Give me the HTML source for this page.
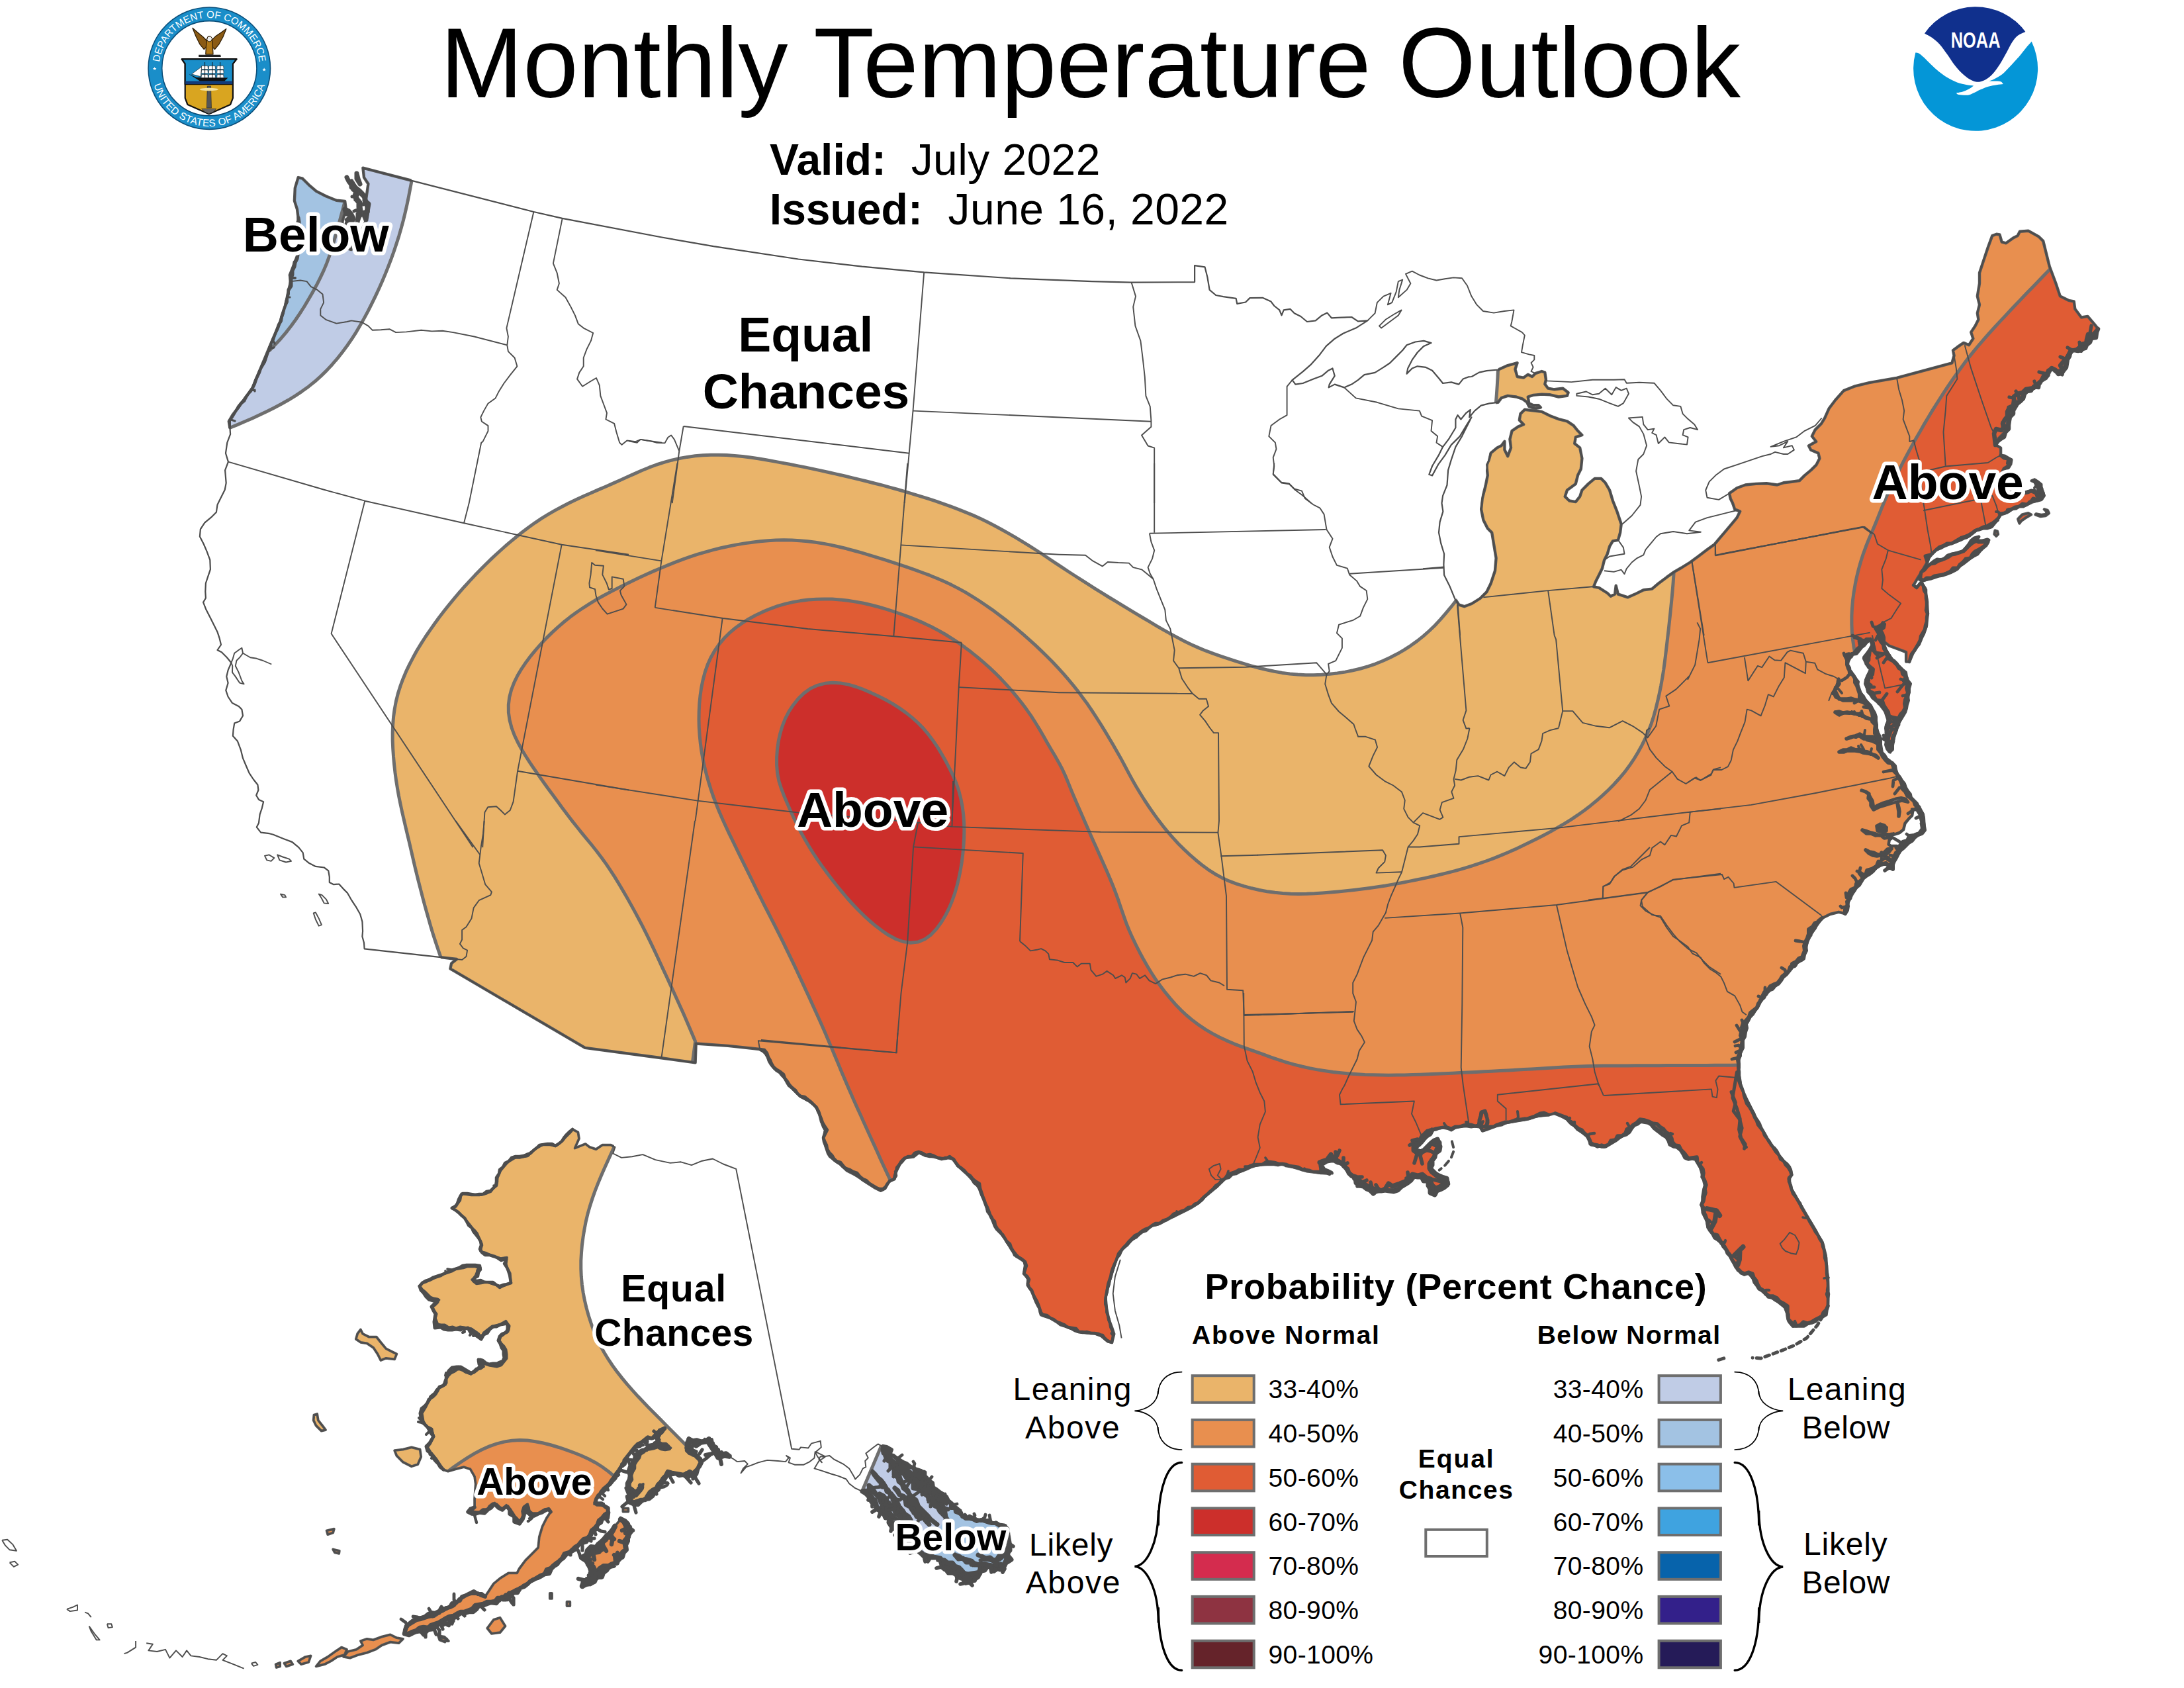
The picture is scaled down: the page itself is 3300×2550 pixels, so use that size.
<!DOCTYPE html><html><head><meta charset="utf-8"><title>Monthly Temperature Outlook</title>
<style>html,body{margin:0;padding:0;background:#fff}svg{display:block}text{font-family:"Liberation Sans",Arial,Helvetica,sans-serif}.b{font-weight:bold}.h{paint-order:stroke;stroke:#fff;stroke-width:11px;stroke-linejoin:round}</style></head><body>
<svg width="3300" height="2550" viewBox="0 0 3300 2550">
<rect width="3300" height="2550" fill="#fff"/>
<defs>
<clipPath id="us"><path d="M548.4 253.7 L622.1 272.9 L806.4 320.0 L849.7 329.9 L1000.0 358.5 L1078.2 372.2 L1206.4 391.5 L1302.6 402.7 L1396.2 411.3 L1526.9 420.3 L1650.0 425.1 L1709.6 426.7 L1805.1 426.1 L1805.1 401.1 L1820.5 403.3 L1824.4 418.7 L1827.6 437.9 L1837.2 446.0 L1848.4 448.2 L1867.6 450.8 L1869.2 458.8 L1882.1 456.5 L1888.5 450.1 L1907.7 449.8 L1920.5 455.6 L1925.3 462.0 L1933.3 468.4 L1936.5 476.4 L1939.7 468.4 L1949.4 466.8 L1955.8 473.2 L1965.4 478.0 L1975.0 486.0 L1987.8 484.4 L1997.4 476.4 L2005.4 472.6 L2011.9 480.3 L2026.3 479.6 L2042.3 479.0 L2051.9 485.4 L2066.3 484.4 L2048.7 495.6 L2029.5 503.7 L2016.7 511.7 L2003.8 522.9 L1994.2 535.7 L1981.4 550.1 L1968.6 561.3 L1952.6 574.2 L1957.4 580.6 L1968.6 579.0 L1984.6 572.6 L1997.4 567.8 L2007.1 559.7 L2013.5 556.5 L2016.7 567.8 L2008.7 580.6 L2007.7 585.4 L2016.7 580.6 L2031.1 585.4 L2042.3 580.6 L2051.9 574.2 L2061.5 566.2 L2077.6 562.9 L2090.4 554.9 L2100.0 548.5 L2109.6 538.9 L2119.2 529.3 L2125.6 521.3 L2138.5 516.5 L2151.3 514.9 L2162.5 518.1 L2151.3 522.9 L2141.7 532.5 L2133.7 543.7 L2127.2 556.5 L2125.6 564.6 L2133.7 556.5 L2141.7 553.3 L2154.5 554.9 L2164.1 559.7 L2173.7 571.0 L2180.1 579.0 L2192.9 577.4 L2204.2 580.6 L2210.6 572.6 L2218.6 569.4 L2223.7 569.0 L2234.9 562.6 L2246.2 560.1 L2263.8 558.5 L2278.2 552.1 L2292.6 548.2 L2289.4 557.8 L2292.6 569.0 L2302.2 570.6 L2308.7 565.8 L2315.1 569.0 L2319.9 564.2 L2329.5 561.0 L2334.3 562.6 L2335.9 573.8 L2334.3 580.3 L2339.1 586.7 L2348.7 588.3 L2361.5 586.7 L2369.6 593.1 L2367.9 597.9 L2355.1 599.5 L2342.3 596.3 L2329.5 595.6 L2316.7 596.9 L2308.7 599.5 L2310.3 609.1 L2316.7 612.3 L2324.7 612.3 L2327.9 615.5 L2319.9 617.1 L2310.3 613.9 L2307.1 607.5 L2300.6 602.7 L2291.0 599.5 L2278.2 597.9 L2268.6 601.1 L2263.5 607.8 L2250.6 609.4 L2237.8 612.6 L2228.2 620.6 L2220.2 630.3 L2221.8 619.0 L2215.4 623.8 L2207.4 633.5 L2202.6 627.1 L2199.4 633.5 L2199.4 646.3 L2189.7 662.3 L2180.1 675.1 L2173.7 687.9 L2164.1 704.0 L2159.3 716.8 L2164.1 718.4 L2173.7 700.8 L2183.3 687.9 L2192.9 671.9 L2205.8 659.1 L2215.4 643.1 L2223.4 630.3 L2220.2 636.7 L2209.0 659.1 L2199.4 675.1 L2192.9 694.4 L2188.1 710.4 L2186.5 732.8 L2180.1 748.8 L2178.5 760.1 L2180.4 772.6 L2175.6 788.6 L2174.0 804.6 L2177.2 820.6 L2182.1 836.7 L2181.4 852.7 L2182.1 868.7 L2190.1 884.7 L2198.1 904.0 L2204.5 913.6 L2212.5 916.2 L2223.7 912.0 L2236.5 904.0 L2246.2 894.4 L2252.6 881.5 L2259.0 862.3 L2260.6 843.1 L2257.4 823.8 L2254.2 804.6 L2247.8 798.2 L2241.3 785.4 L2238.1 769.4 L2239.7 753.3 L2244.6 734.1 L2247.8 718.1 L2246.2 702.1 L2249.4 695.6 L2252.6 684.4 L2262.2 676.4 L2268.6 673.2 L2273.4 666.8 L2273.4 679.6 L2278.2 689.2 L2283.0 676.4 L2281.4 663.6 L2284.6 650.8 L2294.2 644.4 L2302.2 641.2 L2295.8 634.7 L2297.4 625.1 L2303.8 618.7 L2316.7 620.3 L2329.5 621.9 L2342.3 628.3 L2355.1 633.1 L2367.9 636.3 L2377.6 642.8 L2384.0 650.8 L2390.4 657.2 L2380.8 660.4 L2379.2 670.0 L2387.2 676.4 L2390.4 692.4 L2388.8 708.5 L2384.0 718.1 L2380.8 730.9 L2374.4 735.7 L2367.9 740.5 L2364.7 750.1 L2371.2 756.5 L2380.8 758.1 L2387.2 750.1 L2390.4 740.5 L2400.0 730.9 L2409.6 722.9 L2419.2 722.9 L2425.6 729.3 L2432.1 740.5 L2436.9 756.5 L2443.3 772.6 L2449.7 791.8 L2448.1 804.6 L2444.9 815.8 L2436.9 817.4 L2432.1 825.4 L2428.8 836.7 L2424.0 846.3 L2420.8 859.1 L2416.0 868.7 L2411.2 878.3 L2408.0 886.3 L2416.0 887.9 L2428.8 896.0 L2433.7 900.8 L2440.1 897.6 L2441.7 884.7 L2444.9 897.6 L2449.7 899.2 L2459.3 902.4 L2470.5 897.6 L2483.3 891.2 L2496.2 889.6 L2505.8 881.5 L2518.6 871.9 L2529.8 863.9 L2541.0 857.5 L2553.8 849.5 L2566.7 839.9 L2579.5 830.3 L2590.7 822.2 L2598.7 812.6 L2608.3 801.4 L2616.3 791.8 L2624.4 782.2 L2629.2 772.6 L2621.2 769.4 L2617.9 759.7 L2614.7 753.3 L2613.1 745.3 L2624.4 737.3 L2637.2 732.5 L2653.2 730.9 L2669.2 730.3 L2685.3 732.5 L2694.9 729.3 L2707.7 727.7 L2718.9 726.1 L2726.9 718.1 L2736.5 710.1 L2744.6 702.1 L2749.4 692.4 L2747.4 684.6 L2736.2 679.8 L2733.0 673.4 L2744.2 667.0 L2737.8 659.0 L2742.6 649.4 L2752.2 639.7 L2757.1 631.7 L2763.5 617.3 L2773.1 604.5 L2785.9 590.1 L2801.9 583.7 L2824.4 578.2 L2866.0 570.8 L2907.7 559.6 L2949.4 548.4 L2952.6 537.2 L2951.0 529.2 L2957.4 524.4 L2967.0 517.9 L2975.0 521.2 L2981.4 511.5 L2978.2 501.9 L2984.6 492.3 L2989.4 482.7 L2987.8 473.1 L2991.0 460.3 L2987.8 447.4 L2991.0 428.2 L2991.0 412.2 L2997.4 392.9 L3003.8 373.7 L3010.3 356.1 L3016.7 353.8 L3021.5 354.5 L3024.7 365.7 L3031.1 367.3 L3042.3 359.3 L3048.7 356.1 L3051.9 349.7 L3064.7 348.7 L3080.8 357.7 L3087.2 364.1 L3096.8 402.6 L3106.4 428.2 L3112.8 447.4 L3125.6 453.8 L3133.7 455.4 L3135.3 466.7 L3144.9 479.5 L3154.5 477.9 L3164.1 489.1 L3170.5 497.1 L3167.3 505.1 L3157.7 511.5 L3151.3 521.2 L3144.9 530.8 L3132.1 529.2 L3125.6 540.4 L3119.2 553.2 L3116.0 566.0 L3100.0 556.4 L3093.6 569.2 L3084.0 575.6 L3077.6 585.3 L3064.7 588.5 L3055.1 598.1 L3048.7 607.7 L3039.1 617.3 L3034.3 630.1 L3032.7 639.7 L3029.5 652.6 L3019.9 662.2 L3015.1 671.8 L3023.1 676.6 L3023.1 687.8 L3031.1 691.0 L3039.1 694.2 L3035.9 703.8 L3029.5 710.3 L3023.1 719.9 L3026.3 732.7 L3042.3 743.9 L3055.1 745.5 L3064.7 742.3 L3074.4 740.7 L3080.8 748.7 L3077.6 729.5 L3069.6 726.3 L3074.4 724.7 L3082.4 731.1 L3088.8 748.7 L3084.0 755.1 L3071.2 758.3 L3061.5 763.1 L3051.9 764.7 L3042.3 767.9 L3032.7 774.4 L3023.1 777.6 L3016.7 787.2 L3010.3 795.2 L3000.6 796.8 L2987.8 800.0 L2975.0 809.6 L2962.2 816.0 L2949.4 820.8 L2936.5 825.6 L2923.7 832.1 L2915.7 840.1 L2912.2 848.9 L2905.8 860.1 L2897.8 872.9 L2891.3 884.2 L2896.2 887.4 L2902.6 879.4 L2909.0 889.0 L2911.5 908.2 L2912.8 927.4 L2910.6 946.7 L2905.8 959.5 L2899.4 972.3 L2891.3 985.1 L2884.9 999.6 L2880.1 999.6 L2880.1 985.1 L2867.3 980.3 L2854.5 975.5 L2846.5 969.1 L2841.7 959.5 L2840.1 949.9 L2844.9 940.3 L2840.1 953.1 L2843.3 969.1 L2849.7 981.9 L2857.7 994.7 L2867.3 1004.4 L2876.9 1014.0 L2881.7 1025.2 L2884.0 1039.6 L2883.3 1052.4 L2880.1 1068.5 L2873.7 1081.3 L2867.3 1095.7 L2862.5 1110.1 L2859.3 1126.2 L2856.1 1136.4 L2852.9 1132.6 L2850.6 1116.5 L2849.7 1100.5 L2852.9 1087.7 L2849.7 1076.5 L2840.1 1063.7 L2830.4 1054.0 L2822.4 1042.8 L2819.2 1030.0 L2822.4 1020.4 L2828.8 1010.8 L2820.8 1004.4 L2816.0 994.7 L2822.4 985.1 L2828.8 975.5 L2826.3 965.9 L2817.6 972.3 L2806.4 981.9 L2796.8 991.5 L2790.4 999.6 L2793.6 1010.8 L2803.2 1023.6 L2808.0 1036.4 L2811.2 1046.0 L2817.6 1055.6 L2825.6 1065.3 L2830.4 1076.5 L2833.7 1087.7 L2835.9 1100.5 L2837.5 1113.3 L2840.1 1126.2 L2843.3 1137.4 L2848.1 1145.4 L2854.5 1148.6 L2859.3 1153.4 L2858.3 1153.7 L2864.3 1164.4 L2870.2 1175.0 L2876.1 1185.7 L2880.9 1195.2 L2885.6 1202.3 L2890.3 1208.2 L2896.3 1215.3 L2901.0 1221.2 L2904.5 1228.3 L2906.9 1236.6 L2907.5 1246.1 L2906.9 1255.6 L2902.2 1260.3 L2896.3 1262.7 L2890.3 1266.3 L2884.4 1271.0 L2878.5 1275.7 L2873.7 1281.7 L2869.0 1288.8 L2864.3 1295.9 L2860.7 1303.0 L2859.5 1312.5 L2848.7 1304.0 L2839.1 1308.8 L2826.3 1316.9 L2816.7 1324.9 L2807.1 1337.7 L2799.0 1350.5 L2792.6 1363.3 L2790.4 1376.2 L2787.8 1380.0 L2778.2 1377.8 L2765.4 1381.0 L2752.6 1387.4 L2744.6 1398.6 L2736.5 1411.4 L2730.1 1424.2 L2728.5 1437.1 L2723.7 1449.9 L2712.5 1454.7 L2704.5 1465.9 L2694.9 1475.5 L2688.5 1485.1 L2678.8 1491.5 L2669.2 1501.2 L2659.6 1514.0 L2651.6 1526.8 L2643.6 1536.4 L2637.2 1549.2 L2635.6 1562.1 L2632.4 1574.9 L2630.8 1587.7 L2627.6 1600.5 L2626.9 1613.3 L2628.2 1629.4 L2630.8 1642.2 L2638.5 1659.2 L2648.1 1678.5 L2657.7 1697.7 L2670.5 1720.1 L2683.3 1739.4 L2696.2 1755.4 L2705.8 1766.6 L2707.4 1774.6 L2702.6 1781.0 L2707.4 1797.1 L2718.6 1816.3 L2731.4 1838.7 L2744.2 1861.2 L2753.8 1877.2 L2758.7 1896.4 L2760.3 1915.6 L2761.9 1934.9 L2762.5 1954.1 L2761.9 1973.3 L2757.1 1986.2 L2747.4 1992.6 L2734.6 1999.0 L2721.8 2002.2 L2709.0 2003.8 L2702.6 1995.8 L2701.0 1986.2 L2696.2 1973.3 L2683.3 1963.7 L2670.5 1957.3 L2659.3 1947.7 L2651.3 1934.9 L2643.3 1922.1 L2635.3 1925.3 L2625.6 1918.8 L2619.2 1906.0 L2611.2 1893.2 L2600.0 1877.2 L2588.8 1864.4 L2580.8 1854.7 L2579.2 1845.1 L2572.8 1832.3 L2571.2 1819.5 L2574.4 1806.7 L2576.0 1790.6 L2572.8 1777.8 L2569.6 1765.0 L2561.5 1749.0 L2548.7 1750.6 L2539.1 1737.8 L2524.7 1726.5 L2519.9 1716.9 L2507.1 1707.3 L2494.2 1697.7 L2481.4 1692.9 L2468.6 1699.3 L2462.2 1707.3 L2452.6 1715.3 L2439.7 1723.3 L2423.7 1732.9 L2404.5 1729.7 L2398.1 1716.9 L2382.1 1704.1 L2369.2 1691.3 L2350.0 1681.7 L2339.7 1684.3 L2323.7 1685.9 L2307.7 1690.7 L2294.9 1692.3 L2278.8 1695.5 L2262.8 1700.3 L2250.0 1705.1 L2240.4 1708.3 L2234.0 1698.7 L2238.8 1679.5 L2243.6 1677.9 L2248.4 1692.3 L2246.8 1701.9 L2230.8 1701.9 L2217.9 1700.3 L2205.1 1701.9 L2192.3 1705.1 L2179.5 1703.5 L2163.5 1706.7 L2153.8 1714.7 L2147.4 1724.4 L2139.4 1730.8 L2136.2 1737.2 L2147.4 1738.8 L2157.1 1734.0 L2163.5 1724.4 L2173.1 1721.2 L2176.3 1730.8 L2169.9 1743.6 L2163.5 1756.4 L2160.3 1766.0 L2166.7 1772.4 L2176.3 1775.6 L2185.9 1782.1 L2189.1 1788.5 L2179.5 1794.9 L2169.9 1798.1 L2165.1 1804.5 L2163.5 1794.9 L2157.1 1782.1 L2147.4 1777.2 L2137.8 1778.8 L2128.2 1785.3 L2118.6 1791.7 L2105.8 1796.5 L2089.7 1798.1 L2073.7 1801.3 L2064.1 1793.3 L2051.3 1786.9 L2044.9 1778.8 L2035.3 1769.2 L2028.8 1759.6 L2022.4 1756.4 L2012.8 1750.0 L2003.2 1753.2 L1993.6 1756.4 L2000.0 1766.0 L2012.8 1772.4 L2003.2 1772.4 L1987.2 1770.8 L1974.4 1769.2 L1958.3 1764.4 L1942.3 1759.6 L1926.3 1758.0 L1910.3 1759.0 L1892.6 1761.2 L1878.2 1767.6 L1862.2 1774.0 L1849.4 1782.1 L1839.7 1791.7 L1830.1 1799.7 L1820.5 1807.7 L1810.9 1817.3 L1798.1 1825.3 L1782.1 1833.3 L1766.0 1841.3 L1750.0 1849.4 L1741.0 1851.7 L1725.0 1861.3 L1709.0 1874.1 L1696.2 1886.9 L1688.1 1899.7 L1683.3 1912.6 L1678.5 1928.6 L1673.7 1944.6 L1670.5 1960.6 L1672.1 1976.7 L1675.3 1992.7 L1680.1 2005.5 L1683.3 2015.1 L1680.1 2027.9 L1673.7 2026.3 L1664.1 2018.3 L1654.5 2014.5 L1641.7 2013.5 L1628.8 2011.9 L1616.0 2005.5 L1603.2 2000.7 L1590.4 1992.7 L1580.8 1987.9 L1572.8 1986.3 L1569.6 1973.5 L1563.1 1960.6 L1558.3 1949.4 L1552.6 1941.4 L1553.5 1931.8 L1547.1 1923.8 L1550.3 1912.6 L1547.1 1904.6 L1535.9 1898.1 L1527.9 1886.9 L1521.5 1875.7 L1513.5 1864.5 L1503.8 1853.3 L1499.0 1842.1 L1492.6 1829.2 L1487.8 1816.4 L1483.0 1803.6 L1479.8 1794.0 L1468.6 1781.2 L1457.4 1769.9 L1447.8 1761.9 L1439.7 1750.7 L1433.3 1749.1 L1423.7 1750.7 L1410.9 1747.5 L1398.1 1745.9 L1388.5 1741.1 L1380.4 1747.5 L1367.6 1749.1 L1359.6 1758.7 L1353.2 1771.5 L1351.6 1781.2 L1343.6 1784.4 L1337.2 1795.6 L1330.8 1798.8 L1321.2 1794.0 L1311.5 1787.6 L1301.9 1781.2 L1292.3 1774.7 L1279.5 1768.3 L1269.9 1758.7 L1260.3 1752.3 L1252.2 1742.7 L1247.4 1729.9 L1244.2 1718.7 L1247.4 1707.4 L1241.0 1694.6 L1237.8 1681.8 L1233.0 1672.2 L1221.8 1662.6 L1209.0 1656.2 L1199.4 1646.5 L1189.7 1635.3 L1180.1 1620.9 L1170.5 1614.5 L1162.5 1603.3 L1157.7 1590.4 L1148.1 1585.0 L1100.0 1579.9 L1051.6 1576.5 L1050.6 1605.4 L999.4 1598.3 L884.0 1582.9 L680.4 1463.4 L682.1 1455.4 L690.1 1449.0 L666.0 1446.1 L550.6 1433.3 L550.0 1424.3 L547.4 1414.7 L548.1 1406.7 L547.4 1392.2 L544.2 1381.0 L537.8 1369.8 L531.4 1360.2 L525.0 1349.0 L518.6 1342.6 L512.2 1335.5 L504.2 1336.2 L497.8 1332.9 L497.8 1324.9 L496.2 1315.3 L489.7 1310.5 L476.9 1308.9 L467.3 1304.1 L459.3 1297.7 L457.7 1288.1 L451.3 1280.1 L441.7 1272.1 L428.8 1267.2 L412.8 1260.8 L407.1 1259.2 L394.2 1257.6 L387.8 1249.6 L391.0 1243.2 L392.6 1230.4 L395.8 1220.8 L398.1 1211.2 L391.0 1207.9 L387.2 1201.5 L390.4 1193.5 L389.4 1185.5 L383.0 1177.5 L376.6 1167.9 L371.8 1156.7 L367.0 1145.4 L363.8 1132.6 L359.0 1119.8 L351.9 1111.8 L352.6 1102.2 L354.2 1092.6 L362.2 1089.4 L367.0 1081.3 L365.4 1071.7 L360.6 1066.9 L351.0 1062.1 L344.6 1052.5 L341.3 1042.9 L344.6 1031.7 L342.3 1022.1 L344.6 1012.4 L349.4 1001.2 L342.9 993.2 L334.9 985.2 L328.5 982.0 L334.0 974.0 L331.7 964.4 L328.5 954.7 L323.7 945.1 L317.3 932.3 L311.5 921.1 L307.1 909.9 L310.9 903.5 L310.3 893.8 L310.9 881.0 L314.1 871.4 L317.9 860.2 L317.3 845.8 L312.5 832.9 L307.7 821.7 L301.9 810.5 L302.9 799.3 L309.3 789.7 L318.9 781.7 L326.9 773.7 L328.5 762.4 L333.3 752.8 L339.7 740.0 L341.7 729.6 L340.1 710.4 L344.9 697.6 L341.0 684.7 L343.3 668.7 L348.1 655.9 L347.4 646.3 L345.8 636.7 L351.3 627.1 L360.9 614.2 L370.5 601.4 L381.7 585.4 L389.7 566.2 L397.8 546.9 L405.8 527.7 L413.8 508.5 L423.4 486.0 L431.4 460.4 L436.2 437.9 L439.4 425.1 L437.8 415.5 L444.2 399.5 L449.0 386.7 L451.3 354.6 L450.6 329.0 L449.0 316.2 L444.9 303.3 L445.8 284.1 L450.6 268.1 L457.1 269.7 L466.7 279.3 L477.9 288.9 L492.3 296.3 L508.3 302.7 L521.2 304.0 L522.8 316.2 L517.9 332.2 L514.7 354.6 L521.2 373.8 L530.8 377.1 L537.2 361.0 L546.8 348.2 L553.2 332.2 L556.4 319.4 L553.2 300.1 L556.4 277.7 L550.0 268.1 L548.4 253.7 Z M2903.1 864.2 L2913.0 854.3 L2921.8 848.8 L2929.5 845.5 L2938.2 844.4 L2943.7 838.9 L2954.7 835.6 L2965.7 832.3 L2973.4 824.6 L2978.9 816.9 L2985.5 812.5 L2988.8 811.4 L2985.5 816.9 L2988.8 819.1 L2995.4 816.9 L3005.3 815.8 L3000.9 823.5 L2992.1 831.2 L2983.3 838.9 L2974.5 845.5 L2965.7 852.1 L2956.9 858.7 L2948.1 863.1 L2939.3 866.4 L2930.5 869.7 L2921.8 871.9 L2913.0 875.2 L2905.3 877.4 L2899.8 875.2 L2902.0 868.6 Z M3049.2 784.0 L3055.8 777.4 L3064.6 775.2 L3069.0 777.4 L3061.3 781.8 L3053.6 787.3 L3051.4 790.5 Z M3075.6 777.4 L3083.3 780.1 L3091.0 779.0 L3095.9 775.2 L3093.7 770.8 L3088.8 769.5 L3092.6 773.0 L3091.5 776.8 L3084.4 777.9 L3076.7 776.3 Z M3014.6 801.5 L3017.9 802.6 L3019.0 807.0 L3016.3 809.8 L3013.5 807.0 Z"/></clipPath>
<clipPath id="ak"><path d="M865.4 1706.3 L855.8 1715.3 L847.8 1724.9 L839.7 1731.3 L826.9 1728.1 L817.3 1729.7 L807.7 1736.1 L798.1 1745.7 L785.3 1748.9 L775.6 1748.9 L766.0 1756.9 L756.4 1768.1 L751.6 1779.4 L750.0 1790.6 L740.4 1800.2 L727.6 1805.0 L711.5 1804.4 L697.1 1803.4 L693.9 1814.6 L689.1 1822.6 L682.7 1824.9 L692.3 1830.6 L701.9 1840.3 L711.5 1853.1 L721.2 1865.9 L727.6 1878.7 L726.0 1889.9 L737.2 1894.7 L748.4 1897.9 L756.4 1901.2 L766.0 1899.6 L764.4 1910.8 L770.8 1923.6 L771.8 1938.0 L756.4 1944.4 L743.6 1938.0 L730.8 1936.4 L721.2 1938.0 L713.1 1933.2 L721.2 1926.8 L721.2 1918.8 L726.0 1915.6 L721.2 1912.4 L705.1 1912.4 L689.1 1917.2 L673.1 1923.6 L657.1 1930.0 L641.0 1936.4 L634.0 1942.8 L641.0 1952.4 L650.6 1962.1 L663.5 1963.7 L657.1 1970.1 L652.2 1973.3 L657.1 1981.3 L658.7 1987.7 L657.1 1995.7 L660.3 2002.1 L673.1 2003.7 L685.9 2008.5 L698.7 2005.3 L711.5 2006.9 L721.2 2013.3 L727.6 2019.7 L730.8 2013.3 L743.6 2003.7 L756.4 2000.5 L764.4 1995.7 L768.6 2003.7 L767.6 2011.7 L756.4 2016.5 L753.2 2026.2 L758.0 2032.6 L762.8 2039.0 L764.4 2051.8 L756.4 2061.4 L743.6 2063.0 L734.0 2059.8 L726.0 2053.4 L722.8 2056.6 L730.8 2064.6 L721.2 2069.4 L711.5 2075.8 L701.9 2071.0 L692.3 2064.6 L682.7 2071.0 L674.7 2080.6 L673.1 2091.9 L663.5 2096.7 L657.1 2106.3 L649.0 2114.3 L642.6 2123.9 L636.2 2135.1 L639.4 2147.9 L644.2 2154.4 L652.2 2159.2 L655.4 2170.4 L650.6 2180.0 L645.8 2186.4 L652.2 2196.0 L660.3 2205.6 L666.7 2215.3 L669.9 2220.1 L677.0 2222.6 L688.2 2219.4 L701.0 2216.2 L710.6 2219.4 L717.1 2230.6 L718.7 2241.8 L717.1 2264.2 L717.1 2277.1 L707.4 2283.5 L717.1 2286.7 L729.9 2283.5 L739.5 2277.1 L747.5 2270.6 L752.3 2277.1 L758.7 2280.3 L765.1 2273.8 L771.5 2280.3 L777.9 2293.1 L784.4 2299.5 L790.8 2289.9 L790.8 2278.7 L797.2 2272.2 L798.8 2280.3 L803.6 2289.9 L816.4 2285.1 L829.2 2278.7 L832.4 2283.5 L826.0 2293.1 L819.6 2305.9 L814.8 2321.9 L813.2 2337.9 L803.6 2347.6 L794.0 2357.2 L784.4 2370.0 L781.2 2376.4 L768.3 2376.4 L755.5 2384.4 L745.9 2392.4 L739.5 2402.1 L733.1 2411.7 L726.7 2408.5 L717.1 2406.9 L704.2 2410.1 L694.6 2416.5 L685.0 2424.5 L675.4 2430.9 L665.8 2435.7 L656.2 2442.1 L643.3 2443.7 L630.5 2446.9 L620.9 2451.7 L612.9 2459.7 L611.3 2467.8 L620.9 2466.2 L633.7 2461.3 L646.5 2459.7 L656.2 2456.5 L665.8 2450.1 L675.4 2445.3 L685.0 2440.5 L694.6 2437.3 L704.2 2432.5 L717.1 2427.7 L729.9 2422.9 L742.7 2419.7 L752.3 2414.9 L761.9 2410.1 L771.5 2405.3 L781.2 2400.4 L790.8 2395.6 L800.4 2389.2 L810.0 2384.4 L819.6 2378.0 L829.2 2371.6 L838.8 2362.0 L848.5 2354.0 L858.1 2346.0 L867.7 2337.9 L877.3 2331.5 L886.9 2323.5 L893.3 2315.5 L899.7 2305.9 L906.2 2297.9 L912.6 2291.5 L919.0 2285.1 L917.4 2277.1 L907.8 2273.8 L898.1 2272.2 L901.3 2262.6 L907.8 2254.6 L915.8 2246.6 L922.2 2240.2 L928.6 2230.6 L933.4 2222.6 L939.8 2212.9 L946.2 2203.3 L952.6 2193.7 L960.6 2185.7 L970.3 2177.7 L978.3 2171.3 L986.3 2172.9 L992.7 2164.9 L1003.9 2158.5 L995.9 2168.1 L992.7 2177.7 L1002.3 2182.5 L1013.5 2187.3 L1005.5 2188.9 L992.7 2184.1 L979.9 2188.9 L967.1 2195.3 L959.0 2206.5 L955.8 2219.4 L952.6 2232.2 L951.0 2245.0 L957.4 2254.6 L965.4 2248.2 L971.9 2241.8 L968.7 2251.4 L957.4 2261.0 L949.4 2264.2 L957.4 2270.6 L970.3 2265.8 L979.9 2259.4 L989.5 2251.4 L995.9 2241.8 L1005.5 2232.2 L1011.9 2222.6 L1021.5 2225.8 L1029.6 2229.0 L1040.8 2222.6 L1047.2 2229.0 L1055.2 2216.2 L1060.0 2206.5 L1050.4 2200.1 L1040.8 2195.3 L1036.0 2187.3 L1040.8 2174.5 L1053.6 2179.3 L1063.2 2176.1 L1072.8 2171.3 L1079.2 2184.1 L1088.8 2193.7 L1101.7 2200.1 L1109.2 2204.7 L1113.7 2208.1 L1125.2 2207.0 L1129.8 2211.6 L1122.9 2218.4 L1119.5 2225.3 L1127.5 2216.2 L1134.3 2213.9 L1145.8 2209.3 L1159.5 2205.9 L1175.5 2207.0 L1187.0 2208.1 L1191.6 2202.4 L1188.1 2199.0 L1193.9 2202.4 L1191.6 2209.3 L1200.7 2212.7 L1214.5 2212.7 L1223.6 2208.1 L1230.5 2202.4 L1231.6 2193.3 L1235.1 2200.1 L1241.9 2209.3 L1237.4 2204.7 L1239.7 2200.1 L1246.5 2201.3 L1237.4 2207.0 L1230.5 2218.4 L1241.9 2221.9 L1255.7 2226.5 L1267.1 2229.9 L1278.6 2234.5 L1283.2 2241.3 L1292.3 2248.2 L1302.6 2252.8 L1315.2 2257.4 L1322.1 2266.5 L1324.4 2275.7 L1333.5 2284.8 L1345.0 2291.7 L1349.5 2300.9 L1363.3 2314.6 L1379.3 2332.9 L1395.3 2348.9 L1420.5 2353.5 L1425.1 2367.3 L1438.8 2374.1 L1452.6 2383.3 L1464.0 2389.0 L1477.7 2381.0 L1480.0 2371.8 L1493.8 2365.0 L1512.1 2368.4 L1519.0 2355.8 L1519.0 2310.0 L1509.8 2305.4 L1505.2 2300.9 L1498.4 2302.0 L1489.2 2297.4 L1477.7 2296.3 L1466.3 2292.8 L1457.1 2294.0 L1452.6 2289.4 L1445.7 2284.8 L1443.4 2278.0 L1437.7 2278.0 L1436.5 2271.1 L1425.1 2259.7 L1413.6 2250.5 L1404.5 2241.3 L1397.6 2232.2 L1390.8 2226.5 L1381.6 2218.4 L1370.1 2213.9 L1361.0 2209.3 L1351.8 2201.3 L1342.7 2197.8 L1340.4 2188.7 L1333.5 2185.2 L1326.6 2181.4 L1319.8 2186.4 L1308.3 2195.5 L1311.8 2202.4 L1307.2 2207.0 L1308.3 2216.2 L1303.8 2218.4 L1299.2 2227.6 L1292.3 2234.5 L1290.0 2229.9 L1283.2 2218.4 L1274.0 2211.6 L1260.3 2204.7 L1253.4 2199.0 L1246.5 2200.1 L1232.8 2193.3 L1240.8 2186.4 L1239.7 2176.8 L1225.9 2180.7 L1221.3 2187.5 L1209.9 2186.4 L1207.6 2189.8 L1196.2 2188.7 L1112.2 1765.9 L1092.9 1758.5 L1076.9 1750.5 L1060.9 1753.7 L1044.9 1760.1 L1028.8 1755.3 L1012.8 1756.9 L990.4 1752.1 L971.2 1744.1 L955.1 1747.3 L939.1 1748.9 L926.3 1742.5 L929.5 1732.9 L923.1 1729.7 L910.3 1729.7 L900.6 1736.1 L891.0 1732.9 L884.6 1728.1 L868.6 1734.5 L875.0 1720.1 L873.4 1710.4 L865.4 1706.3 Z M544.9 2008.5 L548.1 2014.9 L557.7 2019.7 L568.9 2019.7 L575.3 2027.8 L583.3 2037.4 L592.9 2042.2 L599.4 2045.4 L596.2 2053.4 L583.3 2051.8 L575.3 2055.0 L570.5 2045.4 L564.1 2035.8 L554.5 2029.4 L544.9 2027.8 L537.8 2022.9 L540.1 2014.9 Z M596.2 2191.2 L609.0 2189.6 L621.8 2186.4 L634.6 2189.6 L636.2 2200.8 L631.4 2212.1 L621.8 2215.3 L609.0 2208.8 L599.4 2199.2 Z M938.2 2294.7 L949.4 2302.7 L955.8 2312.3 L947.8 2325.1 L946.2 2341.2 L938.2 2354.0 L928.6 2363.6 L915.8 2373.2 L906.2 2382.8 L893.3 2390.8 L880.5 2395.6 L886.9 2386.0 L893.3 2373.2 L886.9 2363.6 L882.1 2354.0 L890.1 2344.4 L901.3 2337.9 L909.4 2328.3 L919.0 2318.7 L928.6 2305.9 Z M736.3 2459.7 L745.9 2446.9 L755.5 2443.7 L763.5 2456.5 L755.5 2466.2 L742.7 2467.8 Z M544.9 2479.0 L554.5 2475.8 L564.1 2477.4 L576.9 2472.6 L589.7 2469.4 L599.4 2474.2 L609.0 2475.8 L602.6 2482.2 L589.7 2480.6 L576.9 2485.4 L567.3 2491.8 L554.5 2496.6 L541.7 2499.8 L528.8 2504.6 L519.2 2503.0 L525.6 2495.0 L538.5 2491.8 L548.1 2485.4 Z M506.4 2495.0 L516.0 2488.6 L524.0 2491.8 L520.8 2499.8 L509.6 2503.0 L500.0 2509.4 L490.4 2514.2 L477.6 2517.4 L484.0 2509.4 L495.2 2503.0 Z M450.3 2509.4 L461.5 2503.0 L469.6 2501.4 L466.3 2511.0 L455.1 2514.2 Z M429.5 2512.6 L439.1 2509.4 L442.3 2514.2 L432.7 2517.4 Z M416.7 2514.2 L423.1 2511.7 L423.1 2517.4 L417.6 2519.0 Z M662.6 2472.6 L675.4 2475.8 L672.2 2480.6 L664.2 2477.4 Z M856.5 2419.7 L861.3 2419.7 L861.3 2426.1 L856.5 2426.1 Z M830.8 2406.9 L834.0 2406.9 L834.0 2414.9 L830.8 2414.9 Z M941.4 2278.7 L949.4 2278.7 L949.4 2283.5 L941.4 2283.5 Z M474.4 2137.6 L479.2 2136.0 L480.8 2145.6 L487.2 2153.7 L492.0 2160.1 L485.6 2161.7 L477.6 2153.7 L473.7 2145.6 Z M493.6 2312.3 L504.8 2309.7 L503.2 2315.5 L495.2 2318.1 Z M503.2 2340.5 L512.8 2342.8 L512.2 2346.9 L505.8 2345.3 Z M661.9 2471.0 L671.5 2472.6 L677.9 2479.0 L668.3 2479.0 Z"/></clipPath>
<clipPath id="col"><path d="M666.0 1446.1 L662.1 1434.7 L658.3 1423.4 L654.6 1411.9 L651.1 1400.4 L647.8 1388.9 L644.5 1377.3 L641.3 1365.8 L638.2 1354.2 L635.2 1342.5 L632.2 1330.9 L629.3 1319.2 L626.5 1307.6 L623.8 1295.9 L621.1 1284.2 L618.4 1272.5 L615.6 1260.8 L612.8 1249.1 L610.1 1237.4 L607.4 1225.7 L604.9 1213.9 L602.5 1202.2 L600.4 1190.4 L598.5 1178.5 L596.9 1166.6 L595.6 1154.7 L594.5 1142.7 L593.7 1130.8 L593.2 1118.8 L593.2 1106.8 L593.6 1094.9 L594.6 1082.9 L596.2 1071.1 L598.4 1059.4 L601.3 1047.8 L604.9 1036.4 L609.1 1025.2 L613.7 1014.2 L618.9 1003.4 L624.4 992.8 L630.2 982.3 L636.4 972.1 L642.9 962.0 L649.7 952.1 L656.6 942.3 L663.7 932.6 L671.0 923.1 L678.5 913.6 L686.1 904.4 L693.9 895.2 L701.8 886.2 L709.9 877.4 L718.1 868.6 L726.5 860.0 L735.0 851.5 L743.6 843.1 L752.4 835.0 L761.3 827.0 L770.4 819.1 L779.7 811.5 L789.0 804.0 L798.6 796.7 L808.3 789.8 L818.3 783.2 L828.5 776.9 L838.9 770.9 L849.5 765.2 L860.1 759.7 L871.0 754.5 L881.9 749.5 L892.9 744.7 L903.9 739.9 L914.9 735.2 L925.9 730.4 L936.9 725.5 L947.8 720.5 L958.8 715.6 L969.7 710.7 L980.8 706.2 L992.0 702.0 L1003.4 698.4 L1014.9 695.2 L1026.6 692.5 L1038.4 690.4 L1050.2 688.8 L1062.1 687.7 L1074.1 687.2 L1086.0 687.2 L1098.0 687.6 L1110.0 688.4 L1121.9 689.5 L1133.8 691.0 L1145.7 692.8 L1157.5 694.7 L1169.3 696.9 L1181.2 699.1 L1192.9 701.3 L1204.7 703.6 L1216.5 705.9 L1228.3 708.4 L1240.0 710.9 L1251.8 713.5 L1263.5 716.1 L1275.2 718.8 L1286.9 721.6 L1298.5 724.4 L1310.2 727.3 L1321.9 730.2 L1333.5 733.2 L1345.1 736.3 L1356.7 739.5 L1368.2 742.8 L1379.7 746.3 L1391.2 749.8 L1402.7 753.4 L1414.1 757.1 L1425.4 761.1 L1436.7 765.2 L1447.9 769.4 L1459.1 773.8 L1470.2 778.4 L1481.1 783.3 L1491.9 788.5 L1502.5 794.0 L1513.1 799.7 L1523.6 805.6 L1534.0 811.6 L1544.3 817.8 L1554.5 824.1 L1564.6 830.5 L1574.7 837.0 L1584.6 843.7 L1594.5 850.3 L1604.4 856.9 L1614.4 863.5 L1624.5 870.0 L1634.5 876.4 L1644.7 882.9 L1654.8 889.3 L1665.0 895.7 L1675.2 902.0 L1685.5 908.2 L1695.7 914.4 L1706.0 920.6 L1716.3 926.8 L1726.6 933.0 L1737.0 939.2 L1747.3 945.3 L1757.7 951.3 L1768.1 957.2 L1778.7 962.9 L1789.3 968.5 L1800.1 973.7 L1811.1 978.6 L1822.1 983.2 L1833.4 987.4 L1844.7 991.3 L1856.1 995.1 L1867.5 998.8 L1878.9 1002.4 L1890.4 1005.8 L1902.0 1009.0 L1913.7 1011.8 L1925.4 1014.3 L1937.2 1016.4 L1949.0 1018.0 L1960.9 1019.1 L1972.9 1019.7 L1984.9 1019.7 L1996.8 1019.3 L2008.8 1018.3 L2020.7 1016.9 L2032.5 1015.1 L2044.2 1012.8 L2055.9 1010.0 L2067.4 1006.7 L2078.6 1002.8 L2089.7 998.3 L2100.6 993.3 L2111.2 987.8 L2121.5 981.8 L2131.6 975.3 L2141.3 968.4 L2150.7 960.9 L2159.6 953.0 L2168.2 944.7 L2176.4 935.9 L2184.2 926.9 L2191.9 917.7 L2199.4 908.3 L2202.7 897.7 L2206.2 887.0 L2209.8 876.0 L2213.6 864.8 L2217.3 853.5 L2220.8 842.0 L2223.9 830.5 L2226.7 818.8 L2229.2 807.1 L2231.4 795.3 L2233.5 783.5 L2235.4 771.7 L2237.1 759.8 L2238.7 747.9 L2240.5 736.1 L2242.4 724.2 L2244.5 712.5 L2246.9 700.7 L2249.3 689.0 L2251.5 677.2 L2253.5 665.4 L2255.3 653.5 L2256.8 641.6 L2258.2 629.7 L2259.5 617.8 L2260.6 605.8 L2261.5 593.9 L2262.3 581.9 L2263.0 569.9 L2263.5 557.9 L2264.0 546.0 L2264.4 534.0 L2264.8 522.0 L2265.1 510.0 L2265.3 498.0 L2265.5 486.0 L2265.7 474.0 L2265.9 462.0 L2266.1 450.0 L2266.2 438.0 L2266.4 426.0 L2266.5 414.0 L2266.7 402.0 L2266.8 390.0 L2267.0 378.0 L2267.2 366.0 L2267.3 354.0 L2267.5 342.0 L2267.6 330.0 L2267.8 318.0 L2268.0 306.0 L2268.1 294.0 L2268.3 282.0 L2268.4 270.0 L2268.6 258.0 L2268.7 246.0 L2268.9 234.0 L2269.1 222.0 L2269.2 210.0 L2269.4 198.0 L2269.5 186.0 L2269.7 174.0 L2269.8 162.0 L2270.0 150.0 L3400.0 150.0 L3400.0 2700.0 L500.0 2700.0 Z M622.1 272.9 L619.8 284.9 L617.5 297.0 L615.0 309.0 L612.3 320.9 L609.4 332.8 L606.2 344.6 L602.8 356.4 L599.1 368.1 L595.2 379.7 L591.1 391.2 L586.7 402.7 L582.1 414.1 L577.4 425.3 L572.4 436.5 L567.2 447.6 L561.8 458.6 L556.3 469.6 L550.5 480.4 L544.5 491.1 L538.3 501.6 L531.7 511.9 L524.7 522.0 L517.5 531.8 L509.9 541.4 L501.9 550.7 L493.6 559.6 L484.9 568.1 L475.8 576.3 L466.3 583.9 L456.4 591.1 L446.3 597.9 L435.8 604.3 L425.2 610.3 L414.4 616.0 L403.4 621.5 L392.3 626.8 L381.2 631.9 L370.0 636.8 L358.7 641.6 L347.4 646.3 L100.0 700.0 L100.0 100.0 L600.0 100.0 Z"/></clipPath>
<clipPath id="colak"><path d="M927.9 1732.9 L922.9 1743.8 L917.9 1754.8 L912.9 1765.8 L908.1 1776.8 L903.5 1787.9 L899.1 1799.1 L895.1 1810.4 L891.4 1821.9 L888.1 1833.4 L885.3 1845.1 L883.0 1856.9 L881.1 1868.7 L879.5 1880.6 L878.5 1892.6 L877.8 1904.6 L877.8 1916.6 L878.3 1928.6 L879.4 1940.5 L881.1 1952.4 L883.3 1964.1 L886.1 1975.8 L889.3 1987.4 L893.0 1998.8 L897.1 2010.1 L901.7 2021.1 L906.8 2032.0 L912.5 2042.5 L918.7 2052.7 L925.4 2062.7 L932.5 2072.4 L939.9 2081.9 L947.6 2091.1 L955.5 2100.2 L963.6 2109.1 L971.9 2117.8 L980.2 2126.5 L988.7 2135.1 L997.2 2143.6 L1005.7 2152.2 L1014.2 2160.7 L1022.7 2169.2 L1031.2 2177.7 L1150.0 2300.0 L1150.0 2600.0 L-100.0 2600.0 L-100.0 1600.0 L928.0 1600.0 Z M1331.2 2185.2 L1302.6 2252.8 L1315.2 2257.4 L1322.1 2266.5 L1324.4 2275.7 L1333.5 2284.8 L1345.0 2291.7 L1349.5 2300.9 L1363.3 2314.6 L1379.3 2332.9 L1395.3 2348.9 L1420.5 2353.5 L1425.1 2367.3 L1438.8 2374.1 L1452.6 2383.3 L1464.0 2389.0 L1477.7 2381.0 L1480.0 2371.8 L1493.8 2365.0 L1512.1 2368.4 L1519.0 2355.8 L1519.0 2310.0 L1509.8 2305.4 L1505.2 2300.9 L1498.4 2302.0 L1489.2 2297.4 L1477.7 2296.3 L1466.3 2292.8 L1457.1 2294.0 L1452.6 2289.4 L1445.7 2284.8 L1443.4 2278.0 L1437.7 2278.0 L1436.5 2271.1 L1425.1 2259.7 L1413.6 2250.5 L1404.5 2241.3 L1397.6 2232.2 L1390.8 2226.5 L1381.6 2218.4 L1370.1 2213.9 L1361.0 2209.3 L1351.8 2201.3 L1342.7 2197.8 L1340.4 2188.7 L1333.5 2185.2 Z"/></clipPath>
</defs>
<g clip-path="url(#us)">
<path d="M666.0 1446.1 L662.1 1434.7 L658.3 1423.4 L654.6 1411.9 L651.1 1400.4 L647.8 1388.9 L644.5 1377.3 L641.3 1365.8 L638.2 1354.2 L635.2 1342.5 L632.2 1330.9 L629.3 1319.2 L626.5 1307.6 L623.8 1295.9 L621.1 1284.2 L618.4 1272.5 L615.6 1260.8 L612.8 1249.1 L610.1 1237.4 L607.4 1225.7 L604.9 1213.9 L602.5 1202.2 L600.4 1190.4 L598.5 1178.5 L596.9 1166.6 L595.6 1154.7 L594.5 1142.7 L593.7 1130.8 L593.2 1118.8 L593.2 1106.8 L593.6 1094.9 L594.6 1082.9 L596.2 1071.1 L598.4 1059.4 L601.3 1047.8 L604.9 1036.4 L609.1 1025.2 L613.7 1014.2 L618.9 1003.4 L624.4 992.8 L630.2 982.3 L636.4 972.1 L642.9 962.0 L649.7 952.1 L656.6 942.3 L663.7 932.6 L671.0 923.1 L678.5 913.6 L686.1 904.4 L693.9 895.2 L701.8 886.2 L709.9 877.4 L718.1 868.6 L726.5 860.0 L735.0 851.5 L743.6 843.1 L752.4 835.0 L761.3 827.0 L770.4 819.1 L779.7 811.5 L789.0 804.0 L798.6 796.7 L808.3 789.8 L818.3 783.2 L828.5 776.9 L838.9 770.9 L849.5 765.2 L860.1 759.7 L871.0 754.5 L881.9 749.5 L892.9 744.7 L903.9 739.9 L914.9 735.2 L925.9 730.4 L936.9 725.5 L947.8 720.5 L958.8 715.6 L969.7 710.7 L980.8 706.2 L992.0 702.0 L1003.4 698.4 L1014.9 695.2 L1026.6 692.5 L1038.4 690.4 L1050.2 688.8 L1062.1 687.7 L1074.1 687.2 L1086.0 687.2 L1098.0 687.6 L1110.0 688.4 L1121.9 689.5 L1133.8 691.0 L1145.7 692.8 L1157.5 694.7 L1169.3 696.9 L1181.2 699.1 L1192.9 701.3 L1204.7 703.6 L1216.5 705.9 L1228.3 708.4 L1240.0 710.9 L1251.8 713.5 L1263.5 716.1 L1275.2 718.8 L1286.9 721.6 L1298.5 724.4 L1310.2 727.3 L1321.9 730.2 L1333.5 733.2 L1345.1 736.3 L1356.7 739.5 L1368.2 742.8 L1379.7 746.3 L1391.2 749.8 L1402.7 753.4 L1414.1 757.1 L1425.4 761.1 L1436.7 765.2 L1447.9 769.4 L1459.1 773.8 L1470.2 778.4 L1481.1 783.3 L1491.9 788.5 L1502.5 794.0 L1513.1 799.7 L1523.6 805.6 L1534.0 811.6 L1544.3 817.8 L1554.5 824.1 L1564.6 830.5 L1574.7 837.0 L1584.6 843.7 L1594.5 850.3 L1604.4 856.9 L1614.4 863.5 L1624.5 870.0 L1634.5 876.4 L1644.7 882.9 L1654.8 889.3 L1665.0 895.7 L1675.2 902.0 L1685.5 908.2 L1695.7 914.4 L1706.0 920.6 L1716.3 926.8 L1726.6 933.0 L1737.0 939.2 L1747.3 945.3 L1757.7 951.3 L1768.1 957.2 L1778.7 962.9 L1789.3 968.5 L1800.1 973.7 L1811.1 978.6 L1822.1 983.2 L1833.4 987.4 L1844.7 991.3 L1856.1 995.1 L1867.5 998.8 L1878.9 1002.4 L1890.4 1005.8 L1902.0 1009.0 L1913.7 1011.8 L1925.4 1014.3 L1937.2 1016.4 L1949.0 1018.0 L1960.9 1019.1 L1972.9 1019.7 L1984.9 1019.7 L1996.8 1019.3 L2008.8 1018.3 L2020.7 1016.9 L2032.5 1015.1 L2044.2 1012.8 L2055.9 1010.0 L2067.4 1006.7 L2078.6 1002.8 L2089.7 998.3 L2100.6 993.3 L2111.2 987.8 L2121.5 981.8 L2131.6 975.3 L2141.3 968.4 L2150.7 960.9 L2159.6 953.0 L2168.2 944.7 L2176.4 935.9 L2184.2 926.9 L2191.9 917.7 L2199.4 908.3 L2202.7 897.7 L2206.2 887.0 L2209.8 876.0 L2213.6 864.8 L2217.3 853.5 L2220.8 842.0 L2223.9 830.5 L2226.7 818.8 L2229.2 807.1 L2231.4 795.3 L2233.5 783.5 L2235.4 771.7 L2237.1 759.8 L2238.7 747.9 L2240.5 736.1 L2242.4 724.2 L2244.5 712.5 L2246.9 700.7 L2249.3 689.0 L2251.5 677.2 L2253.5 665.4 L2255.3 653.5 L2256.8 641.6 L2258.2 629.7 L2259.5 617.8 L2260.6 605.8 L2261.5 593.9 L2262.3 581.9 L2263.0 569.9 L2263.5 557.9 L2264.0 546.0 L2264.4 534.0 L2264.8 522.0 L2265.1 510.0 L2265.3 498.0 L2265.5 486.0 L2265.7 474.0 L2265.9 462.0 L2266.1 450.0 L2266.2 438.0 L2266.4 426.0 L2266.5 414.0 L2266.7 402.0 L2266.8 390.0 L2267.0 378.0 L2267.2 366.0 L2267.3 354.0 L2267.5 342.0 L2267.6 330.0 L2267.8 318.0 L2268.0 306.0 L2268.1 294.0 L2268.3 282.0 L2268.4 270.0 L2268.6 258.0 L2268.7 246.0 L2268.9 234.0 L2269.1 222.0 L2269.2 210.0 L2269.4 198.0 L2269.5 186.0 L2269.7 174.0 L2269.8 162.0 L2270.0 150.0 L3400.0 150.0 L3400.0 2700.0 L500.0 2700.0 Z" fill="#EAB46A" stroke="#6e6e6e" stroke-width="5" stroke-linejoin="round"/>
<path d="M1050.6 1573.3 L1046.0 1562.2 L1041.3 1551.2 L1036.5 1540.1 L1031.7 1529.1 L1026.8 1518.2 L1021.8 1507.2 L1016.8 1496.3 L1011.8 1485.4 L1006.8 1474.5 L1001.7 1463.6 L996.7 1452.7 L991.6 1441.8 L986.5 1430.9 L981.3 1420.1 L976.0 1409.3 L970.6 1398.6 L965.0 1388.0 L959.3 1377.4 L953.5 1366.9 L947.6 1356.4 L941.6 1346.0 L935.5 1335.7 L929.2 1325.4 L922.7 1315.3 L916.0 1305.4 L909.0 1295.7 L901.8 1286.2 L894.3 1276.8 L886.7 1267.6 L879.1 1258.3 L871.6 1249.0 L864.1 1239.6 L856.8 1230.1 L849.6 1220.5 L842.5 1210.8 L835.4 1201.1 L828.3 1191.4 L821.3 1181.7 L814.3 1171.9 L807.4 1162.0 L800.7 1152.1 L794.2 1142.0 L788.0 1131.8 L782.3 1121.3 L777.2 1110.5 L773.1 1099.5 L770.1 1088.1 L768.4 1076.5 L768.3 1064.9 L769.7 1053.4 L772.6 1042.1 L776.8 1031.1 L782.0 1020.5 L788.1 1010.3 L794.8 1000.4 L802.0 990.8 L809.6 981.6 L817.5 972.6 L825.7 963.9 L834.3 955.4 L843.1 947.3 L852.2 939.5 L861.5 932.1 L871.2 925.0 L881.1 918.3 L891.2 911.8 L901.4 905.6 L911.9 899.7 L922.5 894.1 L933.2 888.6 L943.9 883.3 L954.7 878.0 L965.6 872.8 L976.5 867.8 L987.4 862.9 L998.5 858.2 L1009.5 853.6 L1020.7 849.2 L1032.0 844.9 L1043.3 840.9 L1054.7 837.2 L1066.2 833.8 L1077.7 830.6 L1089.4 827.8 L1101.1 825.2 L1112.9 822.9 L1124.7 820.9 L1136.6 819.2 L1148.5 817.8 L1160.5 816.7 L1172.4 816.1 L1184.4 815.8 L1196.4 816.0 L1208.3 816.7 L1220.3 817.8 L1232.2 819.3 L1244.0 821.1 L1255.8 823.4 L1267.5 826.0 L1279.2 828.8 L1290.8 832.0 L1302.3 835.2 L1313.8 838.6 L1325.3 842.1 L1336.8 845.6 L1348.3 849.3 L1359.7 853.1 L1371.0 856.9 L1382.4 860.9 L1393.6 865.0 L1404.9 869.2 L1416.0 873.7 L1427.0 878.5 L1437.8 883.6 L1448.5 889.1 L1459.0 894.9 L1469.2 901.1 L1479.4 907.5 L1489.3 914.2 L1499.2 921.1 L1508.8 928.2 L1518.4 935.5 L1527.8 942.9 L1537.1 950.6 L1546.2 958.4 L1555.2 966.3 L1564.1 974.4 L1572.8 982.6 L1581.4 991.0 L1589.9 999.5 L1598.1 1008.2 L1606.2 1017.1 L1614.0 1026.2 L1621.7 1035.4 L1629.2 1044.8 L1636.4 1054.4 L1643.5 1064.1 L1650.2 1074.0 L1656.8 1084.1 L1663.2 1094.2 L1669.5 1104.4 L1675.7 1114.7 L1681.8 1125.1 L1687.8 1135.4 L1693.7 1145.9 L1699.4 1156.5 L1705.0 1167.1 L1710.7 1177.6 L1716.6 1188.0 L1722.8 1198.3 L1729.2 1208.5 L1735.8 1218.5 L1742.7 1228.4 L1749.7 1238.1 L1757.0 1247.6 L1764.6 1256.9 L1772.5 1265.9 L1780.6 1274.7 L1789.1 1283.1 L1797.9 1291.3 L1806.9 1299.2 L1816.2 1306.7 L1825.8 1313.8 L1835.8 1320.2 L1846.2 1325.9 L1857.0 1330.9 L1868.1 1335.1 L1879.5 1338.7 L1891.1 1341.8 L1902.7 1344.5 L1914.5 1346.7 L1926.4 1348.3 L1938.3 1349.5 L1950.2 1350.2 L1962.2 1350.5 L1974.2 1350.3 L1986.2 1349.8 L1998.1 1349.0 L2010.1 1348.1 L2022.1 1347.0 L2034.0 1345.8 L2046.0 1344.5 L2057.9 1343.1 L2069.8 1341.5 L2081.7 1339.8 L2093.6 1338.0 L2105.4 1335.9 L2117.2 1333.7 L2129.0 1331.4 L2140.7 1329.0 L2152.5 1326.6 L2164.2 1324.0 L2175.9 1321.3 L2187.6 1318.4 L2199.2 1315.4 L2210.8 1312.1 L2222.3 1308.7 L2233.7 1304.9 L2245.0 1301.0 L2256.3 1296.8 L2267.4 1292.4 L2278.5 1287.8 L2289.5 1282.9 L2300.3 1277.8 L2311.1 1272.6 L2321.9 1267.2 L2332.6 1261.7 L2343.2 1256.1 L2353.6 1250.2 L2364.0 1244.2 L2374.2 1237.8 L2384.1 1231.2 L2393.9 1224.2 L2403.4 1216.9 L2412.7 1209.3 L2421.7 1201.4 L2430.4 1193.2 L2438.8 1184.7 L2446.9 1175.8 L2454.6 1166.7 L2461.8 1157.1 L2468.5 1147.2 L2474.7 1137.0 L2480.5 1126.6 L2485.8 1115.8 L2490.6 1104.9 L2494.9 1093.8 L2498.6 1082.4 L2501.8 1070.9 L2504.7 1059.2 L2507.3 1047.5 L2509.7 1035.8 L2511.8 1023.9 L2513.7 1012.1 L2515.3 1000.2 L2516.8 988.3 L2518.2 976.4 L2519.6 964.4 L2521.0 952.5 L2522.3 940.5 L2523.6 928.6 L2524.8 916.7 L2526.0 904.7 L2527.1 892.7 L2528.1 880.8 L2528.9 868.8 L2529.6 856.8 L2530.0 844.8 L2530.4 832.8 L2530.7 820.8 L2531.0 808.8 L2531.2 796.8 L2531.5 784.8 L2531.7 772.7 L2531.8 760.7 L2532.0 748.7 L2532.1 736.7 L2532.2 724.7 L2532.2 712.7 L2532.3 700.7 L2532.3 688.7 L2532.4 676.6 L2532.4 664.6 L2532.5 652.6 L2532.5 640.6 L2532.6 628.6 L2532.7 616.6 L2532.7 604.6 L2532.8 592.5 L2532.8 580.5 L2532.9 568.5 L2532.9 556.5 L2533.0 544.5 L2533.0 532.5 L2533.1 520.5 L2533.1 508.5 L2533.2 496.4 L2533.3 484.4 L2533.3 472.4 L2533.4 460.4 L2533.4 448.4 L2533.5 436.4 L2533.5 424.4 L2533.6 412.3 L2533.6 400.3 L2533.7 388.3 L2533.7 376.3 L2533.8 364.3 L2533.9 352.3 L2533.9 340.3 L2534.0 328.3 L2534.0 316.2 L2534.1 304.2 L2534.1 292.2 L2534.2 280.2 L2534.2 268.2 L2534.3 256.2 L2534.3 244.2 L2534.4 232.1 L2534.5 220.1 L2534.5 208.1 L2534.6 196.1 L2534.6 184.1 L2534.7 172.1 L2534.7 160.1 L2534.8 148.1 L2534.8 136.0 L2534.9 124.0 L2534.9 112.0 L2535.0 100.0 L3400.0 100.0 L3400.0 2700.0 L900.0 2700.0 Z" fill="#E88F4F" stroke="#6e6e6e" stroke-width="5" stroke-linejoin="round"/>
<path d="M1345.2 1782.8 L1340.1 1771.9 L1335.0 1761.0 L1330.0 1750.1 L1325.1 1739.1 L1320.1 1728.1 L1315.1 1717.2 L1310.1 1706.2 L1305.1 1695.3 L1300.2 1684.3 L1295.2 1673.4 L1290.3 1662.4 L1285.5 1651.4 L1280.7 1640.4 L1275.9 1629.3 L1271.2 1618.2 L1266.6 1607.1 L1261.9 1596.0 L1257.3 1584.9 L1252.6 1573.9 L1247.9 1562.8 L1243.1 1551.8 L1238.2 1540.8 L1233.2 1529.8 L1228.3 1518.9 L1223.3 1507.9 L1218.2 1497.0 L1213.2 1486.1 L1208.1 1475.2 L1203.0 1464.3 L1197.8 1453.4 L1192.6 1442.6 L1187.4 1431.8 L1182.1 1420.9 L1176.7 1410.2 L1171.3 1399.4 L1165.8 1388.7 L1160.4 1378.0 L1154.9 1367.3 L1149.5 1356.5 L1144.1 1345.8 L1138.8 1335.0 L1133.5 1324.2 L1128.2 1313.4 L1122.9 1302.6 L1117.6 1291.8 L1112.3 1281.0 L1107.1 1270.2 L1101.8 1259.3 L1096.7 1248.5 L1091.7 1237.5 L1086.9 1226.5 L1082.4 1215.4 L1078.1 1204.1 L1074.2 1192.8 L1070.6 1181.3 L1067.4 1169.8 L1064.5 1158.1 L1062.0 1146.4 L1059.9 1134.6 L1058.3 1122.7 L1057.1 1110.7 L1056.3 1098.8 L1056.0 1086.8 L1056.2 1074.8 L1056.8 1062.8 L1058.0 1050.9 L1059.7 1039.0 L1062.1 1027.3 L1065.1 1015.8 L1069.0 1004.6 L1073.8 993.7 L1079.6 983.4 L1086.3 973.7 L1093.8 964.6 L1102.2 956.2 L1111.3 948.5 L1120.9 941.6 L1131.1 935.2 L1141.6 929.5 L1152.3 924.4 L1163.4 919.8 L1174.7 915.7 L1186.1 912.4 L1197.8 909.6 L1209.5 907.6 L1221.4 906.1 L1233.4 905.2 L1245.3 904.9 L1257.3 905.1 L1269.2 905.9 L1281.2 907.2 L1293.0 909.1 L1304.8 911.3 L1316.5 914.0 L1328.1 917.0 L1339.6 920.4 L1351.1 924.1 L1362.5 928.0 L1373.7 932.1 L1384.9 936.6 L1395.9 941.4 L1406.7 946.5 L1417.4 952.1 L1427.8 958.0 L1438.0 964.3 L1448.0 970.9 L1457.8 977.9 L1467.4 985.1 L1476.8 992.6 L1485.9 1000.4 L1494.9 1008.4 L1503.6 1016.6 L1512.1 1025.1 L1520.3 1033.9 L1528.3 1042.9 L1536.0 1052.1 L1543.5 1061.5 L1550.7 1071.1 L1557.6 1080.9 L1564.1 1091.0 L1570.4 1101.2 L1576.4 1111.6 L1582.3 1121.9 L1588.3 1132.2 L1594.3 1142.3 L1600.1 1152.4 L1605.5 1162.7 L1610.3 1173.3 L1614.8 1184.1 L1619.2 1195.1 L1623.8 1206.0 L1628.5 1217.0 L1633.4 1228.0 L1638.2 1239.0 L1643.0 1250.1 L1647.8 1261.1 L1652.7 1272.1 L1657.7 1283.0 L1662.6 1294.0 L1667.5 1305.0 L1672.4 1316.0 L1677.1 1327.0 L1681.7 1338.2 L1686.0 1349.4 L1690.1 1360.7 L1693.9 1372.0 L1697.8 1383.4 L1701.8 1394.7 L1706.3 1405.8 L1711.2 1416.7 L1716.4 1427.5 L1721.8 1438.2 L1727.5 1448.8 L1733.5 1459.3 L1739.7 1469.5 L1746.3 1479.6 L1753.2 1489.3 L1760.5 1498.9 L1768.1 1508.2 L1776.0 1517.2 L1784.3 1525.8 L1793.1 1534.0 L1802.2 1541.6 L1811.8 1548.7 L1821.8 1555.3 L1832.1 1561.4 L1842.7 1567.0 L1853.6 1572.1 L1864.6 1576.8 L1875.8 1581.1 L1887.1 1585.1 L1898.4 1589.2 L1909.7 1593.2 L1921.0 1597.3 L1932.4 1601.2 L1943.8 1604.8 L1955.4 1608.1 L1967.0 1611.0 L1978.7 1613.6 L1990.5 1615.9 L2002.4 1617.8 L2014.3 1619.5 L2026.2 1620.8 L2038.2 1621.9 L2050.2 1622.7 L2062.2 1623.4 L2074.2 1623.8 L2086.2 1624.1 L2098.2 1624.2 L2110.3 1624.1 L2122.3 1623.9 L2134.3 1623.6 L2146.3 1623.2 L2158.4 1622.8 L2170.4 1622.3 L2182.4 1621.8 L2194.4 1621.2 L2206.4 1620.6 L2218.4 1620.0 L2230.5 1619.4 L2242.5 1618.8 L2254.5 1618.2 L2266.5 1617.6 L2278.5 1616.9 L2290.5 1616.3 L2302.5 1615.6 L2314.5 1614.9 L2326.5 1614.2 L2338.6 1613.5 L2350.6 1612.8 L2362.6 1612.1 L2374.6 1611.5 L2386.6 1611.0 L2398.6 1610.6 L2410.7 1610.3 L2422.7 1610.1 L2434.7 1610.0 L2446.7 1609.9 L2458.8 1609.9 L2470.8 1609.8 L2482.8 1609.8 L2494.9 1609.7 L2506.9 1609.7 L2518.9 1609.6 L2530.9 1609.6 L2543.0 1609.5 L2555.0 1609.5 L2567.0 1609.4 L2579.1 1609.4 L2591.1 1609.3 L2603.1 1609.2 L2615.2 1609.2 L2627.2 1609.0 L2639.2 1608.9 L2651.2 1608.7 L2663.3 1608.6 L2675.3 1608.4 L2687.3 1608.2 L2699.4 1607.9 L2711.4 1607.7 L2723.4 1607.4 L2735.4 1607.1 L2747.5 1606.7 L2759.5 1606.4 L2771.5 1606.1 L2783.5 1605.8 L2795.6 1605.5 L2807.6 1605.1 L2819.6 1604.8 L2831.6 1604.5 L2843.7 1604.2 L2855.7 1603.8 L2867.7 1603.5 L2879.7 1603.2 L2891.8 1602.9 L2903.8 1602.6 L2915.8 1602.2 L2927.8 1601.9 L2939.9 1601.6 L2951.9 1601.3 L2963.9 1601.0 L2975.9 1600.6 L2988.0 1600.3 L3000.0 1600.0 L3000.0 2700.0 L1300.0 2700.0 Z" fill="#E05C34" stroke="#6e6e6e" stroke-width="5" stroke-linejoin="round"/>
<path d="M3125.6 376.9 L3096.8 407.4 L3088.4 416.1 L3080.0 424.8 L3071.6 433.4 L3063.2 442.1 L3054.9 450.8 L3046.5 459.6 L3038.2 468.3 L3030.0 477.1 L3021.7 485.9 L3013.5 494.8 L3005.4 503.7 L2997.4 512.8 L2989.6 521.9 L2981.9 531.2 L2974.3 540.6 L2967.0 550.2 L2959.9 559.9 L2952.9 569.8 L2946.0 579.7 L2939.3 589.7 L2932.7 599.8 L2926.2 610.0 L2919.8 620.2 L2913.6 630.5 L2907.4 640.9 L2901.4 651.4 L2895.4 661.8 L2889.5 672.4 L2883.7 683.0 L2878.0 693.6 L2872.4 704.3 L2866.9 715.1 L2861.6 725.9 L2856.4 736.8 L2851.5 747.7 L2846.8 758.8 L2842.3 769.8 L2837.9 780.9 L2833.4 792.0 L2828.7 803.1 L2824.0 814.1 L2819.5 825.3 L2815.4 836.6 L2811.7 848.0 L2808.4 859.6 L2805.5 871.3 L2803.1 883.1 L2801.1 894.9 L2799.5 906.9 L2798.5 918.9 L2797.9 930.9 L2797.9 942.9 L2798.4 954.9 L2799.6 966.9 L2801.3 978.8 L2803.7 990.6 L2806.5 1002.2 L2809.8 1013.8 L2813.5 1025.3 L2817.6 1036.6 L2822.1 1047.7 L2826.7 1058.8 L2831.1 1070.0 L2835.2 1081.3 L2838.9 1092.8 L2842.4 1104.3 L2846.0 1115.6 L2850.1 1126.4 L2855.3 1136.0 L2862.2 1143.7 L2870.8 1149.2 L2881.1 1152.8 L2892.3 1155.1 L2904.0 1156.8 L2916.0 1158.1 L2928.0 1159.5 L2940.0 1160.8 L2952.0 1162.1 L2964.0 1163.4 L2976.0 1164.7 L2988.0 1166.0 L3000.0 1167.3 L3012.0 1168.6 L3024.0 1169.9 L3036.0 1171.2 L3048.0 1172.5 L3060.0 1173.8 L3072.0 1175.2 L3084.0 1176.5 L3096.0 1177.8 L3108.0 1179.1 L3120.0 1180.4 L3132.0 1181.7 L3144.0 1183.0 L3156.0 1184.3 L3168.0 1185.6 L3180.0 1186.9 L3192.0 1188.2 L3204.0 1189.5 L3216.0 1190.8 L3228.0 1192.2 L3240.0 1193.5 L3252.0 1194.8 L3264.0 1196.1 L3276.0 1197.4 L3288.0 1198.7 L3300.0 1200.0 L3300.0 300.0 L3144.9 364.1 Z" fill="#E05C34" stroke="#6e6e6e" stroke-width="5" stroke-linejoin="round"/>
<path d="M1176.9 1179.7 L1180.5 1191.2 L1184.8 1202.5 L1189.5 1213.6 L1194.4 1224.7 L1199.5 1235.8 L1204.8 1246.7 L1210.3 1257.5 L1216.2 1268.1 L1222.3 1278.5 L1228.7 1288.9 L1235.4 1299.0 L1242.4 1308.9 L1249.5 1318.6 L1256.9 1328.3 L1264.4 1337.8 L1272.1 1347.2 L1279.9 1356.5 L1288.0 1365.5 L1296.4 1374.3 L1305.0 1382.8 L1313.9 1391.0 L1323.2 1398.8 L1332.8 1406.1 L1342.8 1412.8 L1353.4 1418.5 L1364.4 1422.5 L1375.8 1424.3 L1387.0 1423.1 L1397.5 1418.8 L1406.9 1411.9 L1415.0 1403.3 L1422.1 1393.6 L1428.3 1383.3 L1433.8 1372.5 L1438.5 1361.4 L1442.5 1350.0 L1445.9 1338.4 L1448.8 1326.6 L1451.2 1314.7 L1453.2 1302.8 L1454.7 1290.8 L1455.9 1278.7 L1456.6 1266.6 L1456.9 1254.5 L1456.6 1242.4 L1455.7 1230.3 L1454.1 1218.3 L1451.8 1206.5 L1448.8 1194.8 L1445.0 1183.3 L1440.3 1172.2 L1435.0 1161.3 L1429.4 1150.6 L1423.4 1140.0 L1417.2 1129.6 L1410.4 1119.6 L1403.2 1109.9 L1395.4 1100.6 L1387.0 1092.0 L1378.0 1083.9 L1368.5 1076.4 L1358.6 1069.4 L1348.4 1062.9 L1337.8 1057.0 L1327.0 1051.6 L1316.0 1046.4 L1304.9 1041.7 L1293.6 1037.5 L1282.0 1034.1 L1270.2 1031.9 L1258.3 1031.2 L1246.5 1032.3 L1235.1 1035.3 L1224.4 1040.3 L1214.8 1047.1 L1206.3 1055.4 L1198.8 1064.7 L1192.2 1074.7 L1186.6 1085.4 L1182.2 1096.6 L1178.8 1108.1 L1176.2 1119.9 L1174.5 1131.9 L1173.6 1143.9 L1173.6 1156.0 L1174.6 1167.9 Z" fill="#CC2F2B" stroke="#6e6e6e" stroke-width="5" stroke-linejoin="round"/>
<path d="M622.1 272.9 L619.8 284.9 L617.5 297.0 L615.0 309.0 L612.3 320.9 L609.4 332.8 L606.2 344.6 L602.8 356.4 L599.1 368.1 L595.2 379.7 L591.1 391.2 L586.7 402.7 L582.1 414.1 L577.4 425.3 L572.4 436.5 L567.2 447.6 L561.8 458.6 L556.3 469.6 L550.5 480.4 L544.5 491.1 L538.3 501.6 L531.7 511.9 L524.7 522.0 L517.5 531.8 L509.9 541.4 L501.9 550.7 L493.6 559.6 L484.9 568.1 L475.8 576.3 L466.3 583.9 L456.4 591.1 L446.3 597.9 L435.8 604.3 L425.2 610.3 L414.4 616.0 L403.4 621.5 L392.3 626.8 L381.2 631.9 L370.0 636.8 L358.7 641.6 L347.4 646.3 L100.0 700.0 L100.0 100.0 L600.0 100.0 Z" fill="#C0CCE6" stroke="#6e6e6e" stroke-width="5" stroke-linejoin="round"/>
<path d="M521.2 304.0 L518.1 315.8 L514.9 327.6 L511.7 339.4 L508.5 351.2 L505.1 362.9 L501.6 374.6 L497.9 386.2 L493.7 397.7 L489.0 408.9 L483.8 419.9 L478.3 430.8 L472.4 441.5 L466.3 452.1 L460.1 462.5 L453.5 472.8 L446.7 483.0 L439.6 492.8 L432.1 502.4 L424.2 511.7 L415.9 520.6 L407.4 529.3 L200.0 600.0 L200.0 100.0 L520.0 100.0 Z" fill="#A3C3E2" stroke="#6e6e6e" stroke-width="5" stroke-linejoin="round"/>
</g>
<g clip-path="url(#col)"><path d="M548.4 253.7 L622.1 272.9 L806.4 320.0 L849.7 329.9 L1000.0 358.5 L1078.2 372.2 L1206.4 391.5 L1302.6 402.7 L1396.2 411.3 L1526.9 420.3 L1650.0 425.1 L1709.6 426.7 L1805.1 426.1 L1805.1 401.1 L1820.5 403.3 L1824.4 418.7 L1827.6 437.9 L1837.2 446.0 L1848.4 448.2 L1867.6 450.8 L1869.2 458.8 L1882.1 456.5 L1888.5 450.1 L1907.7 449.8 L1920.5 455.6 L1925.3 462.0 L1933.3 468.4 L1936.5 476.4 L1939.7 468.4 L1949.4 466.8 L1955.8 473.2 L1965.4 478.0 L1975.0 486.0 L1987.8 484.4 L1997.4 476.4 L2005.4 472.6 L2011.9 480.3 L2026.3 479.6 L2042.3 479.0 L2051.9 485.4 L2066.3 484.4 L2048.7 495.6 L2029.5 503.7 L2016.7 511.7 L2003.8 522.9 L1994.2 535.7 L1981.4 550.1 L1968.6 561.3 L1952.6 574.2 L1957.4 580.6 L1968.6 579.0 L1984.6 572.6 L1997.4 567.8 L2007.1 559.7 L2013.5 556.5 L2016.7 567.8 L2008.7 580.6 L2007.7 585.4 L2016.7 580.6 L2031.1 585.4 L2042.3 580.6 L2051.9 574.2 L2061.5 566.2 L2077.6 562.9 L2090.4 554.9 L2100.0 548.5 L2109.6 538.9 L2119.2 529.3 L2125.6 521.3 L2138.5 516.5 L2151.3 514.9 L2162.5 518.1 L2151.3 522.9 L2141.7 532.5 L2133.7 543.7 L2127.2 556.5 L2125.6 564.6 L2133.7 556.5 L2141.7 553.3 L2154.5 554.9 L2164.1 559.7 L2173.7 571.0 L2180.1 579.0 L2192.9 577.4 L2204.2 580.6 L2210.6 572.6 L2218.6 569.4 L2223.7 569.0 L2234.9 562.6 L2246.2 560.1 L2263.8 558.5 L2278.2 552.1 L2292.6 548.2 L2289.4 557.8 L2292.6 569.0 L2302.2 570.6 L2308.7 565.8 L2315.1 569.0 L2319.9 564.2 L2329.5 561.0 L2334.3 562.6 L2335.9 573.8 L2334.3 580.3 L2339.1 586.7 L2348.7 588.3 L2361.5 586.7 L2369.6 593.1 L2367.9 597.9 L2355.1 599.5 L2342.3 596.3 L2329.5 595.6 L2316.7 596.9 L2308.7 599.5 L2310.3 609.1 L2316.7 612.3 L2324.7 612.3 L2327.9 615.5 L2319.9 617.1 L2310.3 613.9 L2307.1 607.5 L2300.6 602.7 L2291.0 599.5 L2278.2 597.9 L2268.6 601.1 L2263.5 607.8 L2250.6 609.4 L2237.8 612.6 L2228.2 620.6 L2220.2 630.3 L2221.8 619.0 L2215.4 623.8 L2207.4 633.5 L2202.6 627.1 L2199.4 633.5 L2199.4 646.3 L2189.7 662.3 L2180.1 675.1 L2173.7 687.9 L2164.1 704.0 L2159.3 716.8 L2164.1 718.4 L2173.7 700.8 L2183.3 687.9 L2192.9 671.9 L2205.8 659.1 L2215.4 643.1 L2223.4 630.3 L2220.2 636.7 L2209.0 659.1 L2199.4 675.1 L2192.9 694.4 L2188.1 710.4 L2186.5 732.8 L2180.1 748.8 L2178.5 760.1 L2180.4 772.6 L2175.6 788.6 L2174.0 804.6 L2177.2 820.6 L2182.1 836.7 L2181.4 852.7 L2182.1 868.7 L2190.1 884.7 L2198.1 904.0 L2204.5 913.6 L2212.5 916.2 L2223.7 912.0 L2236.5 904.0 L2246.2 894.4 L2252.6 881.5 L2259.0 862.3 L2260.6 843.1 L2257.4 823.8 L2254.2 804.6 L2247.8 798.2 L2241.3 785.4 L2238.1 769.4 L2239.7 753.3 L2244.6 734.1 L2247.8 718.1 L2246.2 702.1 L2249.4 695.6 L2252.6 684.4 L2262.2 676.4 L2268.6 673.2 L2273.4 666.8 L2273.4 679.6 L2278.2 689.2 L2283.0 676.4 L2281.4 663.6 L2284.6 650.8 L2294.2 644.4 L2302.2 641.2 L2295.8 634.7 L2297.4 625.1 L2303.8 618.7 L2316.7 620.3 L2329.5 621.9 L2342.3 628.3 L2355.1 633.1 L2367.9 636.3 L2377.6 642.8 L2384.0 650.8 L2390.4 657.2 L2380.8 660.4 L2379.2 670.0 L2387.2 676.4 L2390.4 692.4 L2388.8 708.5 L2384.0 718.1 L2380.8 730.9 L2374.4 735.7 L2367.9 740.5 L2364.7 750.1 L2371.2 756.5 L2380.8 758.1 L2387.2 750.1 L2390.4 740.5 L2400.0 730.9 L2409.6 722.9 L2419.2 722.9 L2425.6 729.3 L2432.1 740.5 L2436.9 756.5 L2443.3 772.6 L2449.7 791.8 L2448.1 804.6 L2444.9 815.8 L2436.9 817.4 L2432.1 825.4 L2428.8 836.7 L2424.0 846.3 L2420.8 859.1 L2416.0 868.7 L2411.2 878.3 L2408.0 886.3 L2416.0 887.9 L2428.8 896.0 L2433.7 900.8 L2440.1 897.6 L2441.7 884.7 L2444.9 897.6 L2449.7 899.2 L2459.3 902.4 L2470.5 897.6 L2483.3 891.2 L2496.2 889.6 L2505.8 881.5 L2518.6 871.9 L2529.8 863.9 L2541.0 857.5 L2553.8 849.5 L2566.7 839.9 L2579.5 830.3 L2590.7 822.2 L2598.7 812.6 L2608.3 801.4 L2616.3 791.8 L2624.4 782.2 L2629.2 772.6 L2621.2 769.4 L2617.9 759.7 L2614.7 753.3 L2613.1 745.3 L2624.4 737.3 L2637.2 732.5 L2653.2 730.9 L2669.2 730.3 L2685.3 732.5 L2694.9 729.3 L2707.7 727.7 L2718.9 726.1 L2726.9 718.1 L2736.5 710.1 L2744.6 702.1 L2749.4 692.4 L2747.4 684.6 L2736.2 679.8 L2733.0 673.4 L2744.2 667.0 L2737.8 659.0 L2742.6 649.4 L2752.2 639.7 L2757.1 631.7 L2763.5 617.3 L2773.1 604.5 L2785.9 590.1 L2801.9 583.7 L2824.4 578.2 L2866.0 570.8 L2907.7 559.6 L2949.4 548.4 L2952.6 537.2 L2951.0 529.2 L2957.4 524.4 L2967.0 517.9 L2975.0 521.2 L2981.4 511.5 L2978.2 501.9 L2984.6 492.3 L2989.4 482.7 L2987.8 473.1 L2991.0 460.3 L2987.8 447.4 L2991.0 428.2 L2991.0 412.2 L2997.4 392.9 L3003.8 373.7 L3010.3 356.1 L3016.7 353.8 L3021.5 354.5 L3024.7 365.7 L3031.1 367.3 L3042.3 359.3 L3048.7 356.1 L3051.9 349.7 L3064.7 348.7 L3080.8 357.7 L3087.2 364.1 L3096.8 402.6 L3106.4 428.2 L3112.8 447.4 L3125.6 453.8 L3133.7 455.4 L3135.3 466.7 L3144.9 479.5 L3154.5 477.9 L3164.1 489.1 L3170.5 497.1 L3167.3 505.1 L3157.7 511.5 L3151.3 521.2 L3144.9 530.8 L3132.1 529.2 L3125.6 540.4 L3119.2 553.2 L3116.0 566.0 L3100.0 556.4 L3093.6 569.2 L3084.0 575.6 L3077.6 585.3 L3064.7 588.5 L3055.1 598.1 L3048.7 607.7 L3039.1 617.3 L3034.3 630.1 L3032.7 639.7 L3029.5 652.6 L3019.9 662.2 L3015.1 671.8 L3023.1 676.6 L3023.1 687.8 L3031.1 691.0 L3039.1 694.2 L3035.9 703.8 L3029.5 710.3 L3023.1 719.9 L3026.3 732.7 L3042.3 743.9 L3055.1 745.5 L3064.7 742.3 L3074.4 740.7 L3080.8 748.7 L3077.6 729.5 L3069.6 726.3 L3074.4 724.7 L3082.4 731.1 L3088.8 748.7 L3084.0 755.1 L3071.2 758.3 L3061.5 763.1 L3051.9 764.7 L3042.3 767.9 L3032.7 774.4 L3023.1 777.6 L3016.7 787.2 L3010.3 795.2 L3000.6 796.8 L2987.8 800.0 L2975.0 809.6 L2962.2 816.0 L2949.4 820.8 L2936.5 825.6 L2923.7 832.1 L2915.7 840.1 L2912.2 848.9 L2905.8 860.1 L2897.8 872.9 L2891.3 884.2 L2896.2 887.4 L2902.6 879.4 L2909.0 889.0 L2911.5 908.2 L2912.8 927.4 L2910.6 946.7 L2905.8 959.5 L2899.4 972.3 L2891.3 985.1 L2884.9 999.6 L2880.1 999.6 L2880.1 985.1 L2867.3 980.3 L2854.5 975.5 L2846.5 969.1 L2841.7 959.5 L2840.1 949.9 L2844.9 940.3 L2840.1 953.1 L2843.3 969.1 L2849.7 981.9 L2857.7 994.7 L2867.3 1004.4 L2876.9 1014.0 L2881.7 1025.2 L2884.0 1039.6 L2883.3 1052.4 L2880.1 1068.5 L2873.7 1081.3 L2867.3 1095.7 L2862.5 1110.1 L2859.3 1126.2 L2856.1 1136.4 L2852.9 1132.6 L2850.6 1116.5 L2849.7 1100.5 L2852.9 1087.7 L2849.7 1076.5 L2840.1 1063.7 L2830.4 1054.0 L2822.4 1042.8 L2819.2 1030.0 L2822.4 1020.4 L2828.8 1010.8 L2820.8 1004.4 L2816.0 994.7 L2822.4 985.1 L2828.8 975.5 L2826.3 965.9 L2817.6 972.3 L2806.4 981.9 L2796.8 991.5 L2790.4 999.6 L2793.6 1010.8 L2803.2 1023.6 L2808.0 1036.4 L2811.2 1046.0 L2817.6 1055.6 L2825.6 1065.3 L2830.4 1076.5 L2833.7 1087.7 L2835.9 1100.5 L2837.5 1113.3 L2840.1 1126.2 L2843.3 1137.4 L2848.1 1145.4 L2854.5 1148.6 L2859.3 1153.4 L2858.3 1153.7 L2864.3 1164.4 L2870.2 1175.0 L2876.1 1185.7 L2880.9 1195.2 L2885.6 1202.3 L2890.3 1208.2 L2896.3 1215.3 L2901.0 1221.2 L2904.5 1228.3 L2906.9 1236.6 L2907.5 1246.1 L2906.9 1255.6 L2902.2 1260.3 L2896.3 1262.7 L2890.3 1266.3 L2884.4 1271.0 L2878.5 1275.7 L2873.7 1281.7 L2869.0 1288.8 L2864.3 1295.9 L2860.7 1303.0 L2859.5 1312.5 L2848.7 1304.0 L2839.1 1308.8 L2826.3 1316.9 L2816.7 1324.9 L2807.1 1337.7 L2799.0 1350.5 L2792.6 1363.3 L2790.4 1376.2 L2787.8 1380.0 L2778.2 1377.8 L2765.4 1381.0 L2752.6 1387.4 L2744.6 1398.6 L2736.5 1411.4 L2730.1 1424.2 L2728.5 1437.1 L2723.7 1449.9 L2712.5 1454.7 L2704.5 1465.9 L2694.9 1475.5 L2688.5 1485.1 L2678.8 1491.5 L2669.2 1501.2 L2659.6 1514.0 L2651.6 1526.8 L2643.6 1536.4 L2637.2 1549.2 L2635.6 1562.1 L2632.4 1574.9 L2630.8 1587.7 L2627.6 1600.5 L2626.9 1613.3 L2628.2 1629.4 L2630.8 1642.2 L2638.5 1659.2 L2648.1 1678.5 L2657.7 1697.7 L2670.5 1720.1 L2683.3 1739.4 L2696.2 1755.4 L2705.8 1766.6 L2707.4 1774.6 L2702.6 1781.0 L2707.4 1797.1 L2718.6 1816.3 L2731.4 1838.7 L2744.2 1861.2 L2753.8 1877.2 L2758.7 1896.4 L2760.3 1915.6 L2761.9 1934.9 L2762.5 1954.1 L2761.9 1973.3 L2757.1 1986.2 L2747.4 1992.6 L2734.6 1999.0 L2721.8 2002.2 L2709.0 2003.8 L2702.6 1995.8 L2701.0 1986.2 L2696.2 1973.3 L2683.3 1963.7 L2670.5 1957.3 L2659.3 1947.7 L2651.3 1934.9 L2643.3 1922.1 L2635.3 1925.3 L2625.6 1918.8 L2619.2 1906.0 L2611.2 1893.2 L2600.0 1877.2 L2588.8 1864.4 L2580.8 1854.7 L2579.2 1845.1 L2572.8 1832.3 L2571.2 1819.5 L2574.4 1806.7 L2576.0 1790.6 L2572.8 1777.8 L2569.6 1765.0 L2561.5 1749.0 L2548.7 1750.6 L2539.1 1737.8 L2524.7 1726.5 L2519.9 1716.9 L2507.1 1707.3 L2494.2 1697.7 L2481.4 1692.9 L2468.6 1699.3 L2462.2 1707.3 L2452.6 1715.3 L2439.7 1723.3 L2423.7 1732.9 L2404.5 1729.7 L2398.1 1716.9 L2382.1 1704.1 L2369.2 1691.3 L2350.0 1681.7 L2339.7 1684.3 L2323.7 1685.9 L2307.7 1690.7 L2294.9 1692.3 L2278.8 1695.5 L2262.8 1700.3 L2250.0 1705.1 L2240.4 1708.3 L2234.0 1698.7 L2238.8 1679.5 L2243.6 1677.9 L2248.4 1692.3 L2246.8 1701.9 L2230.8 1701.9 L2217.9 1700.3 L2205.1 1701.9 L2192.3 1705.1 L2179.5 1703.5 L2163.5 1706.7 L2153.8 1714.7 L2147.4 1724.4 L2139.4 1730.8 L2136.2 1737.2 L2147.4 1738.8 L2157.1 1734.0 L2163.5 1724.4 L2173.1 1721.2 L2176.3 1730.8 L2169.9 1743.6 L2163.5 1756.4 L2160.3 1766.0 L2166.7 1772.4 L2176.3 1775.6 L2185.9 1782.1 L2189.1 1788.5 L2179.5 1794.9 L2169.9 1798.1 L2165.1 1804.5 L2163.5 1794.9 L2157.1 1782.1 L2147.4 1777.2 L2137.8 1778.8 L2128.2 1785.3 L2118.6 1791.7 L2105.8 1796.5 L2089.7 1798.1 L2073.7 1801.3 L2064.1 1793.3 L2051.3 1786.9 L2044.9 1778.8 L2035.3 1769.2 L2028.8 1759.6 L2022.4 1756.4 L2012.8 1750.0 L2003.2 1753.2 L1993.6 1756.4 L2000.0 1766.0 L2012.8 1772.4 L2003.2 1772.4 L1987.2 1770.8 L1974.4 1769.2 L1958.3 1764.4 L1942.3 1759.6 L1926.3 1758.0 L1910.3 1759.0 L1892.6 1761.2 L1878.2 1767.6 L1862.2 1774.0 L1849.4 1782.1 L1839.7 1791.7 L1830.1 1799.7 L1820.5 1807.7 L1810.9 1817.3 L1798.1 1825.3 L1782.1 1833.3 L1766.0 1841.3 L1750.0 1849.4 L1741.0 1851.7 L1725.0 1861.3 L1709.0 1874.1 L1696.2 1886.9 L1688.1 1899.7 L1683.3 1912.6 L1678.5 1928.6 L1673.7 1944.6 L1670.5 1960.6 L1672.1 1976.7 L1675.3 1992.7 L1680.1 2005.5 L1683.3 2015.1 L1680.1 2027.9 L1673.7 2026.3 L1664.1 2018.3 L1654.5 2014.5 L1641.7 2013.5 L1628.8 2011.9 L1616.0 2005.5 L1603.2 2000.7 L1590.4 1992.7 L1580.8 1987.9 L1572.8 1986.3 L1569.6 1973.5 L1563.1 1960.6 L1558.3 1949.4 L1552.6 1941.4 L1553.5 1931.8 L1547.1 1923.8 L1550.3 1912.6 L1547.1 1904.6 L1535.9 1898.1 L1527.9 1886.9 L1521.5 1875.7 L1513.5 1864.5 L1503.8 1853.3 L1499.0 1842.1 L1492.6 1829.2 L1487.8 1816.4 L1483.0 1803.6 L1479.8 1794.0 L1468.6 1781.2 L1457.4 1769.9 L1447.8 1761.9 L1439.7 1750.7 L1433.3 1749.1 L1423.7 1750.7 L1410.9 1747.5 L1398.1 1745.9 L1388.5 1741.1 L1380.4 1747.5 L1367.6 1749.1 L1359.6 1758.7 L1353.2 1771.5 L1351.6 1781.2 L1343.6 1784.4 L1337.2 1795.6 L1330.8 1798.8 L1321.2 1794.0 L1311.5 1787.6 L1301.9 1781.2 L1292.3 1774.7 L1279.5 1768.3 L1269.9 1758.7 L1260.3 1752.3 L1252.2 1742.7 L1247.4 1729.9 L1244.2 1718.7 L1247.4 1707.4 L1241.0 1694.6 L1237.8 1681.8 L1233.0 1672.2 L1221.8 1662.6 L1209.0 1656.2 L1199.4 1646.5 L1189.7 1635.3 L1180.1 1620.9 L1170.5 1614.5 L1162.5 1603.3 L1157.7 1590.4 L1148.1 1585.0 L1100.0 1579.9 L1051.6 1576.5 L1050.6 1605.4 L999.4 1598.3 L884.0 1582.9 L680.4 1463.4 L682.1 1455.4 L690.1 1449.0 L666.0 1446.1 L550.6 1433.3 L550.0 1424.3 L547.4 1414.7 L548.1 1406.7 L547.4 1392.2 L544.2 1381.0 L537.8 1369.8 L531.4 1360.2 L525.0 1349.0 L518.6 1342.6 L512.2 1335.5 L504.2 1336.2 L497.8 1332.9 L497.8 1324.9 L496.2 1315.3 L489.7 1310.5 L476.9 1308.9 L467.3 1304.1 L459.3 1297.7 L457.7 1288.1 L451.3 1280.1 L441.7 1272.1 L428.8 1267.2 L412.8 1260.8 L407.1 1259.2 L394.2 1257.6 L387.8 1249.6 L391.0 1243.2 L392.6 1230.4 L395.8 1220.8 L398.1 1211.2 L391.0 1207.9 L387.2 1201.5 L390.4 1193.5 L389.4 1185.5 L383.0 1177.5 L376.6 1167.9 L371.8 1156.7 L367.0 1145.4 L363.8 1132.6 L359.0 1119.8 L351.9 1111.8 L352.6 1102.2 L354.2 1092.6 L362.2 1089.4 L367.0 1081.3 L365.4 1071.7 L360.6 1066.9 L351.0 1062.1 L344.6 1052.5 L341.3 1042.9 L344.6 1031.7 L342.3 1022.1 L344.6 1012.4 L349.4 1001.2 L342.9 993.2 L334.9 985.2 L328.5 982.0 L334.0 974.0 L331.7 964.4 L328.5 954.7 L323.7 945.1 L317.3 932.3 L311.5 921.1 L307.1 909.9 L310.9 903.5 L310.3 893.8 L310.9 881.0 L314.1 871.4 L317.9 860.2 L317.3 845.8 L312.5 832.9 L307.7 821.7 L301.9 810.5 L302.9 799.3 L309.3 789.7 L318.9 781.7 L326.9 773.7 L328.5 762.4 L333.3 752.8 L339.7 740.0 L341.7 729.6 L340.1 710.4 L344.9 697.6 L341.0 684.7 L343.3 668.7 L348.1 655.9 L347.4 646.3 L345.8 636.7 L351.3 627.1 L360.9 614.2 L370.5 601.4 L381.7 585.4 L389.7 566.2 L397.8 546.9 L405.8 527.7 L413.8 508.5 L423.4 486.0 L431.4 460.4 L436.2 437.9 L439.4 425.1 L437.8 415.5 L444.2 399.5 L449.0 386.7 L451.3 354.6 L450.6 329.0 L449.0 316.2 L444.9 303.3 L445.8 284.1 L450.6 268.1 L457.1 269.7 L466.7 279.3 L477.9 288.9 L492.3 296.3 L508.3 302.7 L521.2 304.0 L522.8 316.2 L517.9 332.2 L514.7 354.6 L521.2 373.8 L530.8 377.1 L537.2 361.0 L546.8 348.2 L553.2 332.2 L556.4 319.4 L553.2 300.1 L556.4 277.7 L550.0 268.1 L548.4 253.7 Z M2903.1 864.2 L2913.0 854.3 L2921.8 848.8 L2929.5 845.5 L2938.2 844.4 L2943.7 838.9 L2954.7 835.6 L2965.7 832.3 L2973.4 824.6 L2978.9 816.9 L2985.5 812.5 L2988.8 811.4 L2985.5 816.9 L2988.8 819.1 L2995.4 816.9 L3005.3 815.8 L3000.9 823.5 L2992.1 831.2 L2983.3 838.9 L2974.5 845.5 L2965.7 852.1 L2956.9 858.7 L2948.1 863.1 L2939.3 866.4 L2930.5 869.7 L2921.8 871.9 L2913.0 875.2 L2905.3 877.4 L2899.8 875.2 L2902.0 868.6 Z M3049.2 784.0 L3055.8 777.4 L3064.6 775.2 L3069.0 777.4 L3061.3 781.8 L3053.6 787.3 L3051.4 790.5 Z M3075.6 777.4 L3083.3 780.1 L3091.0 779.0 L3095.9 775.2 L3093.7 770.8 L3088.8 769.5 L3092.6 773.0 L3091.5 776.8 L3084.4 777.9 L3076.7 776.3 Z M3014.6 801.5 L3017.9 802.6 L3019.0 807.0 L3016.3 809.8 L3013.5 807.0 Z" fill="none" stroke="#585858" stroke-width="4.4" stroke-linejoin="round"/></g>
<path d="M2835.8 1217.1 L2845.3 1212.9 L2854.8 1210.0 L2864.3 1206.8 L2872.6 1205.2 L2879.7 1207.0 L2883.2 1211.8 L2873.7 1209.6 L2864.3 1211.8 L2854.8 1214.7 L2845.3 1217.7 L2837.0 1220.0 L2833.5 1218.9 Z" fill="#fff" stroke="#4d4d4d" stroke-width="4.5" stroke-linejoin="round"/>
<path d="M2889.1 1222.4 L2896.3 1223.6 L2901.0 1230.7 L2903.4 1241.4 L2904.0 1252.0 L2899.8 1258.0 L2893.9 1260.3 L2888.0 1265.1 L2880.9 1269.8 L2874.9 1274.0 L2873.7 1279.3 L2866.6 1278.1 L2857.2 1278.1 L2853.6 1275.7 L2854.8 1268.6 L2858.3 1266.3 L2856.0 1261.5 L2863.1 1260.3 L2870.2 1258.0 L2876.1 1253.2 L2878.5 1243.7 L2884.4 1236.6 L2889.1 1231.9 L2890.3 1224.8 Z" fill="#fff" stroke="#4d4d4d" stroke-width="4.5" stroke-linejoin="round"/>
<g fill="none" stroke="#4d4d4d" stroke-width="1.9" stroke-linejoin="round">
<path d="M439.4 425.1 L453.8 423.5 L463.5 425.1 L469.9 433.1 L479.5 437.9 L487.5 444.4 L489.1 457.2 L484.3 466.8 L484.3 476.4 L492.3 482.8 L508.3 488.6 L524.4 486.0 L530.8 484.4 L546.8 486.7 L556.4 492.4 L562.8 498.8 L575.6 498.2 L588.5 497.2 L598.1 502.1 L614.1 501.4 L636.5 498.8 L652.6 500.4 L668.6 499.8 L684.6 502.1 L716.7 508.5 L766.3 521.3"/>
<path d="M806.4 320.0 L765.4 495.6 L767.9 508.5 L766.3 521.3"/>
<path d="M766.3 521.3 L767.9 530.9 L777.6 540.5 L781.4 553.3 L771.2 566.2 L761.5 579.0 L753.5 591.8 L748.7 601.4 L737.5 609.4 L731.1 620.6 L726.3 630.3 L727.9 636.7 L737.5 643.1 L737.5 651.1 L729.5 667.1 L727.2 668.7 L708.7 760.1 L701.0 790.3"/>
<path d="M849.7 329.9 L835.9 397.9 L841.7 412.3 L844.9 428.3 L841.7 437.9 L854.5 449.2 L862.5 463.6 L868.9 476.4 L873.7 489.2 L881.7 495.6 L896.2 503.0 L892.9 514.9 L886.5 527.7 L881.7 540.5 L881.7 553.3 L875.3 562.9 L872.1 572.6 L880.1 583.8 L892.9 575.8 L901.0 571.0 L905.8 582.2 L907.4 598.2 L912.2 611.0 L917.0 623.8 L915.4 633.5 L928.2 639.9 L931.4 652.7 L936.2 668.7 L939.4 671.9 L947.4 665.5 L960.3 667.1 L968.3 663.9 L982.7 666.2 L1000.0 668.7"/>
<path d="M950.0 666.2 L962.8 668.7 L967.6 663.9 L982.1 666.2 L991.7 668.7 L1004.5 669.4 L1009.3 660.7 L1014.1 657.5 L1018.9 663.9 L1026.3 681.5"/>
<path d="M344.9 697.6 L490.4 740.0 L551.3 756.7 L701.0 790.3 L848.7 822.7 L950.0 837.8"/>
<path d="M551.3 756.7 L500.6 957.3 L714.7 1280.1"/>
<path d="M848.7 822.7 L782.1 1164.7 L775.6 1211.2 L770.8 1224.0 L762.8 1230.4 L756.4 1224.0 L750.0 1218.2 L737.2 1219.2 L732.4 1227.2 L730.8 1252.8 L729.2 1280.1"/>
<path d="M782.1 1164.7 L950.0 1193.5"/>
<path d="M731.7 1240.0 L730.1 1259.2 L726.9 1278.5 L725.3 1291.3 L723.7 1304.1 L728.5 1320.1 L733.3 1336.2 L742.9 1347.4 L741.3 1352.2 L723.7 1360.2 L715.7 1371.4 L712.5 1387.4 L704.5 1400.3 L698.1 1405.1 L698.1 1419.5 L694.9 1425.9 L699.7 1432.3 L706.1 1435.5 L704.5 1445.1 L698.1 1449.9 L690.1 1449.0"/>
<path d="M688.5 1240.0 L725.3 1291.3"/>
<path d="M1050.0 1240.0 L999.4 1598.3"/>
<path d="M1396.2 411.3 L1379.5 620.6 L1373.7 684.7 L1366.7 760.1"/>
<path d="M1379.5 620.6 L1739.4 636.7"/>
<path d="M1032.7 644.0 L1373.7 684.7"/>
<path d="M1032.7 644.0 L1026.3 681.5 L1015.7 760.1"/>
<path d="M1709.6 426.7 L1716.0 447.6 L1712.2 463.6 L1715.4 492.4 L1723.4 514.9 L1726.6 540.5 L1729.8 569.4 L1731.4 598.2 L1737.8 614.2 L1739.4 635.7 L1739.4 644.7 L1725.0 657.5 L1734.6 673.5 L1744.2 676.7 L1744.2 760.1"/>
<path d="M1739.4 636.7 L1739.4 636.7"/>
<path d="M1952.6 574.2 L1944.6 583.8 L1944.6 627.1 L1933.3 633.5 L1920.5 643.1 L1917.3 659.1 L1926.9 668.7 L1928.5 678.3 L1923.7 691.2 L1925.3 704.0 L1923.7 716.8 L1936.5 729.6 L1947.8 731.2 L1955.8 739.2 L1968.6 748.8 L1981.4 760.1"/>
<path d="M2031.1 585.4 L2048.7 601.4 L2080.8 607.8 L2112.8 617.4 L2144.9 620.6 L2148.1 628.7 L2164.1 635.1 L2162.5 651.1 L2172.1 659.1 L2170.5 668.7 L2180.1 675.1"/>
<path d="M2241.3 902.4 L2339.1 892.1 L2406.4 886.3"/>
<path d="M2339.1 892.1 L2348.7 960.1"/>
<path d="M2150.0 859.1 L2182.1 856.5"/>
<path d="M2202.9 915.2 L2206.1 960.1"/>
<path d="M2556.4 847.9 L2574.7 960.1"/>
<path d="M2591.7 822.2 L2592.3 839.2 L2815.1 795.6 L2819.9 799.8 L2826.3 803.0"/>
<path d="M2866.0 570.8 L2869.2 588.5 L2874.0 604.5 L2877.2 620.5 L2875.6 633.3 L2880.4 646.2 L2885.3 659.0 L2885.3 667.0 L2891.7 665.4 L2894.9 678.2 L2899.7 694.2 L2901.3 716.7 L2904.5 748.7 L2907.7 767.9 L2912.5 800.0 L2917.3 825.6 L2918.9 840.1"/>
<path d="M2952.6 537.2 L2955.8 556.4 L2957.4 572.4 L2949.4 585.3 L2941.3 598.1 L2939.7 620.5 L2936.5 652.6 L2938.1 678.2 L2939.7 703.8"/>
<path d="M2968.6 521.2 L2978.2 556.4 L2994.2 604.5 L3008.7 646.2 L3016.7 662.2"/>
<path d="M2901.3 713.5 L2939.7 704.5 L3003.8 699.0 L3016.7 691.0 L3023.1 687.8"/>
<path d="M2906.1 771.2 L2992.6 753.5"/>
<path d="M2992.6 753.5 L3000.6 795.2"/>
<path d="M2992.6 753.5 L3010.3 748.7 L3016.7 764.7 L3019.9 777.6"/>
<path d="M2600.0 836.9 L2814.7 796.2 L2824.4 803.2 L2827.6 806.4"/>
<path d="M2591.7 823.3 L2591.7 838.7 L2817.6 796.0 L2825.6 802.4 L2832.1 807.2"/>
<path d="M2832.1 807.2 L2836.9 821.7 L2852.9 831.3 L2849.7 844.1 L2843.3 860.1 L2844.9 876.2 L2843.3 889.0 L2854.5 898.6 L2872.1 911.4 L2865.7 921.0 L2857.7 933.8 L2844.9 940.3"/>
<path d="M2852.9 831.3 L2902.6 845.7"/>
<path d="M2556.4 848.9 L2580.4 1001.2"/>
<path d="M2580.4 1001.2 L2825.6 955.6"/>
<path d="M2828.8 959.5 L2848.1 1039.6 L2880.1 1033.2"/>
<path d="M2635.9 993.1 L2641.3 1028.4 L2655.8 1006.0 L2662.2 1008.2 L2673.4 991.5 L2681.4 997.3 L2691.0 997.9 L2700.6 985.1 L2705.4 982.6 L2716.7 985.1 L2724.7 986.7 L2728.8 999.6 L2742.3 1001.8 L2746.2 1011.4 L2758.3 1017.8 L2771.2 1022.0 L2778.2 1026.2 L2774.4 1036.4 L2767.9 1046.0 L2763.1 1058.8"/>
<path d="M2728.8 999.6 L2727.9 1017.2 L2697.4 1001.2 L2695.8 1023.6 L2687.8 1036.4 L2679.8 1052.4 L2671.8 1049.2 L2667.0 1065.3 L2660.6 1081.3 L2646.2 1073.3 L2639.7 1071.7 L2636.5 1090.9 L2630.1 1106.9 L2625.3 1119.7 L2618.9 1132.6 L2615.7 1148.6 L2610.9 1158.2 L2601.3 1163.0 L2588.5 1163.0 L2585.3 1171.0 L2569.2 1179.0 L2562.8 1174.2 L2550.0 1182.2"/>
<path d="M2564.4 940.3 L2569.2 949.9 L2567.6 965.9 L2564.4 985.1 L2561.2 1004.4 L2550.0 1026.8"/>
<path d="M2550.0 1227.1 L2646.2 1215.9 L2742.3 1198.3 L2854.5 1175.8 L2867.3 1172.6"/>
<path d="M2489.7 1347.9 L2509.0 1339.3 L2528.2 1328.7 L2601.9 1321.0 L2605.1 1328.1 L2611.5 1324.9 L2619.6 1334.5 L2620.5 1340.9 L2683.7 1331.9 L2752.6 1383.2"/>
<path d="M2492.9 1280.0 L2476.9 1296.0 L2464.1 1308.8 L2451.3 1313.7 L2440.1 1323.3 L2433.7 1332.9 L2422.4 1339.3 L2421.8 1356.9"/>
<path d="M2400.0 1359.5 L2422.4 1356.9 L2489.7 1347.9"/>
<path d="M2489.7 1347.9 L2480.1 1360.1 L2478.5 1368.1 L2486.5 1376.2 L2499.4 1382.6 L2509.0 1385.8 L2518.6 1401.8 L2528.2 1414.6 L2537.8 1421.0 L2550.6 1430.6 L2557.1 1440.3 L2569.9 1446.7 L2574.7 1454.7 L2584.3 1464.3 L2592.3 1469.1 L2600.3 1475.5 L2605.1 1485.1 L2609.9 1497.9 L2621.2 1504.4 L2629.2 1518.8 L2632.4 1528.4 L2638.8 1533.2"/>
<path d="M2424.0 1655.0 L2424.0 1655.0"/>
<path d="M2424.0 1655.0 L2585.9 1645.4 L2587.5 1656.6 L2593.9 1658.2 L2595.5 1645.4 L2592.3 1632.6 L2597.1 1625.5 L2621.2 1627.8"/>
<path d="M2414.4 1636.4 L2414.4 1636.4"/>
<path d="M1879.2 1500.0 L1879.8 1580.1 L1884.6 1602.6 L1892.6 1618.6 L1897.4 1634.6 L1903.8 1650.6 L1910.3 1663.5 L1911.9 1679.5 L1903.8 1698.7 L1900.6 1717.9 L1903.8 1734.0 L1897.4 1750.0 L1892.6 1761.2"/>
<path d="M1879.8 1533.0 L2044.9 1528.8"/>
<path d="M2031.4 1640.1 L2028.8 1644.2 L2024.0 1653.8 L2025.6 1668.3 L2136.9 1663.5 L2133.0 1682.7 L2139.4 1695.5 L2147.4 1714.7 L2149.0 1721.2"/>
<path d="M2210.9 1640.1 L2219.6 1698.7"/>
<path d="M2275.6 1692.3 L2275.6 1674.7 L2262.8 1663.5 L2262.8 1653.8 L2415.1 1637.2"/>
<path d="M2416.0 1640.1 L2415.1 1637.2 L2423.1 1655.4"/>
<path d="M1148.1 1585.0 L1145.8 1572.2 L1354.8 1590.4 L1356.4 1560.0"/>
<path d="M1023.4 700.0 L999.4 847.4 L989.7 917.9"/>
<path d="M900.0 831.4 L999.4 847.4"/>
<path d="M989.7 917.9 L1092.3 934.0 L1220.5 950.0 L1350.3 961.2 L1452.9 970.8"/>
<path d="M1371.2 700.0 L1350.3 961.2"/>
<path d="M1091.7 934.0 L1050.6 1240.1"/>
<path d="M1452.9 970.8 L1448.7 1038.1 L1441.7 1180.8 L1438.5 1240.1"/>
<path d="M1448.7 1038.1 L1600.0 1046.2"/>
<path d="M1361.5 823.4 L1600.0 837.8"/>
<path d="M900.0 1185.6 L1053.8 1209.6 L1150.0 1221.0"/>
<path d="M1744.2 700.0 L1744.2 804.8"/>
<path d="M1736.9 805.8 L2003.2 800.0"/>
<path d="M1736.9 805.8 L1739.4 818.6 L1744.2 831.4 L1741.0 844.2 L1734.6 857.1 L1737.8 866.7 L1742.6 874.7"/>
<path d="M1600.0 837.8 L1640.1 838.8 L1651.3 847.4 L1665.7 855.4 L1673.7 849.0 L1689.7 850.0 L1705.8 850.6 L1712.2 857.1 L1725.0 860.3 L1733.0 866.7 L1742.6 874.7"/>
<path d="M1742.6 874.7 L1747.4 889.1 L1753.8 905.1 L1760.3 921.2 L1761.9 937.2 L1768.3 950.0 L1771.5 966.0 L1774.7 982.1 L1773.1 998.1 L1781.1 1009.3"/>
<path d="M1781.1 1009.3 L1882.1 1007.7 L1989.4 1001.3 L2004.5 1018.9"/>
<path d="M1600.0 1046.2 L1801.9 1047.8"/>
<path d="M1781.1 1009.3 L1785.9 1025.3 L1795.5 1039.7 L1801.9 1047.8 L1811.5 1055.8 L1822.8 1055.8 L1826.0 1067.0 L1817.9 1073.4 L1813.1 1079.8 L1821.2 1089.4 L1827.6 1099.0 L1834.0 1107.1 L1841.0 1107.1 L1842.0 1240.1 L1840.4 1258.0"/>
<path d="M1925.3 700.0 L1923.7 716.0 L1936.5 728.8 L1947.8 730.4 L1955.8 738.5 L1967.0 741.7 L1971.8 752.9 L1984.6 762.5 L1994.2 767.3 L2000.6 776.9 L2004.5 800.0 L2013.5 813.8 L2008.7 826.6 L2013.5 841.0 L2019.9 853.8 L2035.9 858.7 L2039.1 868.3 L2050.3 877.9 L2055.1 885.9 L2064.7 892.3 L2066.3 905.1 L2059.9 917.9 L2055.1 930.8 L2043.9 937.2 L2023.1 943.6 L2019.9 956.4 L2027.9 964.4 L2027.9 978.8 L2021.5 991.7 L2018.3 998.1 L2007.1 1002.9 L2008.7 1014.1 L2004.5 1018.9 L2002.2 1033.3 L2007.1 1049.4 L2011.9 1062.2 L2023.1 1075.0 L2032.7 1083.0 L2045.5 1094.2 L2047.4 1100.0"/>
<path d="M2039.1 866.7 L2181.7 857.7"/>
<path d="M2201.9 913.1 L2215.4 1073.4 L2210.6 1087.8 L2215.4 1100.6 L2220.5 1100.0"/>
<path d="M2199.4 1180.8 L2199.4 1180.8"/>
<path d="M2199.4 1180.8 L2199.4 1180.8"/>
<path d="M2047.4 1100.0 L2052.2 1112.8 L2063.5 1112.8 L2077.9 1117.6 L2081.1 1128.8 L2074.7 1141.7 L2068.3 1157.7 L2079.5 1170.5 L2092.3 1180.1 L2105.1 1186.5 L2117.9 1196.2 L2122.8 1209.0 L2121.2 1221.8 L2127.6 1234.6 L2135.6 1242.6 L2145.2 1247.4 L2142.0 1260.3 L2135.6 1269.9 L2127.6 1279.5 L2124.4 1292.3 L2121.2 1305.1 L2117.9 1317.9 L2113.1 1327.6 L2108.3 1338.8 L2101.9 1353.2 L2097.1 1366.0 L2093.9 1378.8 L2089.1 1386.9 L2082.7 1398.1 L2074.7 1407.7 L2073.1 1420.5 L2066.7 1433.3 L2060.3 1446.2 L2055.4 1459.0 L2050.6 1471.8 L2044.2 1484.6 L2044.2 1500.6 L2049.0 1513.5 L2047.4 1527.9 L2045.8 1542.3 L2050.6 1555.1 L2057.1 1564.7 L2061.9 1574.4 L2053.8 1587.2 L2050.6 1600.0 L2044.2 1612.8 L2037.8 1625.6 L2031.4 1640.1"/>
<path d="M2220.5 1100.0 L2217.3 1116.0 L2210.9 1132.1 L2201.3 1148.1 L2199.7 1164.1 L2196.5 1176.9 L2198.1 1186.5 L2193.3 1196.2 L2196.5 1205.8 L2178.8 1212.2 L2175.6 1223.4 L2180.4 1234.6 L2175.6 1237.8 L2150.0 1228.2 L2135.6 1242.6"/>
<path d="M2198.1 1176.9 L2207.7 1178.5 L2220.5 1173.7 L2233.3 1172.1 L2249.4 1178.5 L2252.6 1170.5 L2262.2 1165.7 L2273.4 1172.1 L2279.8 1159.3 L2287.8 1151.3 L2297.4 1159.3 L2305.4 1160.9 L2311.9 1151.3 L2313.5 1138.5 L2324.7 1132.1 L2329.5 1119.2 L2331.1 1108.0 L2342.3 1103.2 L2355.1 1100.0"/>
<path d="M2127.6 1279.5 L2145.2 1279.5 L2204.5 1274.7 L2204.5 1264.1 L2355.1 1250.6 L2553.8 1226.6 L2600.0 1221.8"/>
<path d="M1900.0 1291.7 L2089.1 1284.3 L2093.9 1292.3 L2092.3 1301.9 L2082.7 1311.5 L2079.5 1318.6 L2117.9 1317.3"/>
<path d="M2092.3 1386.9 L2206.1 1379.5 L2351.9 1367.0 L2489.7 1348.4 L2528.2 1329.2 L2600.0 1319.6"/>
<path d="M2206.1 1379.5 L2210.3 1401.3 L2209.3 1516.7 L2207.7 1612.8 L2210.9 1640.1"/>
<path d="M2351.9 1367.0 L2367.9 1436.5 L2384.0 1491.0 L2395.2 1516.7 L2404.8 1535.9 L2409.6 1548.7 L2404.8 1558.3 L2401.6 1580.8 L2406.4 1600.0 L2409.6 1619.2 L2416.0 1640.1"/>
<path d="M1900.0 1533.3 L2045.8 1527.9"/>
<path d="M2444.9 1241.0 L2464.1 1231.4 L2476.9 1221.8 L2486.5 1209.0 L2492.9 1192.9 L2509.0 1180.1 L2526.6 1165.7 L2515.4 1157.7 L2502.6 1144.9 L2492.9 1132.1 L2486.5 1116.0 L2488.1 1103.2 L2492.9 1100.0"/>
<path d="M2526.6 1165.7 L2534.6 1176.9 L2547.4 1184.0 L2560.3 1175.3 L2569.9 1178.5 L2585.9 1168.9 L2589.1 1162.5 L2600.0 1159.3"/>
<path d="M2553.8 1226.6 L2552.2 1242.6 L2541.0 1247.4 L2533.0 1263.5 L2525.0 1261.9 L2515.4 1276.3 L2509.0 1271.5 L2496.2 1281.1 L2492.9 1292.3 L2480.1 1298.7 L2467.3 1309.9 L2451.3 1314.7 L2438.5 1324.4 L2432.1 1335.6 L2422.4 1338.8 L2421.8 1356.4"/>
<path d="M2489.7 1348.4 L2480.1 1359.6 L2481.7 1369.2 L2496.2 1382.1 L2509.0 1383.7 L2518.6 1398.1 L2528.2 1410.9 L2537.8 1422.1 L2550.6 1433.3 L2563.5 1439.7 L2569.9 1447.8 L2582.7 1460.6 L2600.0 1471.8"/>
<path d="M1150.0 1221.0 L1204.5 1227.4 L1387.2 1242.5 L1438.5 1248.9 L1662.8 1256.9 L1840.7 1257.6"/>
<path d="M1387.2 1242.5 L1380.1 1279.4"/>
<path d="M1440.1 1180.0 L1438.5 1248.9"/>
<path d="M1380.1 1279.4 L1545.8 1289.0 L1541.0 1422.0"/>
<path d="M1541.0 1422.0 L1549.0 1428.4 L1557.1 1436.4 L1566.7 1434.8 L1573.1 1433.2 L1579.5 1436.4 L1584.3 1441.2 L1585.9 1449.2 L1598.7 1450.8 L1608.3 1454.0 L1621.2 1454.0 L1627.6 1460.4 L1634.0 1455.6 L1646.8 1455.6 L1648.4 1465.3 L1656.4 1474.9 L1666.0 1471.7 L1672.4 1466.9 L1682.1 1473.3 L1685.3 1478.1 L1694.9 1473.3 L1699.7 1476.5 L1701.3 1484.5 L1707.7 1478.1 L1710.9 1470.1 L1717.3 1471.7 L1722.1 1478.1 L1730.1 1473.3 L1736.5 1481.3 L1746.2 1486.1 L1755.8 1479.7 L1768.6 1476.5 L1778.2 1473.3 L1791.0 1471.7 L1803.8 1474.9 L1813.5 1470.1 L1823.1 1473.3 L1829.5 1481.3 L1842.3 1484.5 L1850.0 1489.3"/>
<path d="M1380.1 1279.4 L1371.2 1423.6 L1361.5 1500.5 L1354.2 1590.3 L1150.0 1571.0"/>
<path d="M1840.4 1258.0 L1845.4 1293.2 L1853.0 1353.7 L1854.0 1494.7 L1878.2 1496.2 L1879.7 1534.0 L2041.8 1528.4"/>
<path d="M1844.4 1293.2 L1900.8 1291.7"/>
<path d="M2348.7 960.1 L2351.1 965.8 L2361.2 1074.1"/>
<path d="M2355.1 1099.3 L2361.2 1074.1 L2376.3 1074.1 L2391.4 1091.8 L2411.5 1096.8 L2431.7 1099.3 L2451.8 1089.2 L2466.9 1096.8 L2482.1 1106.9 L2489.6 1114.4 L2502.2 1096.8 L2507.2 1071.6 L2522.3 1066.6 L2517.3 1051.5 L2532.4 1041.4 L2542.5 1031.3 L2552.6 1021.2"/>
<path d="M2066.3 484.4 L2077.6 473.2 L2080.8 457.2 L2090.4 447.6 L2101.6 442.8 L2096.8 460.4 L2103.2 457.2 L2109.6 441.2 L2112.8 425.1 L2119.2 422.6 L2114.4 437.9 L2112.8 449.2 L2125.6 437.9 L2131.4 428.3 L2124.0 413.9 L2133.7 409.7 L2144.9 415.5 L2157.7 420.3 L2170.5 423.5 L2183.3 421.3 L2196.2 419.4 L2209.0 420.3 L2217.0 431.5 L2223.4 447.6 L2231.4 460.4 L2241.0 470.0 L2257.1 472.6 L2273.1 470.0 L2287.5 468.4 L2284.3 486.0 L2282.7 492.4 L2300.0 502.1"/>
<path d="M2300.0 502.1 L2303.8 506.5 L2300.6 522.6 L2299.0 532.2 L2310.3 535.4 L2318.3 537.0 L2318.3 543.4 L2313.5 548.2 L2316.7 554.6 L2313.5 561.0 L2319.9 564.2"/>
<path d="M2334.3 562.6 L2337.5 575.4 L2374.4 577.1 L2406.4 573.8 L2438.5 573.8 L2454.5 573.2 L2457.7 578.7 L2476.9 577.7 L2499.4 578.7 L2509.0 589.9 L2518.6 602.7 L2528.2 612.3 L2539.4 613.9 L2542.6 625.1 L2550.6 633.1 L2560.3 641.2 L2565.1 649.2 L2553.8 646.0 L2544.2 649.2 L2542.6 657.2 L2550.6 660.4 L2549.0 671.6 L2534.6 670.0 L2521.8 668.4 L2515.4 660.4 L2505.8 670.0 L2502.6 657.2 L2496.2 654.0 L2499.4 647.6 L2489.7 649.2 L2483.3 641.2 L2481.7 629.9 L2460.9 631.5 L2467.3 637.9 L2476.9 644.4 L2483.3 655.6 L2488.1 673.2 L2483.3 686.0 L2475.3 694.0 L2472.1 711.7 L2476.9 734.1 L2480.1 750.1 L2478.5 762.9 L2465.7 779.0 L2451.3 791.8"/>
<path d="M2613.1 745.3 L2597.1 754.9 L2579.5 751.7 L2577.2 740.5 L2582.7 727.7 L2592.3 718.1 L2605.1 708.5 L2624.4 702.1 L2643.6 695.6 L2662.8 689.2 L2675.6 686.0 L2682.1 682.8 L2694.9 686.0 L2701.3 686.0 L2710.9 679.6 L2707.7 673.2 L2694.9 676.4 L2701.3 666.8 L2688.5 673.2 L2675.6 674.8 L2694.9 666.8 L2714.1 660.4 L2726.9 650.8 L2742.9 642.8 L2752.6 631.5"/>
<path d="M2424.0 862.3 L2438.5 863.9 L2449.7 860.7 L2454.5 867.1 L2457.7 859.1 L2465.7 849.5 L2473.7 843.1 L2483.3 838.3 L2486.5 830.3 L2494.6 820.6 L2502.6 811.0 L2509.0 806.2 L2528.2 803.0 L2549.0 806.2 L2569.9 803.7 L2552.2 801.4 L2561.9 788.6 L2579.5 782.2 L2598.7 777.4 L2611.5 774.2 L2624.4 771.0"/>
<path d="M2444.9 815.8 L2452.9 827.1 L2454.5 836.7 L2432.1 840.5 L2424.0 846.3"/>
<path d="M367.0 986.8 L378.2 993.2 L387.8 994.8 L397.4 998.0 L410.3 1003.5"/>
<path d="M1692.9 1902.9 L1684.9 1928.6 L1681.7 1954.2 L1684.9 1979.9 L1691.3 2002.3 L1694.6 2021.5"/>
<path d="M2084.0 492.4 L2093.6 482.8 L2106.4 474.8 L2117.6 468.4 L2112.8 476.4 L2100.0 486.0 L2087.2 495.6 Z"/>
<path d="M2382.4 594.7 L2396.8 591.5 L2406.4 596.3 L2416.0 594.7 L2425.6 586.7 L2435.3 596.3 L2441.7 585.1 L2449.7 589.9 L2457.7 586.7 L2460.9 594.7 L2452.9 609.1 L2444.9 613.9 L2432.1 609.1 L2416.0 602.7 L2400.0 599.5 L2382.4 597.9 Z"/>
<path d="M349.4 1001.2 L351.9 994.8 L354.2 986.8 L360.6 982.0 L365.4 978.8 L367.0 986.8 L362.2 993.2 L357.4 998.0 L355.8 1006.0 L360.6 1015.6 L365.4 1028.5 L368.6 1033.3 L362.2 1031.7 L355.8 1022.1 L351.0 1015.6 L351.3 1006.0 Z"/>
<path d="M894.2 849.9 L899.0 853.8 L911.9 854.7 L910.3 868.2 L916.7 881.0 L919.9 890.6 L924.7 889.0 L924.7 871.4 L941.7 874.7 L943.3 885.9 L936.9 892.3 L938.5 898.7 L946.5 913.1 L941.7 919.6 L917.6 927.6 L910.3 919.5 L903.8 909.9 L900.6 900.3 L899.0 890.0 L891.0 887.4 L890.4 881.0 L892.6 868.2 Z"/>
<path d="M2704.2 1861.8 L2712.2 1866.0 L2718.6 1877.2 L2717.0 1886.8 L2713.8 1894.8 L2705.8 1893.2 L2697.8 1890.0 L2692.9 1885.2 L2689.7 1878.8 L2696.2 1872.4 L2701.0 1866.0 Z"/>
<path d="M1846.2 1782.1 L1836.5 1782.1 L1830.1 1775.6 L1826.9 1766.0 L1833.3 1761.2 L1842.9 1758.0 L1844.6 1766.0 L1839.7 1775.6 Z"/>
<path d="M400.0 1292.9 L406.4 1291.3 L414.4 1296.1 L409.6 1300.9 L403.2 1299.3 Z"/>
<path d="M419.2 1291.3 L427.2 1294.5 L436.9 1297.7 L440.1 1300.9 L432.1 1302.5 L422.4 1299.3 Z"/>
<path d="M424.0 1350.6 L430.4 1352.2 L432.1 1355.4 L427.2 1355.4 Z"/>
<path d="M481.7 1350.6 L486.5 1352.2 L492.9 1358.6 L496.2 1365.0 L489.7 1364.4 L485.9 1357.0 Z"/>
<path d="M473.7 1379.4 L476.9 1378.5 L481.7 1387.4 L485.9 1397.1 L481.7 1398.7 L476.9 1389.0 Z"/>
<path d="M548.4 253.7 L622.1 272.9 L806.4 320.0 L849.7 329.9 L1000.0 358.5 L1078.2 372.2 L1206.4 391.5 L1302.6 402.7 L1396.2 411.3 L1526.9 420.3 L1650.0 425.1 L1709.6 426.7 L1805.1 426.1 L1805.1 401.1 L1820.5 403.3 L1824.4 418.7 L1827.6 437.9 L1837.2 446.0 L1848.4 448.2 L1867.6 450.8 L1869.2 458.8 L1882.1 456.5 L1888.5 450.1 L1907.7 449.8 L1920.5 455.6 L1925.3 462.0 L1933.3 468.4 L1936.5 476.4 L1939.7 468.4 L1949.4 466.8 L1955.8 473.2 L1965.4 478.0 L1975.0 486.0 L1987.8 484.4 L1997.4 476.4 L2005.4 472.6 L2011.9 480.3 L2026.3 479.6 L2042.3 479.0 L2051.9 485.4 L2066.3 484.4 L2048.7 495.6 L2029.5 503.7 L2016.7 511.7 L2003.8 522.9 L1994.2 535.7 L1981.4 550.1 L1968.6 561.3 L1952.6 574.2 L1957.4 580.6 L1968.6 579.0 L1984.6 572.6 L1997.4 567.8 L2007.1 559.7 L2013.5 556.5 L2016.7 567.8 L2008.7 580.6 L2007.7 585.4 L2016.7 580.6 L2031.1 585.4 L2042.3 580.6 L2051.9 574.2 L2061.5 566.2 L2077.6 562.9 L2090.4 554.9 L2100.0 548.5 L2109.6 538.9 L2119.2 529.3 L2125.6 521.3 L2138.5 516.5 L2151.3 514.9 L2162.5 518.1 L2151.3 522.9 L2141.7 532.5 L2133.7 543.7 L2127.2 556.5 L2125.6 564.6 L2133.7 556.5 L2141.7 553.3 L2154.5 554.9 L2164.1 559.7 L2173.7 571.0 L2180.1 579.0 L2192.9 577.4 L2204.2 580.6 L2210.6 572.6 L2218.6 569.4 L2223.7 569.0 L2234.9 562.6 L2246.2 560.1 L2263.8 558.5 L2278.2 552.1 L2292.6 548.2 L2289.4 557.8 L2292.6 569.0 L2302.2 570.6 L2308.7 565.8 L2315.1 569.0 L2319.9 564.2 L2329.5 561.0 L2334.3 562.6 L2335.9 573.8 L2334.3 580.3 L2339.1 586.7 L2348.7 588.3 L2361.5 586.7 L2369.6 593.1 L2367.9 597.9 L2355.1 599.5 L2342.3 596.3 L2329.5 595.6 L2316.7 596.9 L2308.7 599.5 L2310.3 609.1 L2316.7 612.3 L2324.7 612.3 L2327.9 615.5 L2319.9 617.1 L2310.3 613.9 L2307.1 607.5 L2300.6 602.7 L2291.0 599.5 L2278.2 597.9 L2268.6 601.1 L2263.5 607.8 L2250.6 609.4 L2237.8 612.6 L2228.2 620.6 L2220.2 630.3 L2221.8 619.0 L2215.4 623.8 L2207.4 633.5 L2202.6 627.1 L2199.4 633.5 L2199.4 646.3 L2189.7 662.3 L2180.1 675.1 L2173.7 687.9 L2164.1 704.0 L2159.3 716.8 L2164.1 718.4 L2173.7 700.8 L2183.3 687.9 L2192.9 671.9 L2205.8 659.1 L2215.4 643.1 L2223.4 630.3 L2220.2 636.7 L2209.0 659.1 L2199.4 675.1 L2192.9 694.4 L2188.1 710.4 L2186.5 732.8 L2180.1 748.8 L2178.5 760.1 L2180.4 772.6 L2175.6 788.6 L2174.0 804.6 L2177.2 820.6 L2182.1 836.7 L2181.4 852.7 L2182.1 868.7 L2190.1 884.7 L2198.1 904.0 L2204.5 913.6 L2212.5 916.2 L2223.7 912.0 L2236.5 904.0 L2246.2 894.4 L2252.6 881.5 L2259.0 862.3 L2260.6 843.1 L2257.4 823.8 L2254.2 804.6 L2247.8 798.2 L2241.3 785.4 L2238.1 769.4 L2239.7 753.3 L2244.6 734.1 L2247.8 718.1 L2246.2 702.1 L2249.4 695.6 L2252.6 684.4 L2262.2 676.4 L2268.6 673.2 L2273.4 666.8 L2273.4 679.6 L2278.2 689.2 L2283.0 676.4 L2281.4 663.6 L2284.6 650.8 L2294.2 644.4 L2302.2 641.2 L2295.8 634.7 L2297.4 625.1 L2303.8 618.7 L2316.7 620.3 L2329.5 621.9 L2342.3 628.3 L2355.1 633.1 L2367.9 636.3 L2377.6 642.8 L2384.0 650.8 L2390.4 657.2 L2380.8 660.4 L2379.2 670.0 L2387.2 676.4 L2390.4 692.4 L2388.8 708.5 L2384.0 718.1 L2380.8 730.9 L2374.4 735.7 L2367.9 740.5 L2364.7 750.1 L2371.2 756.5 L2380.8 758.1 L2387.2 750.1 L2390.4 740.5 L2400.0 730.9 L2409.6 722.9 L2419.2 722.9 L2425.6 729.3 L2432.1 740.5 L2436.9 756.5 L2443.3 772.6 L2449.7 791.8 L2448.1 804.6 L2444.9 815.8 L2436.9 817.4 L2432.1 825.4 L2428.8 836.7 L2424.0 846.3 L2420.8 859.1 L2416.0 868.7 L2411.2 878.3 L2408.0 886.3 L2416.0 887.9 L2428.8 896.0 L2433.7 900.8 L2440.1 897.6 L2441.7 884.7 L2444.9 897.6 L2449.7 899.2 L2459.3 902.4 L2470.5 897.6 L2483.3 891.2 L2496.2 889.6 L2505.8 881.5 L2518.6 871.9 L2529.8 863.9 L2541.0 857.5 L2553.8 849.5 L2566.7 839.9 L2579.5 830.3 L2590.7 822.2 L2598.7 812.6 L2608.3 801.4 L2616.3 791.8 L2624.4 782.2 L2629.2 772.6 L2621.2 769.4 L2617.9 759.7 L2614.7 753.3 L2613.1 745.3 L2624.4 737.3 L2637.2 732.5 L2653.2 730.9 L2669.2 730.3 L2685.3 732.5 L2694.9 729.3 L2707.7 727.7 L2718.9 726.1 L2726.9 718.1 L2736.5 710.1 L2744.6 702.1 L2749.4 692.4 L2747.4 684.6 L2736.2 679.8 L2733.0 673.4 L2744.2 667.0 L2737.8 659.0 L2742.6 649.4 L2752.2 639.7 L2757.1 631.7 L2763.5 617.3 L2773.1 604.5 L2785.9 590.1 L2801.9 583.7 L2824.4 578.2 L2866.0 570.8 L2907.7 559.6 L2949.4 548.4 L2952.6 537.2 L2951.0 529.2 L2957.4 524.4 L2967.0 517.9 L2975.0 521.2 L2981.4 511.5 L2978.2 501.9 L2984.6 492.3 L2989.4 482.7 L2987.8 473.1 L2991.0 460.3 L2987.8 447.4 L2991.0 428.2 L2991.0 412.2 L2997.4 392.9 L3003.8 373.7 L3010.3 356.1 L3016.7 353.8 L3021.5 354.5 L3024.7 365.7 L3031.1 367.3 L3042.3 359.3 L3048.7 356.1 L3051.9 349.7 L3064.7 348.7 L3080.8 357.7 L3087.2 364.1 L3096.8 402.6 L3106.4 428.2 L3112.8 447.4 L3125.6 453.8 L3133.7 455.4 L3135.3 466.7 L3144.9 479.5 L3154.5 477.9 L3164.1 489.1 L3170.5 497.1 L3167.3 505.1 L3157.7 511.5 L3151.3 521.2 L3144.9 530.8 L3132.1 529.2 L3125.6 540.4 L3119.2 553.2 L3116.0 566.0 L3100.0 556.4 L3093.6 569.2 L3084.0 575.6 L3077.6 585.3 L3064.7 588.5 L3055.1 598.1 L3048.7 607.7 L3039.1 617.3 L3034.3 630.1 L3032.7 639.7 L3029.5 652.6 L3019.9 662.2 L3015.1 671.8 L3023.1 676.6 L3023.1 687.8 L3031.1 691.0 L3039.1 694.2 L3035.9 703.8 L3029.5 710.3 L3023.1 719.9 L3026.3 732.7 L3042.3 743.9 L3055.1 745.5 L3064.7 742.3 L3074.4 740.7 L3080.8 748.7 L3077.6 729.5 L3069.6 726.3 L3074.4 724.7 L3082.4 731.1 L3088.8 748.7 L3084.0 755.1 L3071.2 758.3 L3061.5 763.1 L3051.9 764.7 L3042.3 767.9 L3032.7 774.4 L3023.1 777.6 L3016.7 787.2 L3010.3 795.2 L3000.6 796.8 L2987.8 800.0 L2975.0 809.6 L2962.2 816.0 L2949.4 820.8 L2936.5 825.6 L2923.7 832.1 L2915.7 840.1 L2912.2 848.9 L2905.8 860.1 L2897.8 872.9 L2891.3 884.2 L2896.2 887.4 L2902.6 879.4 L2909.0 889.0 L2911.5 908.2 L2912.8 927.4 L2910.6 946.7 L2905.8 959.5 L2899.4 972.3 L2891.3 985.1 L2884.9 999.6 L2880.1 999.6 L2880.1 985.1 L2867.3 980.3 L2854.5 975.5 L2846.5 969.1 L2841.7 959.5 L2840.1 949.9 L2844.9 940.3 L2840.1 953.1 L2843.3 969.1 L2849.7 981.9 L2857.7 994.7 L2867.3 1004.4 L2876.9 1014.0 L2881.7 1025.2 L2884.0 1039.6 L2883.3 1052.4 L2880.1 1068.5 L2873.7 1081.3 L2867.3 1095.7 L2862.5 1110.1 L2859.3 1126.2 L2856.1 1136.4 L2852.9 1132.6 L2850.6 1116.5 L2849.7 1100.5 L2852.9 1087.7 L2849.7 1076.5 L2840.1 1063.7 L2830.4 1054.0 L2822.4 1042.8 L2819.2 1030.0 L2822.4 1020.4 L2828.8 1010.8 L2820.8 1004.4 L2816.0 994.7 L2822.4 985.1 L2828.8 975.5 L2826.3 965.9 L2817.6 972.3 L2806.4 981.9 L2796.8 991.5 L2790.4 999.6 L2793.6 1010.8 L2803.2 1023.6 L2808.0 1036.4 L2811.2 1046.0 L2817.6 1055.6 L2825.6 1065.3 L2830.4 1076.5 L2833.7 1087.7 L2835.9 1100.5 L2837.5 1113.3 L2840.1 1126.2 L2843.3 1137.4 L2848.1 1145.4 L2854.5 1148.6 L2859.3 1153.4 L2858.3 1153.7 L2864.3 1164.4 L2870.2 1175.0 L2876.1 1185.7 L2880.9 1195.2 L2885.6 1202.3 L2890.3 1208.2 L2896.3 1215.3 L2901.0 1221.2 L2904.5 1228.3 L2906.9 1236.6 L2907.5 1246.1 L2906.9 1255.6 L2902.2 1260.3 L2896.3 1262.7 L2890.3 1266.3 L2884.4 1271.0 L2878.5 1275.7 L2873.7 1281.7 L2869.0 1288.8 L2864.3 1295.9 L2860.7 1303.0 L2859.5 1312.5 L2848.7 1304.0 L2839.1 1308.8 L2826.3 1316.9 L2816.7 1324.9 L2807.1 1337.7 L2799.0 1350.5 L2792.6 1363.3 L2790.4 1376.2 L2787.8 1380.0 L2778.2 1377.8 L2765.4 1381.0 L2752.6 1387.4 L2744.6 1398.6 L2736.5 1411.4 L2730.1 1424.2 L2728.5 1437.1 L2723.7 1449.9 L2712.5 1454.7 L2704.5 1465.9 L2694.9 1475.5 L2688.5 1485.1 L2678.8 1491.5 L2669.2 1501.2 L2659.6 1514.0 L2651.6 1526.8 L2643.6 1536.4 L2637.2 1549.2 L2635.6 1562.1 L2632.4 1574.9 L2630.8 1587.7 L2627.6 1600.5 L2626.9 1613.3 L2628.2 1629.4 L2630.8 1642.2 L2638.5 1659.2 L2648.1 1678.5 L2657.7 1697.7 L2670.5 1720.1 L2683.3 1739.4 L2696.2 1755.4 L2705.8 1766.6 L2707.4 1774.6 L2702.6 1781.0 L2707.4 1797.1 L2718.6 1816.3 L2731.4 1838.7 L2744.2 1861.2 L2753.8 1877.2 L2758.7 1896.4 L2760.3 1915.6 L2761.9 1934.9 L2762.5 1954.1 L2761.9 1973.3 L2757.1 1986.2 L2747.4 1992.6 L2734.6 1999.0 L2721.8 2002.2 L2709.0 2003.8 L2702.6 1995.8 L2701.0 1986.2 L2696.2 1973.3 L2683.3 1963.7 L2670.5 1957.3 L2659.3 1947.7 L2651.3 1934.9 L2643.3 1922.1 L2635.3 1925.3 L2625.6 1918.8 L2619.2 1906.0 L2611.2 1893.2 L2600.0 1877.2 L2588.8 1864.4 L2580.8 1854.7 L2579.2 1845.1 L2572.8 1832.3 L2571.2 1819.5 L2574.4 1806.7 L2576.0 1790.6 L2572.8 1777.8 L2569.6 1765.0 L2561.5 1749.0 L2548.7 1750.6 L2539.1 1737.8 L2524.7 1726.5 L2519.9 1716.9 L2507.1 1707.3 L2494.2 1697.7 L2481.4 1692.9 L2468.6 1699.3 L2462.2 1707.3 L2452.6 1715.3 L2439.7 1723.3 L2423.7 1732.9 L2404.5 1729.7 L2398.1 1716.9 L2382.1 1704.1 L2369.2 1691.3 L2350.0 1681.7 L2339.7 1684.3 L2323.7 1685.9 L2307.7 1690.7 L2294.9 1692.3 L2278.8 1695.5 L2262.8 1700.3 L2250.0 1705.1 L2240.4 1708.3 L2234.0 1698.7 L2238.8 1679.5 L2243.6 1677.9 L2248.4 1692.3 L2246.8 1701.9 L2230.8 1701.9 L2217.9 1700.3 L2205.1 1701.9 L2192.3 1705.1 L2179.5 1703.5 L2163.5 1706.7 L2153.8 1714.7 L2147.4 1724.4 L2139.4 1730.8 L2136.2 1737.2 L2147.4 1738.8 L2157.1 1734.0 L2163.5 1724.4 L2173.1 1721.2 L2176.3 1730.8 L2169.9 1743.6 L2163.5 1756.4 L2160.3 1766.0 L2166.7 1772.4 L2176.3 1775.6 L2185.9 1782.1 L2189.1 1788.5 L2179.5 1794.9 L2169.9 1798.1 L2165.1 1804.5 L2163.5 1794.9 L2157.1 1782.1 L2147.4 1777.2 L2137.8 1778.8 L2128.2 1785.3 L2118.6 1791.7 L2105.8 1796.5 L2089.7 1798.1 L2073.7 1801.3 L2064.1 1793.3 L2051.3 1786.9 L2044.9 1778.8 L2035.3 1769.2 L2028.8 1759.6 L2022.4 1756.4 L2012.8 1750.0 L2003.2 1753.2 L1993.6 1756.4 L2000.0 1766.0 L2012.8 1772.4 L2003.2 1772.4 L1987.2 1770.8 L1974.4 1769.2 L1958.3 1764.4 L1942.3 1759.6 L1926.3 1758.0 L1910.3 1759.0 L1892.6 1761.2 L1878.2 1767.6 L1862.2 1774.0 L1849.4 1782.1 L1839.7 1791.7 L1830.1 1799.7 L1820.5 1807.7 L1810.9 1817.3 L1798.1 1825.3 L1782.1 1833.3 L1766.0 1841.3 L1750.0 1849.4 L1741.0 1851.7 L1725.0 1861.3 L1709.0 1874.1 L1696.2 1886.9 L1688.1 1899.7 L1683.3 1912.6 L1678.5 1928.6 L1673.7 1944.6 L1670.5 1960.6 L1672.1 1976.7 L1675.3 1992.7 L1680.1 2005.5 L1683.3 2015.1 L1680.1 2027.9 L1673.7 2026.3 L1664.1 2018.3 L1654.5 2014.5 L1641.7 2013.5 L1628.8 2011.9 L1616.0 2005.5 L1603.2 2000.7 L1590.4 1992.7 L1580.8 1987.9 L1572.8 1986.3 L1569.6 1973.5 L1563.1 1960.6 L1558.3 1949.4 L1552.6 1941.4 L1553.5 1931.8 L1547.1 1923.8 L1550.3 1912.6 L1547.1 1904.6 L1535.9 1898.1 L1527.9 1886.9 L1521.5 1875.7 L1513.5 1864.5 L1503.8 1853.3 L1499.0 1842.1 L1492.6 1829.2 L1487.8 1816.4 L1483.0 1803.6 L1479.8 1794.0 L1468.6 1781.2 L1457.4 1769.9 L1447.8 1761.9 L1439.7 1750.7 L1433.3 1749.1 L1423.7 1750.7 L1410.9 1747.5 L1398.1 1745.9 L1388.5 1741.1 L1380.4 1747.5 L1367.6 1749.1 L1359.6 1758.7 L1353.2 1771.5 L1351.6 1781.2 L1343.6 1784.4 L1337.2 1795.6 L1330.8 1798.8 L1321.2 1794.0 L1311.5 1787.6 L1301.9 1781.2 L1292.3 1774.7 L1279.5 1768.3 L1269.9 1758.7 L1260.3 1752.3 L1252.2 1742.7 L1247.4 1729.9 L1244.2 1718.7 L1247.4 1707.4 L1241.0 1694.6 L1237.8 1681.8 L1233.0 1672.2 L1221.8 1662.6 L1209.0 1656.2 L1199.4 1646.5 L1189.7 1635.3 L1180.1 1620.9 L1170.5 1614.5 L1162.5 1603.3 L1157.7 1590.4 L1148.1 1585.0 L1100.0 1579.9 L1051.6 1576.5 L1050.6 1605.4 L999.4 1598.3 L884.0 1582.9 L680.4 1463.4 L682.1 1455.4 L690.1 1449.0 L666.0 1446.1 L550.6 1433.3 L550.0 1424.3 L547.4 1414.7 L548.1 1406.7 L547.4 1392.2 L544.2 1381.0 L537.8 1369.8 L531.4 1360.2 L525.0 1349.0 L518.6 1342.6 L512.2 1335.5 L504.2 1336.2 L497.8 1332.9 L497.8 1324.9 L496.2 1315.3 L489.7 1310.5 L476.9 1308.9 L467.3 1304.1 L459.3 1297.7 L457.7 1288.1 L451.3 1280.1 L441.7 1272.1 L428.8 1267.2 L412.8 1260.8 L407.1 1259.2 L394.2 1257.6 L387.8 1249.6 L391.0 1243.2 L392.6 1230.4 L395.8 1220.8 L398.1 1211.2 L391.0 1207.9 L387.2 1201.5 L390.4 1193.5 L389.4 1185.5 L383.0 1177.5 L376.6 1167.9 L371.8 1156.7 L367.0 1145.4 L363.8 1132.6 L359.0 1119.8 L351.9 1111.8 L352.6 1102.2 L354.2 1092.6 L362.2 1089.4 L367.0 1081.3 L365.4 1071.7 L360.6 1066.9 L351.0 1062.1 L344.6 1052.5 L341.3 1042.9 L344.6 1031.7 L342.3 1022.1 L344.6 1012.4 L349.4 1001.2 L342.9 993.2 L334.9 985.2 L328.5 982.0 L334.0 974.0 L331.7 964.4 L328.5 954.7 L323.7 945.1 L317.3 932.3 L311.5 921.1 L307.1 909.9 L310.9 903.5 L310.3 893.8 L310.9 881.0 L314.1 871.4 L317.9 860.2 L317.3 845.8 L312.5 832.9 L307.7 821.7 L301.9 810.5 L302.9 799.3 L309.3 789.7 L318.9 781.7 L326.9 773.7 L328.5 762.4 L333.3 752.8 L339.7 740.0 L341.7 729.6 L340.1 710.4 L344.9 697.6 L341.0 684.7 L343.3 668.7 L348.1 655.9 L347.4 646.3 L345.8 636.7 L351.3 627.1 L360.9 614.2 L370.5 601.4 L381.7 585.4 L389.7 566.2 L397.8 546.9 L405.8 527.7 L413.8 508.5 L423.4 486.0 L431.4 460.4 L436.2 437.9 L439.4 425.1 L437.8 415.5 L444.2 399.5 L449.0 386.7 L451.3 354.6 L450.6 329.0 L449.0 316.2 L444.9 303.3 L445.8 284.1 L450.6 268.1 L457.1 269.7 L466.7 279.3 L477.9 288.9 L492.3 296.3 L508.3 302.7 L521.2 304.0 L522.8 316.2 L517.9 332.2 L514.7 354.6 L521.2 373.8 L530.8 377.1 L537.2 361.0 L546.8 348.2 L553.2 332.2 L556.4 319.4 L553.2 300.1 L556.4 277.7 L550.0 268.1 L548.4 253.7 Z M2903.1 864.2 L2913.0 854.3 L2921.8 848.8 L2929.5 845.5 L2938.2 844.4 L2943.7 838.9 L2954.7 835.6 L2965.7 832.3 L2973.4 824.6 L2978.9 816.9 L2985.5 812.5 L2988.8 811.4 L2985.5 816.9 L2988.8 819.1 L2995.4 816.9 L3005.3 815.8 L3000.9 823.5 L2992.1 831.2 L2983.3 838.9 L2974.5 845.5 L2965.7 852.1 L2956.9 858.7 L2948.1 863.1 L2939.3 866.4 L2930.5 869.7 L2921.8 871.9 L2913.0 875.2 L2905.3 877.4 L2899.8 875.2 L2902.0 868.6 Z M3049.2 784.0 L3055.8 777.4 L3064.6 775.2 L3069.0 777.4 L3061.3 781.8 L3053.6 787.3 L3051.4 790.5 Z M3075.6 777.4 L3083.3 780.1 L3091.0 779.0 L3095.9 775.2 L3093.7 770.8 L3088.8 769.5 L3092.6 773.0 L3091.5 776.8 L3084.4 777.9 L3076.7 776.3 Z M3014.6 801.5 L3017.9 802.6 L3019.0 807.0 L3016.3 809.8 L3013.5 807.0 Z" stroke-width="2.2"/>
</g>
<g fill="none" stroke="#4d4d4d" stroke-width="5" stroke-linejoin="round" stroke-linecap="round">
<path d="M2624.4 1619.7 L2621.2 1639.0 L2617.9 1658.2 L2624.4 1674.2 L2629.2 1690.3 L2627.6 1706.3 L2630.8 1719.1 L2637.2 1728.7 L2635.6 1735.1"/>
<path d="M2616.0 1649.6 L2622.4 1665.6 L2619.2 1678.5 L2628.8 1691.3 L2632.1 1704.1 L2628.8 1716.9 L2635.3 1729.7 L2638.5 1732.9"/>
<path d="M2579.2 1825.9 L2593.6 1829.1 L2598.4 1836.2 L2593.6 1829.1 L2591.0 1845.1 L2585.9 1854.7" stroke-width="7.5"/>
<path d="M2620.8 1896.4 L2628.8 1888.4 L2633.7 1883.6 L2628.8 1888.4 L2628.2 1902.8 L2625.6 1910.8" stroke-width="7.5"/>
<path d="M2826 1067 L2820 1064 L2815 1061 L2809 1059 L2803 1057 L2797 1058 L2791 1058 L2785 1058 L2779 1055 L2774 1053 L2771 1047 L2772 1044 L2775 1038 L2777 1032 L2778 1026 M2826 1067 L2821 1063 L2816 1058 L2809 1058 L2803 1057 L2797 1055 L2791 1056 L2785 1056 L2779 1056 L2776 1050 L2774 1046 L2772 1044 L2775 1039 L2779 1033 L2778 1026" stroke-width="5.5"/>
<path d="M2769 1048 L2771 1045 L2773 1038 M2774 1038 L2778 1041 L2783 1047" stroke-width="4"/>
<path d="M2832 1088 L2826 1086 L2820 1084 L2815 1081 L2809 1080 L2803 1078 L2797 1077 L2791 1077 L2785 1077 L2779 1080 L2773 1076 M2832 1088 L2826 1086 L2820 1085 L2815 1082 L2809 1079 L2803 1078 L2797 1077 L2791 1076 L2785 1077 L2779 1075 L2773 1076" stroke-width="5.5"/>
<path d="M2814 1083 L2815 1081 L2813 1074 M2809 1081 L2810 1077 L2812 1077 M2803 1079 L2799 1078 L2798 1075 M2797 1077 L2799 1077 L2802 1075 M2785 1078 L2784 1076 L2795 1078" stroke-width="4"/>
<path d="M2836 1115 L2830 1116 L2823 1116 L2816 1116 L2810 1112 L2803 1112 L2797 1114 L2790 1116 M2836 1115 L2829 1113 L2823 1113 L2817 1113 L2810 1109 L2803 1112 L2797 1113 L2790 1116" stroke-width="5.5"/>
<path d="M2817 1115 L2817 1109 L2818 1103 M2803 1114 L2805 1114 L2806 1112" stroke-width="4"/>
<path d="M2838 1145 L2834 1141 L2828 1139 L2822 1138 L2815 1137 L2810 1135 L2803 1134 L2798 1134 L2791 1134 L2786 1136 L2779 1136 M2838 1145 L2833 1142 L2828 1139 L2822 1136 L2816 1135 L2810 1132 L2804 1133 L2797 1130 L2791 1133 L2785 1133 L2779 1136" stroke-width="5.5"/>
<path d="M2827 1140 L2826 1138 L2828 1131 M2816 1136 L2816 1132 L2812 1125 M2810 1135 L2810 1132 L2808 1127" stroke-width="4"/>
<path d="M2797 992 L2793 992 L2790 989 M2797 992 L2794 988 L2790 989" stroke-width="5.5"/>
<path d="M2813 1194 L2819 1196 L2823 1199 L2826 1205 L2829 1210 L2830 1216 L2831 1222 L2837 1220 M2813 1194 L2819 1196 L2824 1199 L2823 1206 L2827 1211 L2827 1217 L2831 1223 L2837 1220" stroke-width="5.5"/>
<path d="M2867 1213 L2869 1220 L2870 1226 L2869 1233 M2867 1213 L2868 1220 L2869 1226 L2869 1233" stroke-width="5.5"/>
<path d="M2814 1254 L2821 1256 L2827 1258 L2834 1260 L2840 1262 L2847 1260 L2854 1261 L2861 1260 M2814 1254 L2820 1259 L2827 1259 L2834 1262 L2841 1261 L2847 1266 L2854 1265 L2861 1260" stroke-width="5.5"/>
<path d="M2836 1248 L2841 1245 L2847 1247 L2850 1251 L2850 1255 L2844 1256 L2837 1255 L2836 1248 M2836 1248 L2842 1249 L2846 1250 L2847 1252 L2849 1253 L2844 1255 L2839 1254 L2836 1248" stroke-width="5.5"/>
<path d="M2851 1250 L2846 1253 L2840 1250" stroke-width="4"/>
<path d="M2819 1284 L2825 1287 L2831 1288 L2837 1291 L2842 1291 L2847 1288 L2852 1283 L2858 1282 M2819 1284 L2824 1289 L2830 1292 L2836 1293 L2842 1292 L2849 1291 L2854 1287 L2858 1282" stroke-width="5.5"/>
<path d="M2842 1292 L2843 1295 L2841 1307" stroke-width="4"/>
<path d="M2843 1288 L2847 1293 L2853 1296 L2858 1301 M2843 1288 L2847 1293 L2852 1298 L2858 1301" stroke-width="5.5"/>
<path d="M2848 1315 L2854 1311 L2860 1312 M2848 1315 L2854 1310 L2860 1312" stroke-width="5.5"/>
<path d="M2903 864 L2907 860 L2912 856 L2917 852 L2922 848 L2927 845 L2934 846 L2939 843 L2943 839 L2949 837 L2955 836 L2961 835 L2967 832 L2971 827 L2975 822 L2978 817 L2983 813 L2990 811 L2985 817 L2990 817 L2996 817 L3003 815 L3004 819 L3001 824 L2996 828 L2992 832 L2988 837 L2982 840 L2977 843 L2972 847 L2967 851 L2962 854 L2958 859 L2953 862 L2947 865 L2942 867 L2936 869 L2930 870 L2924 872 L2918 874 L2912 875 L2906 877 L2901 875 L2902 870 L2903 864 M2903 864 L2908 861 L2912 856 L2917 852 L2923 851 L2928 848 L2934 846 L2939 844 L2945 841 L2949 838 L2955 837 L2961 835 L2967 833 L2972 828 L2976 824 L2981 820 L2985 818 L2987 813 L2985 817 L2990 819 L2997 819 L3002 818 L3001 818 L3000 823 L2995 827 L2990 830 L2984 833 L2980 837 L2977 843 L2970 844 L2966 849 L2961 853 L2958 858 L2951 858 L2947 863 L2941 866 L2935 868 L2929 869 L2923 870 L2918 873 L2911 873 L2906 877 L2902 874 L2902 870 L2903 864" stroke-width="5"/>
<path d="M2754.5 1987.8 L2745.8 2002.2 L2729.8 2021.4 L2710.6 2032.6 L2691.3 2040.6 L2673.7 2047.1 L2660.9 2051.9 L2648.1 2051.2" stroke-dasharray="7 6"/>
<path d="M2596.8 2054.4 L2604.8 2051.9"/>
<path d="M2193.9 1724.4 L2197.1 1737.2 L2192.3 1750.0 L2182.7 1761.2 L2174.7 1767.6" stroke-dasharray="9 7" stroke-width="4"/>
</g>
<g fill="none" stroke="#4d4d4d" stroke-linejoin="round" stroke-linecap="round">
<path d="M3170 497 L3168 502 L3167 510 L3160 511 L3158 517 L3153 521 L3151 526 L3144 528 L3140 528 L3134 529 L3128 531 L3127 538 L3124 543 L3123 549 L3122 555 L3118 560 L3115 564 L3110 565 L3106 560 L3101 557 L3095 560 L3094 566 L3091 571 L3086 574 L3081 578 L3080 585 L3073 584 L3069 590 L3063 591 L3059 595 L3057 602 L3053 606 L3048 610 L3045 615 L3042 620 L3042 625 L3037 630 L3036 635 L3035 642 L3035 648 L3030 653 L3028 660 L3023 663 L3018 667 L3015 672 M3170 497 L3166 502 L3163 505 L3155 505 L3153 513 L3152 520 L3145 522 L3144 528 L3140 530 L3134 529 L3128 531 L3125 537 L3122 542 L3117 547 L3113 552 L3117 560 L3115 563 L3111 563 L3106 559 L3100 556 L3096 560 L3092 565 L3088 568 L3085 574 L3082 579 L3076 581 L3073 586 L3067 587 L3061 588 L3056 593 L3048 595 L3043 599 L3043 605 L3042 612 L3036 616 L3033 622 L3033 629 L3029 634 L3026 640 L3027 646 L3024 650 L3016 648 L3013 655 L3014 664 L3015 672" stroke-width="6.5"/>
<path d="M3159 510 L3158 503 L3160 492 M3152 520 L3151 518 L3146 519 M3145 530 L3143 524 L3142 517 M3140 530 L3136 529 L3142 524 M3134 529 L3129 528 L3124 525 M3127 538 L3124 540 L3122 542 M3121 549 L3120 542 L3113 539 M3117 560 L3112 560 L3105 561 M3116 566 L3117 561 L3120 556 M3095 567 L3089 564 L3081 562 M3079 584 L3076 581 L3074 576 M3051 604 L3049 595 L3046 591 M3047 609 L3042 601 L3036 600 M3035 629 L3035 625 L3035 615 M3031 647 L3027 640 L3026 638" stroke-width="5.2"/>
<path d="M3023 688 L3029 689 L3034 692 L3039 695 L3038 701 L3035 706 L3030 710 L3028 716 L3024 720 L3025 726 L3025 733 L3030 736 L3036 738 L3040 743 L3046 744 L3052 745 L3058 745 L3063 743 L3069 741 L3074 742 L3078 747 L3081 746 L3080 740 L3078 734 L3077 729 L3072 726 L3074 725 L3079 728 L3084 732 L3084 738 L3087 744 L3088 749 L3085 754 L3079 756 L3073 757 L3067 758 L3063 762 L3057 765 L3051 765 L3046 768 L3039 769 L3034 772 L3029 775 L3023 776 L3020 782 L3016 787 L3012 791 L3009 796 L3003 798 L2997 798 L2991 800 L2986 801 L2981 805 L2976 809 L2971 812 L2965 813 L2960 816 L2954 819 L2949 821 L2943 822 L2937 825 L2932 828 L2926 830 L2922 834 L2918 838 L2914 843 L2912 849 M3023 688 L3028 692 L3034 693 L3037 696 L3036 700 L3033 705 L3028 708 L3025 714 L3023 720 L3024 726 L3026 732 L3029 737 L3034 741 L3040 743 L3045 746 L3052 745 L3058 745 L3064 744 L3069 742 L3074 744 L3078 747 L3082 746 L3081 740 L3079 734 L3077 728 L3072 726 L3074 727 L3076 731 L3081 734 L3085 738 L3084 745 L3087 749 L3083 752 L3079 755 L3072 753 L3068 759 L3062 762 L3056 761 L3051 765 L3045 766 L3040 769 L3035 772 L3029 775 L3023 776 L3020 782 L3016 786 L3011 790 L3007 792 L3002 795 L2997 796 L2991 799 L2985 801 L2980 805 L2975 808 L2970 810 L2964 812 L2959 815 L2954 818 L2949 821 L2942 821 L2937 824 L2931 826 L2926 830 L2922 834 L2917 838 L2909 840 L2912 849" stroke-width="5.0"/>
<path d="M3037 701 L3033 700 L3034 694 M3083 732 L3076 734 L3074 737 M3088 749 L3084 748 L3082 747 M3085 754 L3079 752 L3077 749 M3079 756 L3079 752 L3080 747 M3035 773 L3033 770 L3036 769 M3024 777 L3019 773 L3016 773 M3013 792 L3015 789 L3019 786" stroke-width="4.0"/>
<path d="M2891 884 L2896 888 L2900 883 L2904 881 L2907 886 L2910 891 L2910 898 L2911 903 L2912 909 L2912 915 L2912 921 L2913 927 L2911 933 L2911 939 L2911 945 L2909 951 L2907 957 L2904 962 L2902 968 L2900 973 L2896 978 L2893 983 L2889 988 L2887 994 L2885 1000 M2891 884 L2896 888 L2900 883 L2904 881 L2906 886 L2907 892 L2910 897 L2910 904 L2911 909 L2911 915 L2910 922 L2912 927 L2911 933 L2911 939 L2909 945 L2908 951 L2905 956 L2902 961 L2901 967 L2898 973 L2895 978 L2892 983 L2888 988 L2886 994 L2885 1000" stroke-width="4.5"/>
<path d="M2846 969 L2844 964 L2841 958 L2841 952 L2843 947 L2845 942 L2842 945 L2841 951 L2840 956 L2841 962 L2843 968 L2846 974 L2848 979 L2850 985 L2854 990 L2857 995 L2861 999 L2866 1004 L2870 1008 L2874 1012 L2879 1016 L2880 1022 L2882 1028 L2886 1033 L2884 1040 L2884 1046 L2882 1052 L2883 1058 L2881 1064 L2880 1070 L2878 1076 L2875 1081 L2872 1086 L2869 1091 L2867 1097 L2865 1102 L2863 1108 L2861 1114 L2860 1120 L2859 1126 L2859 1132 L2855 1135 L2852 1131 L2850 1125 L2851 1119 L2850 1112 L2851 1106 L2850 1100 L2851 1095 L2854 1089 L2852 1083 L2850 1077 L2848 1071 L2844 1066 L2840 1062 L2835 1058 L2830 1054 L2827 1049 L2823 1045 L2822 1039 L2819 1033 L2820 1027 L2822 1022 L2825 1016 L2827 1011 L2824 1008 L2821 1003 L2819 997 L2817 993 L2821 988 L2825 983 L2828 978 L2830 972 L2826 966 L2821 969 L2817 974 L2813 977 L2809 982 L2805 987 L2798 988 L2795 993 L2792 999 L2791 1004 L2794 1009 L2795 1016 L2800 1020 L2803 1025 L2807 1030 L2806 1036 L2808 1042 L2811 1048 L2815 1052 L2818 1058 L2822 1062 L2826 1066 L2829 1072 L2832 1077 L2834 1083 L2834 1089 L2835 1095 L2835 1101 L2837 1107 L2840 1113 L2841 1119 L2841 1125 L2842 1131 L2843 1137 L2847 1141 L2850 1146 L2854 1150 L2859 1153 M2846 969 L2846 963 L2844 957 L2841 952 L2846 948 L2847 943 L2842 945 L2834 949 L2839 957 L2839 963 L2842 969 L2846 974 L2847 980 L2850 985 L2852 991 L2856 996 L2862 999 L2866 1003 L2869 1009 L2874 1012 L2875 1018 L2880 1022 L2877 1029 L2882 1034 L2881 1040 L2883 1046 L2881 1052 L2879 1057 L2878 1063 L2879 1069 L2876 1075 L2872 1079 L2869 1085 L2867 1090 L2866 1097 L2865 1103 L2863 1108 L2860 1114 L2860 1120 L2859 1126 L2857 1131 L2856 1134 L2853 1130 L2853 1124 L2852 1118 L2851 1112 L2852 1106 L2852 1101 L2853 1095 L2856 1089 L2854 1082 L2853 1076 L2849 1070 L2846 1065 L2844 1059 L2835 1058 L2832 1053 L2830 1047 L2824 1044 L2823 1038 L2820 1033 L2823 1028 L2823 1022 L2829 1019 L2830 1011 L2825 1007 L2821 1003 L2819 998 L2820 994 L2824 990 L2825 983 L2831 979 L2829 972 L2826 966 L2820 966 L2815 971 L2812 976 L2807 980 L2803 985 L2799 989 L2794 992 L2791 998 L2791 1004 L2793 1010 L2796 1015 L2800 1020 L2803 1025 L2803 1031 L2806 1036 L2808 1042 L2810 1048 L2810 1055 L2816 1059 L2820 1064 L2826 1067 L2827 1073 L2829 1078 L2830 1084 L2829 1090 L2834 1095 L2833 1102 L2833 1108 L2837 1113 L2835 1120 L2838 1125 L2838 1132 L2842 1137 L2845 1143 L2849 1148 L2853 1152 L2859 1153" stroke-width="6.0"/>
<path d="M2841 958 L2841 954 L2841 948 M2841 951 L2830 946 L2828 940 M2841 956 L2837 961 L2834 967 M2851 984 L2845 989 L2836 994 M2854 989 L2848 988 L2836 986 M2858 995 L2850 995 L2846 1001 M2882 1028 L2874 1036 L2867 1045 M2883 1034 L2875 1027 L2872 1026 M2884 1046 L2881 1050 L2875 1051 M2872 1086 L2868 1085 L2859 1083 M2869 1091 L2863 1089 L2860 1085 M2865 1103 L2858 1100 L2850 1098 M2861 1120 L2852 1120 L2845 1116 M2859 1126 L2854 1119 L2846 1111 M2852 1124 L2854 1113 L2858 1103 M2850 1106 L2854 1107 L2856 1109 M2850 1100 L2861 1096 L2867 1096 M2853 1089 L2860 1091 L2869 1095 M2852 1083 L2856 1082 L2865 1086 M2839 1063 L2845 1056 L2851 1048 M2831 1054 L2823 1045 L2820 1036 M2827 1049 L2833 1047 L2840 1046 M2821 1039 L2827 1038 L2832 1038 M2820 1027 L2825 1034 L2827 1035 M2822 1021 L2826 1022 L2828 1024 M2820 1003 L2824 997 L2824 986 M2827 978 L2833 986 L2837 990 M2822 969 L2811 966 L2802 963 M2817 973 L2811 965 L2799 960 M2812 977 L2810 974 L2809 968 M2791 998 L2787 990 L2786 987 M2797 1015 L2791 1023 L2783 1028 M2815 1052 L2807 1059 L2802 1062 M2828 1072 L2824 1069 L2816 1068 M2840 1125 L2830 1120 L2821 1118" stroke-width="4.8"/>
<path d="M2859 1153 L2863 1157 L2864 1163 L2866 1169 L2870 1174 L2873 1179 L2877 1184 L2879 1190 L2882 1195 L2886 1200 L2887 1206 L2892 1210 L2896 1214 L2899 1220 L2902 1225 L2905 1230 L2906 1236 L2906 1242 L2907 1248 L2908 1254 L2904 1259 L2898 1261 L2893 1265 L2889 1270 L2884 1273 L2880 1277 L2876 1281 L2871 1285 L2868 1290 L2865 1296 L2862 1301 L2860 1306 L2860 1313 L2855 1309 L2850 1305 L2844 1305 L2838 1306 L2834 1311 L2830 1316 L2825 1320 L2820 1323 L2815 1327 L2812 1332 L2809 1337 L2804 1341 L2801 1346 L2796 1351 L2795 1357 L2791 1362 L2792 1369 L2791 1375 L2788 1380 M2859 1153 L2861 1158 L2862 1165 L2866 1169 L2869 1174 L2872 1180 L2874 1185 L2875 1192 L2879 1196 L2882 1202 L2888 1206 L2892 1210 L2894 1216 L2899 1220 L2902 1225 L2904 1231 L2903 1237 L2905 1242 L2907 1248 L2906 1254 L2902 1257 L2898 1261 L2892 1262 L2885 1263 L2882 1270 L2875 1272 L2871 1277 L2871 1285 L2865 1288 L2862 1294 L2859 1300 L2857 1306 L2859 1310 L2855 1308 L2850 1304 L2844 1305 L2838 1307 L2833 1310 L2828 1313 L2821 1315 L2819 1322 L2815 1327 L2811 1331 L2805 1335 L2804 1341 L2797 1344 L2794 1349 L2793 1356 L2792 1363 L2791 1369 L2788 1374 L2788 1380" stroke-width="6.0"/>
<path d="M2864 1163 L2856 1164 L2846 1166 M2870 1174 L2861 1179 L2860 1188 M2878 1190 L2870 1190 L2863 1199 M2900 1219 L2895 1221 L2883 1229 M2905 1230 L2899 1234 L2895 1236 M2907 1248 L2904 1248 L2903 1244 M2888 1268 L2886 1264 L2881 1260 M2875 1280 L2871 1272 L2861 1266 M2871 1285 L2867 1283 L2865 1281 M2865 1295 L2861 1293 L2856 1292 M2845 1306 L2841 1301 L2850 1295 M2834 1312 L2836 1306 L2838 1301 M2819 1323 L2811 1318 L2806 1316 M2815 1327 L2809 1319 L2811 1311 M2808 1337 L2803 1327 L2799 1323 M2796 1357 L2790 1356 L2789 1349 M2792 1369 L2783 1371 L2781 1369" stroke-width="4.8"/>
<path d="M2753 1387 L2748 1391 L2744 1396 L2742 1402 L2738 1407 L2734 1412 L2731 1418 L2730 1424 L2728 1430 L2729 1436 L2726 1442 L2725 1448 L2720 1451 L2715 1454 L2712 1459 L2705 1461 L2703 1467 L2699 1472 L2694 1476 L2691 1481 L2687 1486 L2682 1489 L2678 1494 L2672 1496 L2668 1501 L2665 1507 L2660 1511 L2658 1516 L2655 1522 L2651 1527 L2648 1532 L2644 1536 L2641 1542 L2638 1547 L2639 1553 L2637 1559 L2636 1566 L2633 1571 L2633 1577 L2633 1583 L2630 1589 L2627 1595 L2626 1601 L2627 1607 L2627 1613 M2753 1387 L2748 1392 L2742 1395 L2739 1400 L2733 1404 L2733 1411 L2731 1417 L2728 1423 L2726 1429 L2727 1436 L2725 1441 L2723 1446 L2718 1448 L2714 1453 L2708 1456 L2707 1462 L2703 1467 L2698 1471 L2693 1475 L2690 1480 L2686 1485 L2681 1487 L2675 1490 L2671 1496 L2666 1499 L2663 1505 L2661 1511 L2657 1516 L2655 1522 L2650 1526 L2645 1530 L2643 1536 L2639 1541 L2634 1546 L2632 1552 L2636 1559 L2630 1564 L2633 1571 L2632 1577 L2631 1583 L2629 1589 L2629 1595 L2626 1601 L2627 1607 L2627 1613" stroke-width="6.0"/>
<path d="M2736 1413 L2733 1408 L2734 1406 M2730 1424 L2720 1422 L2713 1421 M2729 1436 L2725 1442 L2724 1448 M2699 1472 L2697 1465 L2692 1462 M2669 1502 L2667 1498 L2667 1492 M2661 1511 L2661 1507 L2657 1505 M2638 1547 L2635 1548 L2632 1541 M2636 1559 L2629 1557 L2624 1549 M2635 1565 L2633 1564 L2630 1561 M2633 1571 L2629 1570 L2621 1574 M2631 1583 L2627 1579 L2622 1580 M2630 1589 L2627 1588 L2623 1590 M2629 1595 L2625 1598 L2617 1600" stroke-width="4.8"/>
<path d="M2627 1613 L2628 1619 L2628 1625 L2629 1631 L2630 1638 L2632 1643 L2634 1649 L2635 1655 L2638 1660 L2641 1666 L2644 1671 L2647 1677 L2650 1682 L2652 1688 L2656 1693 L2659 1698 L2661 1704 L2664 1709 L2667 1714 L2670 1720 L2674 1725 L2676 1730 L2681 1734 L2685 1739 L2688 1745 L2691 1749 L2695 1754 L2700 1758 L2704 1763 L2706 1769 L2707 1775 M2627 1613 L2626 1619 L2627 1626 L2627 1632 L2629 1638 L2631 1643 L2634 1649 L2635 1655 L2637 1661 L2639 1667 L2643 1672 L2646 1677 L2649 1683 L2651 1688 L2654 1693 L2656 1699 L2660 1704 L2664 1709 L2666 1715 L2670 1720 L2673 1725 L2677 1730 L2680 1735 L2683 1740 L2688 1745 L2690 1751 L2695 1754 L2698 1760 L2702 1764 L2705 1769 L2707 1775" stroke-width="4.5"/>
<path d="M2707 1775 L2704 1780 L2704 1785 L2705 1791 L2707 1797 L2710 1802 L2713 1807 L2716 1813 L2720 1818 L2722 1823 L2725 1829 L2728 1834 L2731 1840 L2735 1845 L2738 1850 L2741 1855 L2744 1860 L2747 1866 L2750 1871 L2753 1876 L2755 1882 L2756 1888 L2757 1894 L2759 1900 L2759 1906 L2760 1912 L2760 1918 L2761 1924 L2762 1930 L2762 1937 L2762 1943 L2761 1949 L2763 1955 L2762 1961 L2762 1967 L2762 1973 M2707 1775 L2703 1779 L2703 1785 L2706 1791 L2707 1797 L2709 1803 L2713 1808 L2716 1813 L2719 1818 L2722 1824 L2725 1829 L2728 1834 L2731 1839 L2734 1845 L2737 1850 L2740 1855 L2743 1861 L2747 1866 L2749 1871 L2753 1877 L2754 1883 L2756 1888 L2757 1894 L2757 1900 L2759 1906 L2760 1912 L2760 1918 L2760 1924 L2761 1931 L2762 1937 L2762 1943 L2762 1949 L2760 1955 L2762 1961 L2762 1967 L2762 1973" stroke-width="4.5"/>
<path d="M2732 1839 L2728 1840 L2724 1839 M2762 1930 L2763 1930 L2756 1931" stroke-width="3.6"/>
<path d="M2762 1973 L2760 1979 L2759 1986 L2754 1989 L2748 1991 L2743 1996 L2738 1998 L2732 1999 L2726 2003 L2720 2003 L2714 2003 L2709 2002 L2705 1998 L2702 1993 L2702 1986 L2700 1980 L2698 1975 L2693 1971 L2688 1967 L2683 1964 L2678 1960 L2672 1959 L2668 1954 L2664 1950 L2658 1947 L2655 1942 L2651 1937 L2649 1931 L2645 1926 L2642 1923 L2636 1925 L2631 1923 L2627 1918 L2623 1914 L2620 1908 L2617 1903 L2614 1897 L2610 1893 L2608 1887 L2604 1883 L2601 1877 L2596 1873 L2591 1870 L2588 1864 L2584 1859 L2581 1854 L2580 1848 L2579 1842 L2577 1836 L2574 1831 L2574 1825 L2571 1820 M2762 1973 L2759 1979 L2755 1983 L2753 1988 L2748 1991 L2742 1994 L2737 1997 L2731 1999 L2725 1997 L2720 2002 L2714 2003 L2710 2000 L2706 1997 L2702 1993 L2701 1987 L2701 1980 L2701 1973 L2695 1969 L2689 1966 L2685 1961 L2679 1958 L2673 1958 L2668 1954 L2664 1949 L2659 1946 L2656 1941 L2654 1935 L2650 1930 L2648 1924 L2642 1922 L2636 1924 L2631 1922 L2627 1918 L2623 1914 L2621 1908 L2617 1903 L2615 1897 L2611 1892 L2608 1887 L2605 1882 L2601 1877 L2598 1872 L2595 1866 L2588 1864 L2585 1859 L2581 1854 L2581 1848 L2579 1842 L2576 1837 L2575 1831 L2574 1825 L2571 1820" stroke-width="5.5"/>
<path d="M2714 2003 L2714 2001 L2712 1996 M2667 1955 L2668 1949 L2673 1949 M2614 1898 L2619 1897 L2624 1901 M2600 1878 L2606 1877 L2607 1874 M2578 1843 L2582 1843 L2585 1846 M2573 1832 L2575 1831 L2573 1827" stroke-width="4.4"/>
<path d="M2571 1820 L2573 1814 L2573 1808 L2574 1802 L2575 1796 L2577 1790 L2576 1784 L2572 1778 L2573 1772 L2572 1766 L2568 1761 L2565 1756 L2562 1751 L2557 1750 L2551 1751 L2546 1749 L2543 1743 L2540 1738 L2536 1733 L2529 1732 L2523 1729 L2521 1723 L2518 1718 L2513 1715 L2508 1711 L2504 1708 L2499 1704 L2495 1699 L2490 1696 L2484 1695 L2479 1694 L2474 1698 L2469 1700 L2465 1705 L2462 1710 L2457 1714 L2451 1716 L2446 1719 L2441 1723 L2436 1726 L2431 1729 L2426 1732 L2420 1730 L2414 1732 L2408 1729 L2403 1728 L2402 1722 L2399 1716 L2394 1712 L2389 1709 L2384 1706 L2380 1701 L2375 1698 L2371 1694 L2367 1689 L2361 1686 L2355 1684 L2350 1682 M2571 1820 L2574 1814 L2575 1808 L2577 1802 L2576 1796 L2578 1790 L2576 1784 L2573 1778 L2574 1772 L2573 1766 L2569 1761 L2565 1756 L2564 1748 L2557 1749 L2551 1750 L2548 1746 L2545 1742 L2540 1737 L2537 1731 L2531 1730 L2527 1725 L2526 1720 L2523 1714 L2517 1710 L2513 1705 L2508 1702 L2504 1698 L2497 1697 L2491 1694 L2485 1692 L2478 1691 L2473 1696 L2468 1699 L2464 1703 L2458 1706 L2456 1712 L2451 1716 L2444 1716 L2441 1722 L2434 1723 L2431 1729 L2425 1731 L2420 1732 L2414 1730 L2408 1729 L2404 1727 L2402 1722 L2399 1716 L2394 1712 L2390 1707 L2385 1705 L2380 1701 L2376 1696 L2371 1693 L2367 1688 L2361 1686 L2356 1684 L2350 1682" stroke-width="5.5"/>
<path d="M2570 1767 L2569 1763 L2568 1761 M2568 1761 L2569 1759 L2571 1756 M2520 1717 L2524 1712 L2527 1713 M2510 1709 L2509 1707 L2511 1707 M2465 1704 L2463 1704 L2459 1697 M2398 1717 L2402 1713 L2409 1712 M2380 1702 L2379 1698 L2379 1695 M2366 1690 L2368 1690 L2372 1689" stroke-width="4.4"/>
<path d="M2340 1684 L2334 1684 L2328 1685 L2322 1686 L2316 1687 L2310 1689 L2304 1691 L2298 1692 L2292 1693 L2286 1694 L2280 1695 L2274 1696 L2269 1699 L2263 1700 L2257 1702 L2251 1703 L2246 1706 L2240 1708 L2237 1703 L2235 1698 L2235 1692 L2237 1686 L2238 1680 L2244 1678 L2246 1684 L2247 1690 L2248 1696 L2246 1701 L2241 1702 L2235 1702 L2229 1701 L2223 1702 L2217 1701 L2211 1701 L2205 1702 L2199 1703 L2193 1707 L2187 1704 L2181 1703 L2175 1704 L2170 1706 L2164 1707 M2340 1684 L2333 1681 L2327 1682 L2321 1685 L2316 1688 L2310 1690 L2304 1690 L2298 1691 L2292 1691 L2286 1693 L2280 1695 L2274 1695 L2268 1697 L2262 1699 L2257 1702 L2251 1702 L2246 1706 L2240 1708 L2237 1703 L2237 1697 L2236 1692 L2238 1686 L2239 1681 L2243 1679 L2245 1684 L2247 1690 L2247 1695 L2246 1700 L2241 1702 L2235 1700 L2229 1701 L2223 1699 L2217 1699 L2211 1700 L2205 1702 L2199 1702 L2193 1705 L2187 1703 L2181 1703 L2175 1704 L2169 1705 L2164 1707" stroke-width="5.0"/>
<path d="M2292 1693 L2294 1687 L2293 1679 M2234 1698 L2238 1700 L2241 1694 M2217 1700 L2217 1695 L2215 1695 M2187 1704 L2184 1700 L2182 1697" stroke-width="4.0"/>
<path d="M2164 1707 L2161 1713 L2156 1716 L2152 1720 L2148 1725 L2144 1729 L2139 1733 L2139 1736 L2143 1739 L2149 1740 L2154 1735 L2158 1731 L2162 1727 L2167 1723 L2172 1721 L2174 1727 L2176 1732 L2175 1738 L2169 1742 L2168 1748 L2164 1753 L2164 1760 L2161 1765 L2165 1769 L2169 1773 L2174 1776 L2179 1778 L2186 1780 L2187 1786 L2187 1790 L2182 1794 L2176 1797 L2171 1799 L2168 1805 L2161 1802 L2161 1796 L2158 1791 L2158 1784 L2151 1784 L2148 1778 L2142 1778 L2136 1777 L2132 1783 L2127 1787 L2122 1790 L2117 1793 L2112 1798 L2106 1800 L2099 1799 L2093 1798 L2087 1799 L2081 1798 L2075 1803 L2070 1798 L2065 1796 L2060 1792 L2054 1791 L2049 1787 L2048 1779 L2042 1776 L2038 1772 L2036 1766 L2031 1762 L2028 1757 L2021 1756 L2016 1753 L2011 1753 L2005 1754 L2000 1757 L1994 1756 M2164 1707 L2157 1709 L2153 1713 L2148 1718 L2146 1723 L2139 1724 L2136 1731 L2136 1738 L2143 1743 L2149 1740 L2155 1737 L2159 1732 L2162 1727 L2168 1726 L2172 1723 L2175 1726 L2175 1732 L2171 1736 L2169 1742 L2167 1748 L2163 1753 L2160 1758 L2160 1765 L2163 1770 L2168 1774 L2173 1778 L2177 1782 L2183 1782 L2185 1787 L2186 1790 L2179 1790 L2175 1793 L2168 1795 L2164 1798 L2170 1799 L2168 1794 L2162 1789 L2162 1781 L2155 1779 L2149 1774 L2142 1776 L2134 1774 L2130 1780 L2125 1784 L2120 1786 L2115 1788 L2109 1790 L2104 1792 L2098 1788 L2093 1796 L2087 1799 L2081 1799 L2076 1796 L2071 1797 L2067 1792 L2062 1789 L2057 1786 L2053 1782 L2049 1778 L2043 1776 L2038 1772 L2036 1766 L2031 1762 L2027 1757 L2022 1754 L2016 1752 L2011 1744 L2005 1752 L1999 1754 L1994 1756" stroke-width="7.0"/>
<path d="M2147 1724 L2142 1721 L2134 1723 M2139 1732 L2133 1728 L2130 1730 M2143 1738 L2140 1747 L2137 1757 M2149 1738 L2146 1746 L2149 1758 M2162 1727 L2168 1730 L2172 1732 M2170 1743 L2162 1739 L2153 1737 M2188 1786 L2178 1785 L2166 1782 M2164 1801 L2165 1797 L2164 1788 M2132 1783 L2128 1778 L2127 1771 M2127 1786 L2126 1784 L2125 1780 M2087 1799 L2082 1795 L2079 1790 M2081 1800 L2073 1794 L2071 1786 M2060 1791 L2057 1791 L2051 1792 M2055 1789 L2058 1786 L2065 1783 M2046 1781 L2053 1778 L2058 1778 M2031 1762 L2034 1758 L2036 1757 M2026 1758 L2030 1755 L2030 1749 M2021 1756 L2019 1749 L2018 1740 M2016 1752 L2021 1745 L2024 1738" stroke-width="5.6"/>
<path d="M1994 1756 L1998 1761 L2001 1766 L2006 1768 L2012 1771 L2008 1772 L2002 1772 L1996 1772 L1990 1771 L1984 1770 L1979 1768 L1973 1768 L1967 1767 L1961 1764 L1955 1763 L1949 1762 L1943 1761 L1938 1758 L1931 1760 L1925 1759 L1919 1759 L1913 1759 L1907 1759 L1901 1760 L1896 1761 L1890 1763 L1884 1766 L1879 1768 L1873 1770 L1868 1773 L1862 1774 L1857 1779 L1851 1780 L1846 1783 L1842 1788 L1838 1793 L1833 1796 L1828 1800 L1824 1804 L1820 1808 L1816 1813 L1811 1817 L1805 1819 L1801 1823 L1795 1826 L1790 1829 L1785 1831 L1779 1834 L1774 1837 L1768 1839 L1763 1843 L1758 1845 L1753 1848 L1747 1850 L1741 1851 L1736 1855 L1732 1859 L1726 1861 L1721 1865 L1717 1869 L1711 1872 L1707 1876 L1703 1881 L1698 1885 L1694 1889 L1692 1895 L1688 1900 M1994 1756 L1995 1763 L1999 1768 L2004 1772 L2009 1774 L2008 1771 L2002 1771 L1997 1770 L1990 1770 L1984 1770 L1979 1768 L1973 1767 L1967 1766 L1962 1763 L1956 1762 L1949 1761 L1944 1759 L1938 1758 L1932 1758 L1926 1756 L1919 1755 L1913 1755 L1907 1759 L1901 1759 L1895 1759 L1889 1761 L1884 1764 L1878 1767 L1872 1767 L1867 1770 L1861 1772 L1855 1774 L1851 1780 L1847 1784 L1842 1788 L1837 1791 L1833 1796 L1828 1800 L1824 1804 L1819 1808 L1815 1812 L1811 1816 L1806 1820 L1801 1823 L1795 1824 L1790 1828 L1784 1830 L1779 1832 L1773 1834 L1768 1839 L1763 1842 L1757 1844 L1752 1848 L1746 1848 L1741 1851 L1736 1855 L1730 1857 L1725 1860 L1720 1864 L1715 1866 L1710 1871 L1706 1875 L1702 1880 L1698 1884 L1694 1889 L1690 1894 L1688 1900" stroke-width="4.5"/>
<path d="M1996 1772 L1995 1768 L1995 1764 M1967 1767 L1971 1766 L1971 1765 M1913 1759 L1915 1753 L1912 1749 M1884 1765 L1881 1762 L1886 1762 M1857 1777 L1855 1772 L1856 1769 M1785 1832 L1781 1832 L1778 1830" stroke-width="3.6"/>
<path d="M1688 1900 L1686 1905 L1684 1911 L1682 1917 L1680 1923 L1679 1928 L1677 1934 L1676 1940 L1674 1946 L1673 1952 L1671 1958 L1671 1964 L1671 1970 L1672 1976 L1672 1982 L1674 1988 L1676 1993 L1677 1999 L1679 2005 L1681 2011 L1682 2016 L1681 2022 L1680 2028 M1688 1900 L1686 1905 L1683 1911 L1681 1916 L1679 1922 L1678 1928 L1676 1934 L1674 1940 L1673 1946 L1672 1952 L1671 1958 L1670 1964 L1670 1970 L1672 1976 L1672 1982 L1674 1988 L1675 1994 L1677 1999 L1678 2005 L1681 2011 L1682 2016 L1681 2022 L1680 2028" stroke-width="4.0"/>
<path d="M1683 2016 L1680 2016 L1679 2014" stroke-width="3.2"/>
<path d="M1680 2028 L1674 2026 L1670 2022 L1665 2018 L1660 2015 L1654 2014 L1648 2014 L1642 2013 L1636 2012 L1630 2012 L1624 2010 L1619 2007 L1613 2005 L1608 2003 L1602 2001 L1597 1997 L1592 1994 L1587 1991 L1581 1989 L1575 1987 L1572 1983 L1571 1977 L1568 1972 L1565 1966 L1563 1961 L1561 1955 L1559 1950 L1555 1945 L1553 1939 L1554 1933 L1551 1928 L1547 1924 L1548 1918 L1549 1912 L1548 1906 L1544 1903 L1539 1899 L1533 1896 L1531 1891 L1528 1885 L1524 1880 L1521 1876 L1518 1870 L1515 1865 L1510 1861 L1506 1857 L1503 1852 L1501 1846 L1499 1840 L1496 1835 L1492 1830 L1491 1824 L1489 1818 L1487 1812 L1484 1807 L1482 1802 L1480 1796 L1477 1791 L1472 1787 L1469 1782 L1465 1777 L1461 1773 L1456 1769 L1452 1765 L1448 1761 L1444 1756 L1441 1751 L1435 1749 L1428 1749 L1423 1751 L1417 1749 L1411 1746 L1405 1747 L1399 1745 L1394 1743 L1388 1741 L1383 1744 L1378 1747 L1372 1748 L1367 1750 L1363 1755 L1359 1759 L1356 1765 L1353 1770 L1354 1776 L1351 1781 L1345 1784 L1341 1788 L1338 1793 L1334 1797 L1329 1797 L1324 1794 L1319 1791 L1313 1788 L1308 1785 L1303 1782 L1299 1777 L1293 1775 L1288 1771 L1283 1769 L1278 1766 L1273 1762 L1269 1758 L1264 1755 L1259 1751 L1254 1747 L1251 1742 L1249 1736 L1247 1730 L1245 1725 L1244 1719 L1246 1713 L1247 1707 L1244 1702 L1242 1696 L1241 1690 L1239 1685 L1237 1679 L1234 1674 L1230 1669 L1226 1665 L1220 1662 L1215 1659 L1210 1656 L1205 1652 L1201 1648 L1197 1644 L1192 1640 L1189 1635 L1186 1629 L1182 1625 L1178 1620 L1173 1617 L1169 1613 L1165 1608 L1162 1603 L1160 1597 L1157 1592 L1153 1588 L1148 1585 M1680 2028 L1675 2026 L1670 2023 L1666 2017 L1660 2016 L1654 2014 L1648 2014 L1642 2012 L1636 2013 L1630 2012 L1626 2007 L1620 2006 L1613 2005 L1608 2001 L1603 1999 L1597 1997 L1592 1993 L1587 1991 L1582 1987 L1576 1986 L1573 1983 L1571 1977 L1569 1971 L1567 1966 L1564 1961 L1561 1955 L1559 1949 L1555 1945 L1553 1939 L1555 1933 L1552 1928 L1547 1924 L1549 1918 L1551 1912 L1549 1906 L1544 1902 L1539 1899 L1535 1895 L1531 1890 L1528 1885 L1526 1879 L1521 1875 L1518 1870 L1514 1865 L1511 1860 L1507 1856 L1504 1851 L1503 1845 L1498 1840 L1496 1835 L1494 1829 L1492 1824 L1489 1818 L1487 1812 L1485 1807 L1483 1801 L1481 1795 L1480 1788 L1475 1785 L1470 1781 L1466 1776 L1461 1773 L1457 1768 L1452 1764 L1447 1761 L1444 1756 L1440 1751 L1435 1747 L1429 1750 L1423 1750 L1417 1749 L1411 1746 L1405 1744 L1399 1745 L1394 1742 L1388 1740 L1382 1742 L1378 1747 L1372 1747 L1366 1750 L1362 1754 L1359 1759 L1355 1764 L1354 1770 L1352 1776 L1351 1781 L1345 1784 L1341 1788 L1338 1793 L1334 1796 L1329 1796 L1324 1794 L1319 1791 L1314 1788 L1309 1783 L1304 1781 L1299 1777 L1295 1772 L1289 1770 L1284 1767 L1278 1765 L1274 1761 L1270 1756 L1264 1754 L1260 1750 L1257 1745 L1253 1741 L1250 1736 L1249 1730 L1246 1724 L1244 1719 L1247 1713 L1250 1707 L1246 1701 L1243 1696 L1241 1690 L1239 1685 L1236 1679 L1234 1673 L1230 1669 L1226 1665 L1221 1661 L1216 1657 L1210 1656 L1205 1652 L1202 1647 L1197 1643 L1193 1639 L1190 1634 L1186 1629 L1184 1623 L1179 1619 L1174 1616 L1169 1612 L1166 1607 L1164 1602 L1161 1597 L1159 1591 L1155 1586 L1148 1585" stroke-width="4.5"/>
<path d="M451 329 L452 335 L452 341 L453 348 L453 354 L451 360 L451 366 L451 372 L449 379 L450 385 L449 391 L445 396 L444 402 L442 409 L440 414 L439 420 L439 426 L439 432 L436 438 M451 329 L451 335 L452 341 L453 348 L452 354 L452 360 L451 366 L450 372 L451 379 L450 385 L449 391 L446 397 L445 403 L442 409 L442 415 L440 420 L440 426 L440 432 L436 438" stroke-width="5.0"/>
<path d="M451 341 L449 336 L451 333 M450 366 L458 361 L461 357 M439 420 L443 420 L446 420" stroke-width="4.0"/>
<path d="M436 438 L435 444 L434 450 L432 456 L431 462 L429 467 L427 473 L425 479 L424 485 L421 490 L419 496 L417 501 L415 507 L412 513 L410 518 L408 524 L406 530 L404 535 L401 541 L399 546 L396 552 L394 557 L391 563 L389 568 L386 574 L384 580 L382 585 L379 590 L375 595 L371 600 L368 605 L364 609 L360 614 L357 620 L354 625 L351 630 L347 635 L347 640 L347 646 M436 438 L436 444 L434 450 L434 456 L431 462 L429 467 L428 473 L426 479 L425 485 L422 490 L420 496 L417 502 L415 507 L413 513 L410 518 L409 524 L406 530 L404 535 L402 541 L400 547 L397 552 L394 557 L392 563 L389 569 L387 574 L385 580 L382 586 L379 591 L375 595 L372 600 L369 606 L364 610 L361 615 L357 620 L354 625 L351 630 L347 635 L347 640 L347 646" stroke-width="4.0"/>
<path d="M434 450 L434 449 L438 449 M412 513 L414 517 L415 519 M407 524 L410 526 L414 525 M405 529 L408 526 L408 528 M378 590 L385 589 L385 591 M347 635 L349 634 L355 636" stroke-width="3.2"/>
</g>
<g clip-path="url(#ak)">
<path d="M927.9 1732.9 L922.9 1743.8 L917.9 1754.8 L912.9 1765.8 L908.1 1776.8 L903.5 1787.9 L899.1 1799.1 L895.1 1810.4 L891.4 1821.9 L888.1 1833.4 L885.3 1845.1 L883.0 1856.9 L881.1 1868.7 L879.5 1880.6 L878.5 1892.6 L877.8 1904.6 L877.8 1916.6 L878.3 1928.6 L879.4 1940.5 L881.1 1952.4 L883.3 1964.1 L886.1 1975.8 L889.3 1987.4 L893.0 1998.8 L897.1 2010.1 L901.7 2021.1 L906.8 2032.0 L912.5 2042.5 L918.7 2052.7 L925.4 2062.7 L932.5 2072.4 L939.9 2081.9 L947.6 2091.1 L955.5 2100.2 L963.6 2109.1 L971.9 2117.8 L980.2 2126.5 L988.7 2135.1 L997.2 2143.6 L1005.7 2152.2 L1014.2 2160.7 L1022.7 2169.2 L1031.2 2177.7 L1150.0 2300.0 L1150.0 2600.0 L-100.0 2600.0 L-100.0 1600.0 L928.0 1600.0 Z" fill="#EAB46A" stroke="#6e6e6e" stroke-width="5"/>
<path d="M677.0 2222.6 L686.8 2215.4 L696.7 2208.5 L706.8 2201.8 L717.2 2195.6 L727.9 2190.0 L738.8 2185.1 L750.1 2181.1 L761.6 2178.1 L773.4 2176.3 L785.3 2175.6 L797.2 2176.1 L809.1 2177.7 L820.9 2180.0 L832.7 2183.0 L844.3 2186.5 L855.8 2190.3 L867.2 2194.5 L878.4 2199.0 L889.3 2204.1 L900.0 2209.7 L910.0 2216.0 L919.5 2223.0 L928.6 2230.6 L954.2 2273.8 L1008.7 2344.4 L1100.0 2600.0 L-100.0 2600.0 L-100.0 2235.0 L600.0 2235.0 Z" fill="#E88F4F" stroke="#6e6e6e" stroke-width="5"/>
<path d="M1331.2 2185.2 L1302.6 2252.8 L1315.2 2257.4 L1322.1 2266.5 L1324.4 2275.7 L1333.5 2284.8 L1345.0 2291.7 L1349.5 2300.9 L1363.3 2314.6 L1379.3 2332.9 L1395.3 2348.9 L1420.5 2353.5 L1425.1 2367.3 L1438.8 2374.1 L1452.6 2383.3 L1464.0 2389.0 L1477.7 2381.0 L1480.0 2371.8 L1493.8 2365.0 L1512.1 2368.4 L1519.0 2355.8 L1519.0 2310.0 L1509.8 2305.4 L1505.2 2300.9 L1498.4 2302.0 L1489.2 2297.4 L1477.7 2296.3 L1466.3 2292.8 L1457.1 2294.0 L1452.6 2289.4 L1445.7 2284.8 L1443.4 2278.0 L1437.7 2278.0 L1436.5 2271.1 L1425.1 2259.7 L1413.6 2250.5 L1404.5 2241.3 L1397.6 2232.2 L1390.8 2226.5 L1381.6 2218.4 L1370.1 2213.9 L1361.0 2209.3 L1351.8 2201.3 L1342.7 2197.8 L1340.4 2188.7 L1333.5 2185.2 Z" fill="#C0CCE6" stroke="#6e6e6e" stroke-width="5"/>
<path d="M1437.7 2278.0 L1427.4 2294.0 L1415.9 2316.9 L1397.6 2348.9 L1420.5 2353.5 L1425.1 2367.3 L1438.8 2374.1 L1452.6 2383.3 L1464.0 2389.0 L1477.7 2381.0 L1480.0 2371.8 L1493.8 2365.0 L1512.1 2368.4 L1519.0 2355.8 L1519.0 2310.0 L1509.8 2305.4 L1505.2 2300.9 L1498.4 2302.0 L1489.2 2297.4 L1477.7 2296.3 L1466.3 2292.8 L1457.1 2294.0 L1452.6 2289.4 L1445.7 2284.8 L1443.4 2278.0 Z" fill="#A3C3E2" stroke="none"/>
</g>
<g clip-path="url(#colak)"><path d="M865.4 1706.3 L855.8 1715.3 L847.8 1724.9 L839.7 1731.3 L826.9 1728.1 L817.3 1729.7 L807.7 1736.1 L798.1 1745.7 L785.3 1748.9 L775.6 1748.9 L766.0 1756.9 L756.4 1768.1 L751.6 1779.4 L750.0 1790.6 L740.4 1800.2 L727.6 1805.0 L711.5 1804.4 L697.1 1803.4 L693.9 1814.6 L689.1 1822.6 L682.7 1824.9 L692.3 1830.6 L701.9 1840.3 L711.5 1853.1 L721.2 1865.9 L727.6 1878.7 L726.0 1889.9 L737.2 1894.7 L748.4 1897.9 L756.4 1901.2 L766.0 1899.6 L764.4 1910.8 L770.8 1923.6 L771.8 1938.0 L756.4 1944.4 L743.6 1938.0 L730.8 1936.4 L721.2 1938.0 L713.1 1933.2 L721.2 1926.8 L721.2 1918.8 L726.0 1915.6 L721.2 1912.4 L705.1 1912.4 L689.1 1917.2 L673.1 1923.6 L657.1 1930.0 L641.0 1936.4 L634.0 1942.8 L641.0 1952.4 L650.6 1962.1 L663.5 1963.7 L657.1 1970.1 L652.2 1973.3 L657.1 1981.3 L658.7 1987.7 L657.1 1995.7 L660.3 2002.1 L673.1 2003.7 L685.9 2008.5 L698.7 2005.3 L711.5 2006.9 L721.2 2013.3 L727.6 2019.7 L730.8 2013.3 L743.6 2003.7 L756.4 2000.5 L764.4 1995.7 L768.6 2003.7 L767.6 2011.7 L756.4 2016.5 L753.2 2026.2 L758.0 2032.6 L762.8 2039.0 L764.4 2051.8 L756.4 2061.4 L743.6 2063.0 L734.0 2059.8 L726.0 2053.4 L722.8 2056.6 L730.8 2064.6 L721.2 2069.4 L711.5 2075.8 L701.9 2071.0 L692.3 2064.6 L682.7 2071.0 L674.7 2080.6 L673.1 2091.9 L663.5 2096.7 L657.1 2106.3 L649.0 2114.3 L642.6 2123.9 L636.2 2135.1 L639.4 2147.9 L644.2 2154.4 L652.2 2159.2 L655.4 2170.4 L650.6 2180.0 L645.8 2186.4 L652.2 2196.0 L660.3 2205.6 L666.7 2215.3 L669.9 2220.1 L677.0 2222.6 L688.2 2219.4 L701.0 2216.2 L710.6 2219.4 L717.1 2230.6 L718.7 2241.8 L717.1 2264.2 L717.1 2277.1 L707.4 2283.5 L717.1 2286.7 L729.9 2283.5 L739.5 2277.1 L747.5 2270.6 L752.3 2277.1 L758.7 2280.3 L765.1 2273.8 L771.5 2280.3 L777.9 2293.1 L784.4 2299.5 L790.8 2289.9 L790.8 2278.7 L797.2 2272.2 L798.8 2280.3 L803.6 2289.9 L816.4 2285.1 L829.2 2278.7 L832.4 2283.5 L826.0 2293.1 L819.6 2305.9 L814.8 2321.9 L813.2 2337.9 L803.6 2347.6 L794.0 2357.2 L784.4 2370.0 L781.2 2376.4 L768.3 2376.4 L755.5 2384.4 L745.9 2392.4 L739.5 2402.1 L733.1 2411.7 L726.7 2408.5 L717.1 2406.9 L704.2 2410.1 L694.6 2416.5 L685.0 2424.5 L675.4 2430.9 L665.8 2435.7 L656.2 2442.1 L643.3 2443.7 L630.5 2446.9 L620.9 2451.7 L612.9 2459.7 L611.3 2467.8 L620.9 2466.2 L633.7 2461.3 L646.5 2459.7 L656.2 2456.5 L665.8 2450.1 L675.4 2445.3 L685.0 2440.5 L694.6 2437.3 L704.2 2432.5 L717.1 2427.7 L729.9 2422.9 L742.7 2419.7 L752.3 2414.9 L761.9 2410.1 L771.5 2405.3 L781.2 2400.4 L790.8 2395.6 L800.4 2389.2 L810.0 2384.4 L819.6 2378.0 L829.2 2371.6 L838.8 2362.0 L848.5 2354.0 L858.1 2346.0 L867.7 2337.9 L877.3 2331.5 L886.9 2323.5 L893.3 2315.5 L899.7 2305.9 L906.2 2297.9 L912.6 2291.5 L919.0 2285.1 L917.4 2277.1 L907.8 2273.8 L898.1 2272.2 L901.3 2262.6 L907.8 2254.6 L915.8 2246.6 L922.2 2240.2 L928.6 2230.6 L933.4 2222.6 L939.8 2212.9 L946.2 2203.3 L952.6 2193.7 L960.6 2185.7 L970.3 2177.7 L978.3 2171.3 L986.3 2172.9 L992.7 2164.9 L1003.9 2158.5 L995.9 2168.1 L992.7 2177.7 L1002.3 2182.5 L1013.5 2187.3 L1005.5 2188.9 L992.7 2184.1 L979.9 2188.9 L967.1 2195.3 L959.0 2206.5 L955.8 2219.4 L952.6 2232.2 L951.0 2245.0 L957.4 2254.6 L965.4 2248.2 L971.9 2241.8 L968.7 2251.4 L957.4 2261.0 L949.4 2264.2 L957.4 2270.6 L970.3 2265.8 L979.9 2259.4 L989.5 2251.4 L995.9 2241.8 L1005.5 2232.2 L1011.9 2222.6 L1021.5 2225.8 L1029.6 2229.0 L1040.8 2222.6 L1047.2 2229.0 L1055.2 2216.2 L1060.0 2206.5 L1050.4 2200.1 L1040.8 2195.3 L1036.0 2187.3 L1040.8 2174.5 L1053.6 2179.3 L1063.2 2176.1 L1072.8 2171.3 L1079.2 2184.1 L1088.8 2193.7 L1101.7 2200.1 L1109.2 2204.7 L1113.7 2208.1 L1125.2 2207.0 L1129.8 2211.6 L1122.9 2218.4 L1119.5 2225.3 L1127.5 2216.2 L1134.3 2213.9 L1145.8 2209.3 L1159.5 2205.9 L1175.5 2207.0 L1187.0 2208.1 L1191.6 2202.4 L1188.1 2199.0 L1193.9 2202.4 L1191.6 2209.3 L1200.7 2212.7 L1214.5 2212.7 L1223.6 2208.1 L1230.5 2202.4 L1231.6 2193.3 L1235.1 2200.1 L1241.9 2209.3 L1237.4 2204.7 L1239.7 2200.1 L1246.5 2201.3 L1237.4 2207.0 L1230.5 2218.4 L1241.9 2221.9 L1255.7 2226.5 L1267.1 2229.9 L1278.6 2234.5 L1283.2 2241.3 L1292.3 2248.2 L1302.6 2252.8 L1315.2 2257.4 L1322.1 2266.5 L1324.4 2275.7 L1333.5 2284.8 L1345.0 2291.7 L1349.5 2300.9 L1363.3 2314.6 L1379.3 2332.9 L1395.3 2348.9 L1420.5 2353.5 L1425.1 2367.3 L1438.8 2374.1 L1452.6 2383.3 L1464.0 2389.0 L1477.7 2381.0 L1480.0 2371.8 L1493.8 2365.0 L1512.1 2368.4 L1519.0 2355.8 L1519.0 2310.0 L1509.8 2305.4 L1505.2 2300.9 L1498.4 2302.0 L1489.2 2297.4 L1477.7 2296.3 L1466.3 2292.8 L1457.1 2294.0 L1452.6 2289.4 L1445.7 2284.8 L1443.4 2278.0 L1437.7 2278.0 L1436.5 2271.1 L1425.1 2259.7 L1413.6 2250.5 L1404.5 2241.3 L1397.6 2232.2 L1390.8 2226.5 L1381.6 2218.4 L1370.1 2213.9 L1361.0 2209.3 L1351.8 2201.3 L1342.7 2197.8 L1340.4 2188.7 L1333.5 2185.2 L1326.6 2181.4 L1319.8 2186.4 L1308.3 2195.5 L1311.8 2202.4 L1307.2 2207.0 L1308.3 2216.2 L1303.8 2218.4 L1299.2 2227.6 L1292.3 2234.5 L1290.0 2229.9 L1283.2 2218.4 L1274.0 2211.6 L1260.3 2204.7 L1253.4 2199.0 L1246.5 2200.1 L1232.8 2193.3 L1240.8 2186.4 L1239.7 2176.8 L1225.9 2180.7 L1221.3 2187.5 L1209.9 2186.4 L1207.6 2189.8 L1196.2 2188.7 L1112.2 1765.9 L1092.9 1758.5 L1076.9 1750.5 L1060.9 1753.7 L1044.9 1760.1 L1028.8 1755.3 L1012.8 1756.9 L990.4 1752.1 L971.2 1744.1 L955.1 1747.3 L939.1 1748.9 L926.3 1742.5 L929.5 1732.9 L923.1 1729.7 L910.3 1729.7 L900.6 1736.1 L891.0 1732.9 L884.6 1728.1 L868.6 1734.5 L875.0 1720.1 L873.4 1710.4 L865.4 1706.3 Z M544.9 2008.5 L548.1 2014.9 L557.7 2019.7 L568.9 2019.7 L575.3 2027.8 L583.3 2037.4 L592.9 2042.2 L599.4 2045.4 L596.2 2053.4 L583.3 2051.8 L575.3 2055.0 L570.5 2045.4 L564.1 2035.8 L554.5 2029.4 L544.9 2027.8 L537.8 2022.9 L540.1 2014.9 Z M596.2 2191.2 L609.0 2189.6 L621.8 2186.4 L634.6 2189.6 L636.2 2200.8 L631.4 2212.1 L621.8 2215.3 L609.0 2208.8 L599.4 2199.2 Z M938.2 2294.7 L949.4 2302.7 L955.8 2312.3 L947.8 2325.1 L946.2 2341.2 L938.2 2354.0 L928.6 2363.6 L915.8 2373.2 L906.2 2382.8 L893.3 2390.8 L880.5 2395.6 L886.9 2386.0 L893.3 2373.2 L886.9 2363.6 L882.1 2354.0 L890.1 2344.4 L901.3 2337.9 L909.4 2328.3 L919.0 2318.7 L928.6 2305.9 Z M736.3 2459.7 L745.9 2446.9 L755.5 2443.7 L763.5 2456.5 L755.5 2466.2 L742.7 2467.8 Z M544.9 2479.0 L554.5 2475.8 L564.1 2477.4 L576.9 2472.6 L589.7 2469.4 L599.4 2474.2 L609.0 2475.8 L602.6 2482.2 L589.7 2480.6 L576.9 2485.4 L567.3 2491.8 L554.5 2496.6 L541.7 2499.8 L528.8 2504.6 L519.2 2503.0 L525.6 2495.0 L538.5 2491.8 L548.1 2485.4 Z M506.4 2495.0 L516.0 2488.6 L524.0 2491.8 L520.8 2499.8 L509.6 2503.0 L500.0 2509.4 L490.4 2514.2 L477.6 2517.4 L484.0 2509.4 L495.2 2503.0 Z M450.3 2509.4 L461.5 2503.0 L469.6 2501.4 L466.3 2511.0 L455.1 2514.2 Z M429.5 2512.6 L439.1 2509.4 L442.3 2514.2 L432.7 2517.4 Z M416.7 2514.2 L423.1 2511.7 L423.1 2517.4 L417.6 2519.0 Z M662.6 2472.6 L675.4 2475.8 L672.2 2480.6 L664.2 2477.4 Z M856.5 2419.7 L861.3 2419.7 L861.3 2426.1 L856.5 2426.1 Z M830.8 2406.9 L834.0 2406.9 L834.0 2414.9 L830.8 2414.9 Z M941.4 2278.7 L949.4 2278.7 L949.4 2283.5 L941.4 2283.5 Z M474.4 2137.6 L479.2 2136.0 L480.8 2145.6 L487.2 2153.7 L492.0 2160.1 L485.6 2161.7 L477.6 2153.7 L473.7 2145.6 Z M493.6 2312.3 L504.8 2309.7 L503.2 2315.5 L495.2 2318.1 Z M503.2 2340.5 L512.8 2342.8 L512.2 2346.9 L505.8 2345.3 Z M661.9 2471.0 L671.5 2472.6 L677.9 2479.0 L668.3 2479.0 Z" fill="none" stroke="#585858" stroke-width="3.8" stroke-linejoin="round"/></g>
<g fill="none" stroke="#4d4d4d" stroke-width="1.9" stroke-linejoin="round">
<path d="M865.4 1706.3 L855.8 1715.3 L847.8 1724.9 L839.7 1731.3 L826.9 1728.1 L817.3 1729.7 L807.7 1736.1 L798.1 1745.7 L785.3 1748.9 L775.6 1748.9 L766.0 1756.9 L756.4 1768.1 L751.6 1779.4 L750.0 1790.6 L740.4 1800.2 L727.6 1805.0 L711.5 1804.4 L697.1 1803.4 L693.9 1814.6 L689.1 1822.6 L682.7 1824.9 L692.3 1830.6 L701.9 1840.3 L711.5 1853.1 L721.2 1865.9 L727.6 1878.7 L726.0 1889.9 L737.2 1894.7 L748.4 1897.9 L756.4 1901.2 L766.0 1899.6 L764.4 1910.8 L770.8 1923.6 L771.8 1938.0 L756.4 1944.4 L743.6 1938.0 L730.8 1936.4 L721.2 1938.0 L713.1 1933.2 L721.2 1926.8 L721.2 1918.8 L726.0 1915.6 L721.2 1912.4 L705.1 1912.4 L689.1 1917.2 L673.1 1923.6 L657.1 1930.0 L641.0 1936.4 L634.0 1942.8 L641.0 1952.4 L650.6 1962.1 L663.5 1963.7 L657.1 1970.1 L652.2 1973.3 L657.1 1981.3 L658.7 1987.7 L657.1 1995.7 L660.3 2002.1 L673.1 2003.7 L685.9 2008.5 L698.7 2005.3 L711.5 2006.9 L721.2 2013.3 L727.6 2019.7 L730.8 2013.3 L743.6 2003.7 L756.4 2000.5 L764.4 1995.7 L768.6 2003.7 L767.6 2011.7 L756.4 2016.5 L753.2 2026.2 L758.0 2032.6 L762.8 2039.0 L764.4 2051.8 L756.4 2061.4 L743.6 2063.0 L734.0 2059.8 L726.0 2053.4 L722.8 2056.6 L730.8 2064.6 L721.2 2069.4 L711.5 2075.8 L701.9 2071.0 L692.3 2064.6 L682.7 2071.0 L674.7 2080.6 L673.1 2091.9 L663.5 2096.7 L657.1 2106.3 L649.0 2114.3 L642.6 2123.9 L636.2 2135.1 L639.4 2147.9 L644.2 2154.4 L652.2 2159.2 L655.4 2170.4 L650.6 2180.0 L645.8 2186.4 L652.2 2196.0 L660.3 2205.6 L666.7 2215.3 L669.9 2220.1 L677.0 2222.6 L688.2 2219.4 L701.0 2216.2 L710.6 2219.4 L717.1 2230.6 L718.7 2241.8 L717.1 2264.2 L717.1 2277.1 L707.4 2283.5 L717.1 2286.7 L729.9 2283.5 L739.5 2277.1 L747.5 2270.6 L752.3 2277.1 L758.7 2280.3 L765.1 2273.8 L771.5 2280.3 L777.9 2293.1 L784.4 2299.5 L790.8 2289.9 L790.8 2278.7 L797.2 2272.2 L798.8 2280.3 L803.6 2289.9 L816.4 2285.1 L829.2 2278.7 L832.4 2283.5 L826.0 2293.1 L819.6 2305.9 L814.8 2321.9 L813.2 2337.9 L803.6 2347.6 L794.0 2357.2 L784.4 2370.0 L781.2 2376.4 L768.3 2376.4 L755.5 2384.4 L745.9 2392.4 L739.5 2402.1 L733.1 2411.7 L726.7 2408.5 L717.1 2406.9 L704.2 2410.1 L694.6 2416.5 L685.0 2424.5 L675.4 2430.9 L665.8 2435.7 L656.2 2442.1 L643.3 2443.7 L630.5 2446.9 L620.9 2451.7 L612.9 2459.7 L611.3 2467.8 L620.9 2466.2 L633.7 2461.3 L646.5 2459.7 L656.2 2456.5 L665.8 2450.1 L675.4 2445.3 L685.0 2440.5 L694.6 2437.3 L704.2 2432.5 L717.1 2427.7 L729.9 2422.9 L742.7 2419.7 L752.3 2414.9 L761.9 2410.1 L771.5 2405.3 L781.2 2400.4 L790.8 2395.6 L800.4 2389.2 L810.0 2384.4 L819.6 2378.0 L829.2 2371.6 L838.8 2362.0 L848.5 2354.0 L858.1 2346.0 L867.7 2337.9 L877.3 2331.5 L886.9 2323.5 L893.3 2315.5 L899.7 2305.9 L906.2 2297.9 L912.6 2291.5 L919.0 2285.1 L917.4 2277.1 L907.8 2273.8 L898.1 2272.2 L901.3 2262.6 L907.8 2254.6 L915.8 2246.6 L922.2 2240.2 L928.6 2230.6 L933.4 2222.6 L939.8 2212.9 L946.2 2203.3 L952.6 2193.7 L960.6 2185.7 L970.3 2177.7 L978.3 2171.3 L986.3 2172.9 L992.7 2164.9 L1003.9 2158.5 L995.9 2168.1 L992.7 2177.7 L1002.3 2182.5 L1013.5 2187.3 L1005.5 2188.9 L992.7 2184.1 L979.9 2188.9 L967.1 2195.3 L959.0 2206.5 L955.8 2219.4 L952.6 2232.2 L951.0 2245.0 L957.4 2254.6 L965.4 2248.2 L971.9 2241.8 L968.7 2251.4 L957.4 2261.0 L949.4 2264.2 L957.4 2270.6 L970.3 2265.8 L979.9 2259.4 L989.5 2251.4 L995.9 2241.8 L1005.5 2232.2 L1011.9 2222.6 L1021.5 2225.8 L1029.6 2229.0 L1040.8 2222.6 L1047.2 2229.0 L1055.2 2216.2 L1060.0 2206.5 L1050.4 2200.1 L1040.8 2195.3 L1036.0 2187.3 L1040.8 2174.5 L1053.6 2179.3 L1063.2 2176.1 L1072.8 2171.3 L1079.2 2184.1 L1088.8 2193.7 L1101.7 2200.1 L1109.2 2204.7 L1113.7 2208.1 L1125.2 2207.0 L1129.8 2211.6 L1122.9 2218.4 L1119.5 2225.3 L1127.5 2216.2 L1134.3 2213.9 L1145.8 2209.3 L1159.5 2205.9 L1175.5 2207.0 L1187.0 2208.1 L1191.6 2202.4 L1188.1 2199.0 L1193.9 2202.4 L1191.6 2209.3 L1200.7 2212.7 L1214.5 2212.7 L1223.6 2208.1 L1230.5 2202.4 L1231.6 2193.3 L1235.1 2200.1 L1241.9 2209.3 L1237.4 2204.7 L1239.7 2200.1 L1246.5 2201.3 L1237.4 2207.0 L1230.5 2218.4 L1241.9 2221.9 L1255.7 2226.5 L1267.1 2229.9 L1278.6 2234.5 L1283.2 2241.3 L1292.3 2248.2 L1302.6 2252.8 L1315.2 2257.4 L1322.1 2266.5 L1324.4 2275.7 L1333.5 2284.8 L1345.0 2291.7 L1349.5 2300.9 L1363.3 2314.6 L1379.3 2332.9 L1395.3 2348.9 L1420.5 2353.5 L1425.1 2367.3 L1438.8 2374.1 L1452.6 2383.3 L1464.0 2389.0 L1477.7 2381.0 L1480.0 2371.8 L1493.8 2365.0 L1512.1 2368.4 L1519.0 2355.8 L1519.0 2310.0 L1509.8 2305.4 L1505.2 2300.9 L1498.4 2302.0 L1489.2 2297.4 L1477.7 2296.3 L1466.3 2292.8 L1457.1 2294.0 L1452.6 2289.4 L1445.7 2284.8 L1443.4 2278.0 L1437.7 2278.0 L1436.5 2271.1 L1425.1 2259.7 L1413.6 2250.5 L1404.5 2241.3 L1397.6 2232.2 L1390.8 2226.5 L1381.6 2218.4 L1370.1 2213.9 L1361.0 2209.3 L1351.8 2201.3 L1342.7 2197.8 L1340.4 2188.7 L1333.5 2185.2 L1326.6 2181.4 L1319.8 2186.4 L1308.3 2195.5 L1311.8 2202.4 L1307.2 2207.0 L1308.3 2216.2 L1303.8 2218.4 L1299.2 2227.6 L1292.3 2234.5 L1290.0 2229.9 L1283.2 2218.4 L1274.0 2211.6 L1260.3 2204.7 L1253.4 2199.0 L1246.5 2200.1 L1232.8 2193.3 L1240.8 2186.4 L1239.7 2176.8 L1225.9 2180.7 L1221.3 2187.5 L1209.9 2186.4 L1207.6 2189.8 L1196.2 2188.7 L1112.2 1765.9 L1092.9 1758.5 L1076.9 1750.5 L1060.9 1753.7 L1044.9 1760.1 L1028.8 1755.3 L1012.8 1756.9 L990.4 1752.1 L971.2 1744.1 L955.1 1747.3 L939.1 1748.9 L926.3 1742.5 L929.5 1732.9 L923.1 1729.7 L910.3 1729.7 L900.6 1736.1 L891.0 1732.9 L884.6 1728.1 L868.6 1734.5 L875.0 1720.1 L873.4 1710.4 L865.4 1706.3 Z M544.9 2008.5 L548.1 2014.9 L557.7 2019.7 L568.9 2019.7 L575.3 2027.8 L583.3 2037.4 L592.9 2042.2 L599.4 2045.4 L596.2 2053.4 L583.3 2051.8 L575.3 2055.0 L570.5 2045.4 L564.1 2035.8 L554.5 2029.4 L544.9 2027.8 L537.8 2022.9 L540.1 2014.9 Z M596.2 2191.2 L609.0 2189.6 L621.8 2186.4 L634.6 2189.6 L636.2 2200.8 L631.4 2212.1 L621.8 2215.3 L609.0 2208.8 L599.4 2199.2 Z M938.2 2294.7 L949.4 2302.7 L955.8 2312.3 L947.8 2325.1 L946.2 2341.2 L938.2 2354.0 L928.6 2363.6 L915.8 2373.2 L906.2 2382.8 L893.3 2390.8 L880.5 2395.6 L886.9 2386.0 L893.3 2373.2 L886.9 2363.6 L882.1 2354.0 L890.1 2344.4 L901.3 2337.9 L909.4 2328.3 L919.0 2318.7 L928.6 2305.9 Z M736.3 2459.7 L745.9 2446.9 L755.5 2443.7 L763.5 2456.5 L755.5 2466.2 L742.7 2467.8 Z M544.9 2479.0 L554.5 2475.8 L564.1 2477.4 L576.9 2472.6 L589.7 2469.4 L599.4 2474.2 L609.0 2475.8 L602.6 2482.2 L589.7 2480.6 L576.9 2485.4 L567.3 2491.8 L554.5 2496.6 L541.7 2499.8 L528.8 2504.6 L519.2 2503.0 L525.6 2495.0 L538.5 2491.8 L548.1 2485.4 Z M506.4 2495.0 L516.0 2488.6 L524.0 2491.8 L520.8 2499.8 L509.6 2503.0 L500.0 2509.4 L490.4 2514.2 L477.6 2517.4 L484.0 2509.4 L495.2 2503.0 Z M450.3 2509.4 L461.5 2503.0 L469.6 2501.4 L466.3 2511.0 L455.1 2514.2 Z M429.5 2512.6 L439.1 2509.4 L442.3 2514.2 L432.7 2517.4 Z M416.7 2514.2 L423.1 2511.7 L423.1 2517.4 L417.6 2519.0 Z M662.6 2472.6 L675.4 2475.8 L672.2 2480.6 L664.2 2477.4 Z M856.5 2419.7 L861.3 2419.7 L861.3 2426.1 L856.5 2426.1 Z M830.8 2406.9 L834.0 2406.9 L834.0 2414.9 L830.8 2414.9 Z M941.4 2278.7 L949.4 2278.7 L949.4 2283.5 L941.4 2283.5 Z M474.4 2137.6 L479.2 2136.0 L480.8 2145.6 L487.2 2153.7 L492.0 2160.1 L485.6 2161.7 L477.6 2153.7 L473.7 2145.6 Z M493.6 2312.3 L504.8 2309.7 L503.2 2315.5 L495.2 2318.1 Z M503.2 2340.5 L512.8 2342.8 L512.2 2346.9 L505.8 2345.3 Z M661.9 2471.0 L671.5 2472.6 L677.9 2479.0 L668.3 2479.0 Z"/>
<path d="M379.8 2512.6 L386.2 2511.0 L389.4 2514.9 L383.0 2516.8 L379.8 2512.6"/>
<path d="M221.2 2482.2 L230.8 2483.8 L224.4 2493.4 L237.2 2495.0 L250.0 2491.8 L256.4 2504.6 L266.0 2493.4 L275.6 2503.0 L282.1 2493.4 L288.5 2501.4 L301.3 2503.0 L314.1 2506.2 L326.9 2507.8 L336.5 2498.2 L342.9 2501.4 L336.5 2507.8 L352.6 2514.2 L368.6 2520.6"/>
<path d="M134.6 2456.5 L142.6 2467.8 L150.6 2477.4 L145.8 2477.4 L137.8 2464.6 L134.6 2456.5"/>
<path d="M161.9 2453.3 L168.3 2453.3 L169.9 2458.1 L163.5 2459.1 L161.9 2453.3"/>
<path d="M101.0 2430.9 L110.6 2427.7 L117.0 2424.5 L117.0 2432.5 L105.8 2434.1 L101.0 2430.9"/>
<path d="M3.2 2326.7 L11.2 2325.8 L19.2 2333.1 L25.0 2342.8 L14.4 2341.2 L8.0 2334.7 L3.2 2326.7"/>
<path d="M14.4 2360.4 L22.4 2358.8 L27.2 2363.6 L20.8 2366.8 L14.4 2360.4"/>
<path d="M128.2 2435.7 L133.0 2437.3 L137.8 2443.1"/>
<path d="M187.5 2498.2 L192.3 2496.6 L205.1 2488.6 L205.1 2479.0"/>
</g>
<g fill="none" stroke="#4d4d4d" stroke-linejoin="round" stroke-linecap="round">
<path d="M717 2277 L712 2281 L707 2284 L714 2284 L719 2285 L725 2285 L730 2281 L737 2281 L740 2276 L745 2272 L750 2273 L754 2277 L759 2280 L763 2277 L767 2276 L770 2281 L774 2286 L777 2291 L781 2295 L785 2300 L789 2295 L791 2289 L790 2283 L792 2277 L796 2274 L798 2277 L799 2283 L804 2287 L807 2287 L813 2287 L818 2284 L823 2281 L829 2280 L832 2284 M717 2277 L711 2279 L707 2284 L713 2287 L719 2287 L725 2285 L732 2286 L737 2281 L742 2278 L746 2273 L749 2274 L753 2278 L759 2281 L763 2277 L767 2277 L770 2281 L770 2287 L777 2291 L777 2299 L785 2302 L790 2295 L792 2289 L792 2283 L794 2278 L796 2275 L796 2277 L795 2284 L802 2288 L807 2290 L813 2287 L819 2285 L824 2282 L829 2280 L832 2284" stroke-width="5.5"/>
<path d="M713 2286 L717 2289 L720 2300 M791 2289 L791 2287 L793 2286 M791 2283 L797 2284 L802 2291 M803 2288 L804 2293 L798 2298 M807 2289 L803 2293 L800 2294" stroke-width="4.4"/>
<path d="M733 2412 L727 2410 L722 2407 L716 2407 L710 2407 L704 2410 L698 2412 L695 2418 L690 2420 L686 2425 L680 2428 L674 2429 L669 2433 L663 2435 L658 2437 L653 2439 L648 2442 L642 2444 L636 2446 L630 2447 L625 2450 L620 2453 L615 2456 L613 2462 L611 2468 M733 2412 L728 2408 L722 2408 L716 2404 L710 2407 L704 2410 L699 2413 L694 2416 L690 2421 L683 2422 L680 2427 L674 2430 L668 2430 L663 2434 L657 2437 L652 2436 L647 2438 L642 2442 L636 2444 L630 2445 L624 2448 L619 2452 L614 2456 L612 2462 L611 2468" stroke-width="6.0"/>
<path d="M690 2421 L686 2417 L686 2408 M664 2437 L665 2430 L667 2427 M654 2442 L651 2435 L648 2430 M636 2445 L631 2443 L624 2442 M616 2457 L613 2451 L606 2446" stroke-width="4.8"/>
<path d="M611 2468 L617 2468 L623 2465 L629 2463 L634 2459 L640 2458 L647 2459 L651 2455 L657 2453 L663 2451 L668 2448 L673 2445 L679 2442 L685 2441 L690 2438 L696 2435 L702 2435 L708 2433 L713 2431 L718 2425 L724 2424 L730 2423 L736 2420 L742 2420 L748 2419 L752 2414 L759 2414 L764 2411 L770 2407 L775 2405 L780 2402 L786 2400 L791 2396 L797 2393 L801 2389 L806 2386 L812 2384 L818 2381 L823 2378 L826 2371 L832 2369 L836 2365 L841 2361 L846 2358 L850 2353 L853 2347 L860 2345 L864 2342 L869 2337 L874 2334 L878 2329 L882 2325 L889 2323 L892 2318 L894 2312 L899 2308 L903 2303 L905 2297 L910 2293 L914 2288 L919 2285 M611 2468 L618 2470 L624 2467 L629 2465 L635 2464 L642 2467 L647 2462 L654 2461 L659 2457 L664 2453 L670 2451 L678 2455 L680 2444 L685 2441 L691 2441 L696 2437 L703 2437 L709 2435 L715 2435 L720 2431 L724 2425 L731 2425 L736 2423 L742 2421 L750 2422 L754 2417 L759 2414 L767 2416 L772 2411 L776 2406 L782 2406 L786 2399 L792 2397 L797 2393 L801 2389 L807 2386 L812 2383 L817 2380 L823 2378 L830 2377 L833 2370 L837 2366 L842 2363 L846 2357 L851 2354 L855 2349 L860 2346 L865 2343 L870 2340 L874 2334 L879 2331 L886 2329 L889 2324 L893 2319 L895 2313 L901 2310 L903 2303 L908 2300 L910 2294 L918 2293 L919 2285" stroke-width="6.5"/>
<path d="M635 2461 L635 2464 L640 2470 M641 2460 L643 2466 L643 2473 M652 2458 L655 2458 L659 2469 M658 2455 L664 2463 L664 2471 M663 2452 L667 2456 L669 2461 M674 2446 L672 2453 L670 2455 M679 2443 L680 2447 L685 2449 M685 2441 L691 2444 L692 2445 M690 2439 L685 2447 L683 2453 M696 2437 L699 2438 L702 2441 M730 2423 L727 2427 L732 2432 M753 2415 L753 2416 L755 2418 M758 2412 L760 2417 L764 2417 M764 2409 L770 2416 L774 2422 M769 2406 L776 2414 L776 2424 M864 2341 L862 2344 L862 2349 M869 2337 L874 2343 L877 2352 M879 2330 L880 2336 L880 2342 M883 2326 L890 2325 L898 2324 M888 2322 L889 2326 L893 2328 M895 2313 L898 2313 L900 2318 M899 2308 L908 2313 L914 2314 M910 2294 L915 2294 L919 2299" stroke-width="5.2"/>
<path d="M919 2285 L919 2278 L914 2275 L908 2273 L902 2273 L899 2270 L901 2264 L905 2260 L908 2254 L912 2249 L917 2245 L921 2241 L924 2236 L928 2231 L931 2226 L935 2221 L938 2216 L942 2211 L944 2205 L948 2200 L952 2195 L955 2191 L959 2186 L964 2181 L969 2179 L974 2175 L979 2171 L985 2173 L989 2169 L993 2164 L998 2161 L1004 2158 M919 2285 L918 2279 L914 2276 L909 2271 L903 2271 L900 2270 L901 2264 L904 2259 L909 2255 L914 2251 L917 2246 L922 2242 L926 2237 L930 2233 L932 2227 L936 2222 L938 2216 L944 2212 L946 2206 L948 2200 L952 2195 L957 2192 L960 2186 L967 2185 L969 2179 L975 2176 L979 2172 L985 2173 L991 2171 L995 2167 L1000 2164 L1004 2158" stroke-width="5.5"/>
<path d="M902 2273 L907 2271 L912 2272 M904 2259 L907 2262 L911 2265 M908 2254 L910 2256 L914 2260 M917 2246 L919 2251 L914 2249 M928 2231 L931 2231 L935 2228 M945 2206 L939 2212 L941 2215 M948 2200 L949 2206 L952 2214 M956 2191 L956 2195 L960 2200 M960 2186 L965 2184 L972 2183 M979 2171 L976 2180 L974 2179" stroke-width="4.4"/>
<path d="M1004 2158 L999 2163 L996 2167 L993 2173 L994 2178 L999 2182 L1006 2182 L1010 2186 L1011 2188 L1005 2189 L999 2188 L994 2185 L988 2187 L983 2188 L976 2189 L972 2193 L967 2196 L965 2202 L961 2207 L958 2212 L958 2218 L955 2223 L953 2229 L954 2235 L950 2241 L951 2247 L956 2251 L960 2255 L966 2251 L970 2247 L970 2244 L969 2249 L966 2253 L962 2257 L956 2260 L951 2263 L953 2266 L957 2270 L962 2268 L968 2266 L975 2266 L978 2260 L982 2254 L986 2251 L992 2248 L994 2243 L999 2238 L1002 2233 L1006 2229 L1009 2223 L1015 2225 L1021 2226 L1027 2227 L1032 2228 L1038 2226 L1042 2223 L1047 2226 L1049 2224 L1053 2220 L1057 2215 L1060 2209 L1058 2204 L1053 2200 L1048 2197 L1042 2195 L1038 2191 L1038 2186 L1038 2180 L1041 2174 M1004 2158 L997 2161 L994 2167 L994 2173 L993 2179 L999 2183 L1003 2188 L1009 2187 L1009 2185 L1005 2187 L1000 2184 L994 2179 L987 2183 L981 2184 L977 2190 L971 2191 L965 2194 L960 2199 L959 2206 L955 2211 L952 2216 L950 2222 L952 2229 L951 2235 L948 2241 L948 2248 L952 2256 L961 2259 L967 2252 L970 2247 L967 2244 L968 2248 L964 2252 L961 2256 L957 2261 L948 2261 L950 2269 L957 2272 L964 2273 L969 2268 L974 2265 L981 2264 L986 2260 L990 2254 L995 2250 L996 2244 L1001 2240 L1004 2235 L1007 2230 L1012 2227 L1015 2227 L1021 2226 L1026 2229 L1032 2228 L1038 2227 L1042 2225 L1046 2229 L1052 2227 L1054 2220 L1056 2215 L1059 2209 L1057 2205 L1053 2201 L1049 2195 L1044 2194 L1040 2190 L1040 2186 L1041 2181 L1041 2174" stroke-width="6.5"/>
<path d="M996 2168 L992 2166 L988 2162 M994 2178 L989 2180 L990 2180 M999 2181 L993 2181 L991 2180 M1010 2186 L1008 2187 L1006 2187 M1005 2189 L1004 2186 L1000 2183 M988 2186 L991 2180 L996 2175 M982 2188 L977 2183 L978 2177 M966 2196 L963 2195 L962 2191 M963 2201 L960 2199 L958 2197 M959 2206 L948 2205 L943 2206 M955 2223 L947 2224 L938 2221 M951 2241 L950 2245 L951 2248 M970 2249 L968 2247 L965 2248 M962 2257 L959 2253 L953 2248 M951 2263 L950 2258 L946 2248 M952 2267 L946 2271 L940 2276 M957 2270 L959 2278 L961 2285 M988 2253 L990 2252 L992 2257 M992 2248 L1003 2246 L1008 2243 M999 2239 L1008 2240 L1009 2241 M1003 2234 L1002 2237 L999 2238 M1011 2225 L1013 2232 L1017 2239 M1032 2228 L1037 2232 L1044 2240 M1037 2225 L1042 2228 L1047 2232 M1042 2224 L1041 2231 L1039 2234 M1046 2228 L1047 2233 L1047 2234 M1050 2225 L1051 2233 L1056 2241 M1059 2209 L1066 2204 L1073 2198 M1052 2201 L1057 2196 L1061 2190 M1047 2198 L1047 2191 L1043 2184 M1038 2191 L1047 2191 L1052 2193" stroke-width="5.2"/>
<path d="M1041 2174 L1047 2177 L1053 2176 L1059 2178 L1066 2178 L1071 2177 L1071 2178 L1075 2182 L1078 2188 L1084 2192 L1088 2198 L1097 2196 L1102 2200 M1041 2174 L1046 2178 L1052 2184 L1059 2179 L1066 2178 L1071 2174 L1070 2178 L1073 2183 L1077 2189 L1081 2195 L1085 2202 L1095 2199 L1102 2200" stroke-width="7.5"/>
<path d="M1053 2179 L1049 2181 L1046 2185 M1059 2178 L1069 2175 L1073 2175 M1065 2175 L1070 2179 L1082 2186 M1075 2175 L1077 2186 L1084 2196 M1077 2180 L1078 2187 L1078 2194 M1081 2186 L1080 2189 L1076 2187 M1085 2190 L1076 2196 L1066 2198 M1090 2194 L1088 2203 L1090 2212" stroke-width="6.0"/>
<path d="M772 1938 L766 1940 L760 1942 L755 1945 L750 1941 L744 1939 L738 1937 L732 1937 L727 1938 L720 1939 L715 1935 L716 1931 L719 1927 L721 1922 L723 1917 L723 1915 L718 1913 L712 1913 L706 1913 L700 1915 L694 1916 L688 1917 L683 1920 L677 1922 L671 1924 L666 1927 L660 1929 L655 1931 L649 1934 L644 1936 L638 1938 L634 1943 M772 1938 L766 1940 L760 1941 L755 1943 L750 1941 L745 1937 L738 1937 L732 1937 L726 1934 L721 1935 L716 1934 L716 1931 L722 1928 L723 1922 L726 1918 L725 1912 L718 1911 L712 1911 L705 1911 L699 1912 L694 1915 L688 1917 L682 1919 L677 1921 L671 1924 L666 1926 L660 1928 L654 1930 L649 1933 L643 1935 L638 1938 L634 1943" stroke-width="4.5"/>
<path d="M726 1937 L727 1934 L729 1935 M683 1920 L682 1918 L676 1917 M671 1924 L674 1923 L673 1920" stroke-width="3.6"/>
<path d="M634 1943 L637 1948 L642 1952 L646 1956 L650 1960 L655 1962 L661 1963 L661 1967 L657 1971 L653 1974 L655 1980 L659 1985 L657 1991 L659 1996 L661 2001 L666 2002 L672 2002 L678 2006 L684 2005 L689 2007 L695 2005 L701 2006 L707 2007 L712 2009 L717 2012 L721 2016 L727 2019 L731 2016 L735 2011 L739 2008 L744 2004 L750 2004 L756 2001 L761 1999 L765 1998 L769 2003 L768 2009 L765 2012 L760 2016 L756 2019 L754 2025 L757 2030 L761 2034 L764 2039 L765 2046 L765 2052 L761 2057 L757 2062 L751 2064 L745 2063 L739 2062 L733 2060 L728 2056 L725 2056 L725 2060 L730 2064 L726 2067 L720 2068 L716 2072 L711 2075 L705 2073 L700 2070 L695 2068 L691 2068 L687 2071 L681 2074 L677 2078 L674 2083 L674 2089 L670 2093 L664 2095 L661 2101 L658 2106 L654 2110 L648 2114 L646 2119 L643 2125 L640 2130 L637 2135 L638 2141 L639 2147 L642 2152 L646 2156 L652 2159 L653 2165 L655 2170 L652 2175 L649 2181 L645 2186 L648 2191 L650 2197 L656 2201 L659 2205 L662 2211 L666 2216 L670 2220 M634 1943 L636 1949 L640 1953 L644 1959 L648 1963 L655 1965 L661 1964 L660 1966 L656 1970 L652 1974 L655 1980 L658 1985 L657 1991 L656 1997 L657 2006 L666 2005 L671 2008 L677 2009 L683 2009 L689 2008 L696 2009 L701 2007 L707 2006 L711 2013 L716 2014 L720 2018 L727 2023 L731 2016 L736 2014 L740 2008 L744 2005 L750 2003 L756 2001 L762 2000 L765 1998 L767 2003 L767 2008 L765 2013 L759 2015 L755 2019 L753 2025 L756 2030 L758 2036 L761 2040 L761 2046 L762 2051 L760 2056 L755 2058 L751 2060 L745 2060 L739 2061 L734 2059 L729 2055 L723 2054 L724 2061 L730 2064 L725 2064 L721 2069 L716 2073 L711 2074 L706 2071 L701 2068 L696 2065 L690 2065 L683 2066 L678 2071 L675 2077 L674 2083 L672 2089 L670 2093 L664 2096 L660 2100 L657 2105 L652 2109 L649 2114 L646 2119 L642 2124 L637 2128 L635 2135 L636 2141 L638 2147 L642 2152 L646 2156 L649 2161 L651 2165 L655 2170 L652 2175 L649 2180 L644 2185 L646 2192 L652 2196 L654 2202 L658 2207 L662 2211 L665 2216 L670 2220" stroke-width="5.0"/>
<path d="M672 2004 L670 2005 L668 2005 M701 2006 L702 2012 L699 2013 M713 2008 L712 2015 L710 2017 M723 2015 L721 2017 L715 2018 M677 2078 L673 2078 L674 2074 M653 2110 L651 2110 L650 2110 M638 2141 L633 2142 L636 2145 M642 2152 L637 2149 L632 2148 M652 2159 L647 2164 L644 2167 M652 2196 L655 2199 L652 2203" stroke-width="4.0"/>
<path d="M865 1706 L861 1711 L857 1715 L853 1719 L849 1724 L844 1728 L839 1731 L833 1729 L827 1729 L821 1729 L816 1731 L811 1734 L806 1738 L801 1742 L797 1746 L791 1747 L785 1748 L779 1748 L774 1751 L769 1754 L764 1758 L760 1763 L756 1768 L754 1773 L751 1779 L751 1785 L750 1791 L745 1795 L741 1800 L736 1802 L730 1804 L724 1805 L718 1805 L712 1805 L706 1804 L699 1803 L696 1807 L695 1813 L691 1818 L688 1822 L683 1825 M865 1706 L860 1710 L856 1714 L852 1719 L849 1724 L844 1728 L839 1731 L834 1728 L827 1728 L821 1729 L815 1730 L811 1734 L806 1738 L802 1742 L796 1744 L791 1746 L785 1747 L779 1747 L773 1749 L769 1754 L763 1757 L760 1763 L755 1767 L754 1773 L750 1779 L750 1785 L749 1791 L745 1795 L741 1799 L735 1800 L730 1804 L724 1804 L718 1805 L712 1804 L706 1803 L699 1803 L696 1806 L693 1812 L691 1818 L688 1822 L683 1825" stroke-width="4.5"/>
<path d="M750 1791 L749 1791 L746 1791" stroke-width="3.6"/>
<path d="M683 1825 L688 1828 L693 1832 L697 1836 L702 1840 L705 1845 L709 1850 L713 1855 L717 1859 L721 1864 L723 1869 L726 1875 L728 1881 L726 1887 L728 1892 L734 1893 L740 1896 L746 1898 L751 1900 L757 1902 L763 1901 L765 1903 L764 1909 L766 1915 L768 1920 L770 1926 L771 1932 L772 1938 M683 1825 L688 1828 L693 1832 L697 1836 L702 1840 L705 1845 L708 1851 L713 1855 L715 1860 L719 1865 L723 1870 L726 1875 L727 1881 L725 1887 L728 1892 L733 1896 L740 1896 L746 1898 L751 1900 L757 1904 L763 1902 L765 1903 L762 1909 L766 1915 L768 1920 L770 1926 L771 1932 L772 1938" stroke-width="4.5"/>
<path d="M723 1870 L723 1870 L722 1867" stroke-width="3.6"/>
</g>
<g fill="none" stroke="#4d4d4d" stroke-linejoin="round" stroke-linecap="round">
<path d="M938 2295 L944 2298 L948 2302 L950 2308 L954 2312 L951 2316 L948 2322 L948 2328 L945 2334 L946 2341 L942 2345 L940 2352 L934 2355 L932 2361 L925 2363 L920 2366 L916 2372 L911 2376 L909 2382 L901 2382 L898 2389 L892 2392 L886 2393 L880 2396 M938 2295 L943 2299 L946 2305 L949 2309 L953 2312 L950 2316 L949 2322 L944 2328 L945 2334 L946 2341 L941 2345 L939 2351 L930 2351 L931 2360 L927 2365 L920 2366 L912 2366 L906 2370 L905 2378 L902 2383 L896 2385 L892 2390 L886 2392 L880 2396" stroke-width="8.0"/>
<path d="M952 2307 L948 2308 L940 2312 M956 2312 L950 2315 L945 2316 M947 2328 L942 2330 L936 2328 M940 2351 L935 2348 L933 2346 M936 2356 L932 2351 L928 2349 M917 2372 L912 2370 L906 2370 M898 2388 L897 2382 L892 2376 M892 2391 L886 2388 L874 2385" stroke-width="6.4"/>
<path d="M880 2396 L882 2389 L889 2386 L893 2381 L894 2375 L892 2369 L890 2363 L887 2358 L879 2353 L886 2349 L888 2342 L893 2337 L901 2338 L904 2333 L909 2329 L913 2325 L917 2320 L922 2316 L926 2311 L929 2306 M880 2396 L884 2391 L892 2388 L898 2384 L900 2375 L896 2367 L889 2363 L891 2356 L885 2354 L888 2350 L893 2347 L898 2345 L905 2344 L910 2338 L910 2330 L915 2326 L918 2321 L923 2317 L926 2312 L929 2306" stroke-width="8.0"/>
<path d="M887 2385 L888 2389 L892 2393 M890 2380 L897 2374 L899 2372 M893 2375 L897 2374 L899 2373 M882 2354 L889 2360 L895 2362 M896 2341 L896 2345 L898 2356 M905 2334 L907 2338 L910 2341 M909 2329 L912 2336 L916 2343 M917 2320 L922 2323 L928 2325 M921 2316 L926 2323 L924 2333" stroke-width="6.4"/>
</g>
<g fill="none" stroke="#4d4d4d" stroke-linejoin="round" stroke-linecap="round">
<path d="M1303 2253 L1309 2252 L1315 2256 L1316 2263 L1322 2266 L1324 2272 L1325 2278 L1331 2281 L1335 2286 L1338 2293 L1344 2293 L1345 2299 L1351 2302 L1355 2307 L1359 2311 L1360 2319 L1367 2320 L1371 2325 L1376 2329 L1379 2334 L1384 2338 L1387 2343 L1393 2346 L1397 2351 L1404 2348 L1410 2352 L1416 2353 L1421 2354 L1425 2360 L1423 2367 L1428 2371 L1435 2372 L1440 2376 L1445 2379 L1451 2380 L1455 2385 L1461 2388 L1467 2389 L1471 2384 L1476 2381 L1479 2376 L1481 2370 L1487 2369 L1492 2366 L1498 2366 L1504 2367 L1511 2371 L1515 2366 L1520 2361 L1521 2354 L1523 2348 L1521 2342 L1524 2336 L1523 2330 L1520 2324 L1522 2318 L1522 2310 L1515 2308 L1510 2304 L1505 2301 M1303 2253 L1308 2256 L1312 2260 L1314 2264 L1317 2269 L1323 2272 L1324 2279 L1329 2282 L1334 2287 L1340 2289 L1344 2293 L1343 2300 L1347 2306 L1352 2310 L1357 2313 L1360 2319 L1364 2323 L1369 2327 L1375 2330 L1377 2336 L1383 2339 L1387 2343 L1392 2347 L1397 2352 L1403 2353 L1409 2353 L1416 2353 L1420 2355 L1422 2361 L1424 2367 L1429 2370 L1433 2376 L1440 2376 L1445 2379 L1449 2383 L1455 2385 L1460 2391 L1467 2390 L1472 2386 L1478 2382 L1480 2376 L1483 2373 L1488 2372 L1492 2366 L1498 2368 L1504 2369 L1511 2371 L1517 2367 L1520 2361 L1528 2356 L1521 2348 L1526 2342 L1526 2336 L1525 2330 L1524 2324 L1523 2318 L1522 2310 L1517 2305 L1510 2304 L1505 2301" stroke-width="7.0"/>
<path d="M1318 2261 L1315 2263 L1312 2266 M1323 2272 L1318 2273 L1318 2276 M1326 2277 L1323 2281 L1318 2284 M1330 2281 L1330 2285 L1328 2291 M1345 2292 L1346 2296 L1346 2300 M1351 2302 L1348 2305 L1346 2313 M1364 2315 L1360 2320 L1352 2319 M1372 2324 L1374 2328 L1370 2330 M1388 2342 L1384 2343 L1375 2346 M1398 2349 L1397 2355 L1398 2359 M1404 2350 L1404 2356 L1402 2359 M1421 2355 L1420 2357 L1417 2357 M1425 2366 L1422 2367 L1415 2369 M1435 2372 L1431 2374 L1432 2372 M1445 2378 L1446 2385 L1445 2389 M1456 2385 L1456 2390 L1459 2392 M1461 2387 L1456 2392 L1451 2393 M1466 2388 L1465 2391 L1469 2395 M1472 2385 L1472 2387 L1473 2388 M1479 2376 L1481 2378 L1482 2375 M1492 2366 L1496 2367 L1501 2373 M1498 2366 L1497 2370 L1498 2375 M1504 2367 L1505 2372 L1502 2374 M1510 2368 L1512 2370 L1513 2370 M1514 2365 L1518 2370 L1515 2375 M1519 2342 L1523 2342 L1523 2345 M1519 2330 L1525 2332 L1531 2336 M1515 2308 L1518 2305 L1519 2305" stroke-width="5.6"/>
<path d="M1505 2301 L1499 2301 L1494 2300 L1488 2298 L1482 2296 L1476 2298 L1470 2295 L1465 2294 L1459 2294 L1455 2290 L1450 2286 L1444 2284 L1443 2278 L1437 2278 L1437 2271 L1431 2268 L1428 2263 L1423 2260 L1420 2254 L1413 2253 L1409 2248 L1406 2243 L1400 2240 L1398 2234 L1394 2230 L1390 2225 L1385 2221 L1381 2217 L1374 2216 L1370 2212 L1364 2210 L1358 2208 L1355 2203 L1350 2199 L1344 2197 L1343 2192 L1340 2187 L1334 2185 M1505 2301 L1499 2301 L1495 2297 L1488 2297 L1482 2297 L1476 2296 L1471 2293 L1465 2291 L1459 2293 L1454 2291 L1452 2285 L1449 2281 L1444 2277 L1438 2277 L1438 2271 L1433 2267 L1430 2261 L1425 2257 L1420 2254 L1415 2250 L1410 2247 L1409 2240 L1404 2237 L1400 2232 L1395 2228 L1392 2222 L1386 2220 L1380 2218 L1375 2215 L1370 2211 L1365 2209 L1360 2206 L1354 2203 L1350 2199 L1344 2198 L1347 2190 L1340 2186 L1334 2185" stroke-width="6.0"/>
<path d="M1494 2300 L1497 2299 L1495 2289 M1482 2297 L1488 2292 L1489 2288 M1471 2294 L1473 2289 L1472 2287 M1465 2293 L1465 2290 L1465 2291 M1454 2291 L1459 2289 L1458 2288 M1445 2283 L1450 2284 L1451 2282 M1437 2271 L1441 2273 L1446 2272 M1424 2259 L1426 2258 L1428 2257 M1402 2238 L1408 2231 L1408 2231 M1398 2233 L1398 2224 L1396 2223 M1390 2225 L1389 2225 L1392 2222 M1380 2218 L1382 2211 L1380 2208 M1354 2203 L1358 2202 L1363 2198" stroke-width="4.8"/>
</g>
<defs><clipPath id="panc"><path d="M1331.2 2185.2 L1302.6 2252.8 L1315.2 2257.4 L1322.1 2266.5 L1324.4 2275.7 L1333.5 2284.8 L1345.0 2291.7 L1349.5 2300.9 L1363.3 2314.6 L1379.3 2332.9 L1395.3 2348.9 L1420.5 2353.5 L1425.1 2367.3 L1438.8 2374.1 L1452.6 2383.3 L1464.0 2389.0 L1477.7 2381.0 L1480.0 2371.8 L1493.8 2365.0 L1512.1 2368.4 L1519.0 2355.8 L1519.0 2310.0 L1509.8 2305.4 L1505.2 2300.9 L1498.4 2302.0 L1489.2 2297.4 L1477.7 2296.3 L1466.3 2292.8 L1457.1 2294.0 L1452.6 2289.4 L1445.7 2284.8 L1443.4 2278.0 L1437.7 2278.0 L1436.5 2271.1 L1425.1 2259.7 L1413.6 2250.5 L1404.5 2241.3 L1397.6 2232.2 L1390.8 2226.5 L1381.6 2218.4 L1370.1 2213.9 L1361.0 2209.3 L1351.8 2201.3 L1342.7 2197.8 L1340.4 2188.7 L1333.5 2185.2 Z"/></clipPath></defs>
<g fill="none" stroke="#4d4d4d" stroke-linejoin="round" stroke-linecap="round" clip-path="url(#panc)">
<path d="M1334 2189 L1337 2194 L1338 2200 L1344 2204 L1347 2209 L1348 2216 L1352 2220 L1355 2226 L1359 2231 L1361 2236 L1364 2241 L1367 2247 L1372 2252 L1374 2257 L1378 2262 L1384 2266 L1386 2271 L1388 2278 L1390 2283 L1393 2289 L1396 2294 L1401 2298 L1404 2303 M1334 2189 L1335 2195 L1340 2199 L1341 2206 L1347 2209 L1350 2215 L1351 2221 L1351 2228 L1357 2232 L1358 2238 L1363 2242 L1365 2248 L1370 2252 L1374 2257 L1378 2262 L1380 2268 L1382 2274 L1387 2278 L1387 2286 L1393 2289 L1396 2294 L1400 2299 L1404 2303" stroke-width="7"/>
<path d="M1340 2199 L1340 2201 L1336 2207 M1347 2209 L1345 2212 L1345 2218 M1350 2214 L1346 2218 L1342 2222 M1354 2219 L1351 2214 L1349 2209 M1360 2230 L1354 2229 L1350 2231 M1378 2262 L1374 2261 L1369 2262 M1381 2267 L1375 2269 L1370 2270 M1384 2273 L1379 2275 L1378 2277 M1387 2278 L1384 2283 L1383 2283 M1394 2288 L1391 2291 L1386 2300 M1397 2293 L1394 2292 L1392 2293" stroke-width="5"/>
<path d="M1343 2200 L1346 2205 L1351 2209 L1356 2212 L1359 2218 L1363 2222 L1368 2226 L1371 2231 L1376 2235 L1380 2239 L1384 2244 L1387 2249 L1392 2253 L1397 2257 L1402 2260 L1405 2266 L1411 2269 L1416 2271 L1423 2272 L1426 2278 L1432 2280 M1343 2200 L1346 2205 L1349 2210 L1354 2215 L1358 2219 L1362 2224 L1366 2227 L1370 2233 L1376 2235 L1380 2240 L1380 2248 L1388 2249 L1392 2253 L1398 2256 L1402 2261 L1405 2266 L1410 2269 L1414 2275 L1421 2276 L1425 2280 L1432 2280" stroke-width="7"/>
<path d="M1355 2213 L1357 2218 L1364 2225 M1359 2218 L1357 2218 L1355 2219 M1363 2222 L1359 2226 L1360 2226 M1367 2227 L1373 2231 L1370 2237 M1371 2231 L1370 2237 L1363 2240 M1376 2235 L1375 2238 L1370 2246 M1389 2248 L1388 2254 L1381 2259 M1398 2256 L1396 2255 L1393 2258 M1402 2260 L1402 2266 L1406 2267 M1407 2264 L1407 2266 L1407 2269 M1412 2267 L1406 2273 L1406 2276" stroke-width="5"/>
<path d="M1318 2223 L1322 2227 L1326 2232 L1331 2236 L1335 2241 L1338 2246 L1340 2253 L1346 2256 L1350 2261 L1354 2266 L1357 2272 L1359 2277 L1364 2282 L1367 2287 L1373 2291 L1376 2296 L1378 2303 L1382 2308 M1318 2223 L1321 2228 L1325 2233 L1329 2238 L1334 2242 L1337 2247 L1342 2251 L1345 2257 L1348 2262 L1352 2267 L1356 2272 L1359 2278 L1361 2284 L1365 2289 L1369 2294 L1375 2297 L1378 2303 L1382 2308" stroke-width="7"/>
<path d="M1334 2242 L1330 2244 L1333 2247 M1339 2246 L1333 2246 L1322 2247 M1350 2261 L1344 2261 L1340 2264 M1353 2266 L1348 2266 L1350 2270 M1361 2277 L1361 2279 L1356 2280 M1364 2282 L1362 2281 L1354 2279 M1371 2292 L1368 2296 L1366 2294 M1375 2297 L1375 2300 L1368 2308" stroke-width="5"/>
<path d="M1313 2244 L1318 2248 L1321 2253 L1325 2259 L1329 2263 L1333 2269 L1337 2273 L1340 2279 L1344 2284 L1347 2290 L1352 2294 M1313 2244 L1314 2252 L1320 2254 L1325 2259 L1329 2264 L1331 2270 L1336 2274 L1334 2283 L1339 2287 L1345 2291 L1352 2294" stroke-width="7"/>
<path d="M1321 2253 L1313 2258 L1311 2259 M1334 2267 L1340 2269 L1340 2273 M1338 2273 L1335 2273 L1331 2276" stroke-width="5"/>
<path d="M1361 2212 L1366 2216 L1370 2220 L1375 2224 L1379 2229 L1382 2235 L1389 2237 L1393 2242 L1397 2246 L1400 2252 L1407 2253 L1411 2258 L1415 2264 L1420 2266 M1361 2212 L1362 2219 L1369 2222 L1372 2227 L1378 2230 L1383 2234 L1386 2239 L1390 2244 L1394 2249 L1401 2251 L1406 2255 L1410 2259 L1415 2263 L1420 2266" stroke-width="7"/>
<path d="M1406 2254 L1407 2254 L1402 2255 M1411 2258 L1405 2263 L1403 2269" stroke-width="5"/>
<path d="M1382 2221 L1384 2227 L1389 2231 L1394 2235 L1398 2240 L1402 2245 L1406 2250 L1412 2253 L1415 2259 L1421 2261 L1425 2266 L1430 2271 M1382 2221 L1383 2228 L1389 2231 L1393 2236 L1397 2241 L1402 2245 L1406 2250 L1410 2255 L1413 2261 L1418 2265 L1425 2267 L1430 2271" stroke-width="7"/>
<path d="M1394 2235 L1390 2241 L1386 2246 M1398 2240 L1392 2242 L1393 2245 M1402 2245 L1403 2251 L1405 2255 M1406 2250 L1403 2253 L1395 2257 M1416 2258 L1413 2265 L1413 2270" stroke-width="5"/>
<path d="M1329 2257 L1335 2260 L1339 2265 L1342 2272 L1349 2274 L1354 2278 L1359 2282 L1363 2288 L1366 2294 L1370 2299 M1329 2257 L1334 2262 L1336 2269 L1343 2270 L1346 2277 L1351 2281 L1354 2287 L1359 2291 L1364 2295 L1370 2299" stroke-width="7"/>
<path d="M1339 2266 L1339 2272 L1339 2280 M1348 2275 L1341 2275 L1337 2273 M1353 2279 L1352 2280 L1342 2281 M1357 2284 L1352 2287 L1349 2291 M1361 2289 L1361 2293 L1356 2295" stroke-width="5"/>
<path d="M1398 2349 L1404 2350 L1408 2355 L1414 2358 L1420 2359 L1426 2361 L1430 2366 L1435 2369 L1441 2372 L1446 2374 L1452 2376 L1457 2377 L1463 2378 L1469 2377 L1476 2376 M1398 2349 L1403 2352 L1408 2355 L1414 2358 L1419 2360 L1422 2368 L1430 2366 L1433 2372 L1440 2373 L1445 2377 L1450 2382 L1457 2380 L1464 2381 L1470 2378 L1476 2376" stroke-width="7"/>
<path d="M1419 2360 L1418 2362 L1413 2362 M1425 2363 L1424 2365 L1422 2364 M1430 2366 L1427 2369 L1421 2369 M1441 2372 L1436 2376 L1436 2378" stroke-width="5"/>
<path d="M1420 2356 L1427 2357 L1432 2361 L1439 2361 L1443 2366 L1449 2368 L1453 2372 L1457 2377 L1462 2381 L1466 2386 M1420 2356 L1426 2359 L1432 2361 L1437 2364 L1442 2368 L1448 2370 L1450 2376 L1456 2378 L1459 2384 L1466 2386" stroke-width="7"/>
<path d="M1449 2368 L1448 2373 L1447 2376 M1458 2377 L1459 2376 L1453 2380" stroke-width="5"/>
<path d="M1443 2349 L1449 2351 L1455 2355 L1461 2356 L1468 2358 L1473 2363 L1480 2363 L1487 2362 L1493 2364 L1499 2365 L1506 2365 L1512 2363 M1443 2349 L1448 2355 L1455 2354 L1460 2360 L1467 2360 L1473 2364 L1480 2364 L1486 2365 L1493 2366 L1500 2368 L1506 2364 L1512 2363" stroke-width="7"/>
<path d="M1467 2359 L1470 2362 L1470 2365 M1474 2361 L1468 2363 L1467 2364 M1480 2362 L1481 2369 L1480 2368 M1493 2365 L1491 2365 L1489 2368" stroke-width="5"/>
<path d="M1478 2349 L1483 2351 L1489 2354 L1496 2353 L1501 2357 L1506 2356 L1510 2350 L1517 2349 M1478 2349 L1483 2351 L1488 2355 L1495 2356 L1501 2358 L1507 2357 L1512 2354 L1517 2349" stroke-width="7"/>
<path d="M1489 2353 L1485 2356 L1481 2357 M1495 2355 L1501 2357 L1504 2363 M1506 2356 L1506 2360 L1506 2365" stroke-width="5"/>
<path d="M1352 2248 L1357 2252 L1359 2258 L1365 2260 L1370 2265 L1374 2269 L1377 2274 L1379 2280 L1385 2284 L1388 2289 L1391 2294 M1352 2248 L1356 2253 L1359 2258 L1364 2261 L1368 2266 L1369 2273 L1375 2276 L1378 2281 L1382 2285 L1385 2291 L1391 2294" stroke-width="7"/>
<path d="M1365 2261 L1360 2266 L1355 2265 M1376 2275 L1378 2281 L1380 2286" stroke-width="5"/>
<path d="M1375 2262 L1380 2266 L1384 2271 L1388 2276 L1393 2281 L1397 2285 L1402 2290 L1406 2295 L1411 2299 L1416 2303 M1375 2262 L1375 2271 L1383 2272 L1387 2277 L1392 2282 L1396 2286 L1401 2291 L1406 2295 L1411 2299 L1416 2303" stroke-width="7"/>
<path d="M1402 2289 L1398 2295 L1398 2297" stroke-width="5"/>
<path d="M1409 2266 L1413 2272 L1417 2277 L1423 2281 L1428 2285 L1429 2292 L1433 2298 L1436 2303 M1409 2266 L1411 2274 L1417 2277 L1420 2283 L1425 2288 L1429 2292 L1432 2298 L1436 2303" stroke-width="7"/>
<path d="M1430 2292 L1429 2294 L1428 2295" stroke-width="5"/>
</g><g fill="none" stroke="#4d4d4d" stroke-linejoin="round" stroke-linecap="round">
<path d="M524 268 L527 274 L533 277 L536 282 L538 288 L537 295 L540 301 L544 306 L544 312 L545 318 L544 324 L542 329 L540 335 M524 268 L527 274 L531 279 L535 283 L538 289 L536 296 L538 301 L542 306 L542 313 L544 318 L541 323 L541 329 L540 335" stroke-width="7"/>
<path d="M539 288 L536 289 L533 287 M541 294 L538 297 L532 297 M544 306 L541 304 L537 302 M545 312 L542 316 L535 319 M546 324 L544 327 L541 330" stroke-width="5"/>
<path d="M531 274 L534 280 L538 284 L543 288 L547 292 L551 297 L551 303 L557 308 L556 314 L555 320 L554 326 L553 332 M531 274 L531 283 L537 286 L543 288 L546 293 L550 297 L552 303 L554 309 L555 314 L554 320 L550 325 L553 332" stroke-width="7"/>
<path d="M553 303 L551 304 L549 309 M556 320 L553 320 L550 320" stroke-width="5"/>
<path d="M521 316 L527 319 L531 324 L534 330 L531 337 L524 339 M521 316 L523 323 L530 325 L530 329 L526 331 L524 339" stroke-width="7"/>
<path d="M530 325 L527 330 L523 332" stroke-width="5"/>
<path d="M539 262 L541 270 L544 278 M539 262 L539 270 L544 278" stroke-width="7"/>
</g>
<text x="366.8" y="379.5" font-size="75.0" class="b h" text-anchor="start">Below</text>
<text x="1203.9" y="1249.0" font-size="75.0" class="b h" text-anchor="start">Above</text>
<text x="2828.6" y="753.5" font-size="75.0" class="b h" text-anchor="start">Above</text>
<text x="1115.2" y="530.9" font-size="75.0" class="b" text-anchor="start">Equal</text>
<text x="1061.7" y="616.6" font-size="75.0" class="b" text-anchor="start">Chances</text>
<text x="938.3" y="1966.2" font-size="57.0" class="b h" text-anchor="start" letter-spacing="0.90">Equal</text>
<text x="898.3" y="2032.6" font-size="57.0" class="b h" text-anchor="start" letter-spacing="0.40">Chances</text>
<text x="720.2" y="2257.8" font-size="57.0" class="b h" text-anchor="start">Above</text>
<text x="1352.4" y="2341.6" font-size="57.0" class="b h" text-anchor="start">Below</text>
<text x="665.2" y="147" font-size="150">Monthly Temperature Outlook</text>
<text x="1163" y="263.7" font-size="66" class="b">Valid:</text><text x="1376.7" y="263.7" font-size="66" letter-spacing="0.4">July 2022</text>
<text x="1162.8" y="338.8" font-size="66" class="b">Issued:</text><text x="1432.6" y="338.8" font-size="66" letter-spacing="0.43">June 16, 2022</text>
<text x="1820.4" y="1961.5" font-size="54" class="b" letter-spacing="0.75">Probability (Percent Chance)</text>
<text x="1801.1" y="2030" font-size="39" class="b" letter-spacing="1.67">Above Normal</text>
<text x="2322.7" y="2030" font-size="39" class="b" letter-spacing="1.49">Below Normal</text>
<rect x="1801.7" y="2078.2" width="93" height="40.6" fill="#EAB46A" stroke="#6e6e6e" stroke-width="4"/>
<rect x="2506.6" y="2078.2" width="93.3" height="40.6" fill="#C0CCE6" stroke="#6e6e6e" stroke-width="4"/>
<text x="1916.5" y="2112.4" font-size="39" letter-spacing="0.4">33-40%</text>
<text x="2483.5" y="2112.4" font-size="39" text-anchor="end" letter-spacing="0.4">33-40%</text>
<rect x="1801.7" y="2144.9" width="93" height="40.6" fill="#E88F4F" stroke="#6e6e6e" stroke-width="4"/>
<rect x="2506.6" y="2144.9" width="93.3" height="40.6" fill="#A3C3E2" stroke="#6e6e6e" stroke-width="4"/>
<text x="1916.5" y="2179.1" font-size="39" letter-spacing="0.4">40-50%</text>
<text x="2483.5" y="2179.1" font-size="39" text-anchor="end" letter-spacing="0.4">40-50%</text>
<rect x="1801.7" y="2211.7" width="93" height="40.6" fill="#E05C34" stroke="#6e6e6e" stroke-width="4"/>
<rect x="2506.6" y="2211.7" width="93.3" height="40.6" fill="#8BBFE9" stroke="#6e6e6e" stroke-width="4"/>
<text x="1916.5" y="2245.9" font-size="39" letter-spacing="0.4">50-60%</text>
<text x="2483.5" y="2245.9" font-size="39" text-anchor="end" letter-spacing="0.4">50-60%</text>
<rect x="1801.7" y="2278.4" width="93" height="40.6" fill="#CC2F2B" stroke="#6e6e6e" stroke-width="4"/>
<rect x="2506.6" y="2278.4" width="93.3" height="40.6" fill="#3FA3E0" stroke="#6e6e6e" stroke-width="4"/>
<text x="1916.5" y="2312.6" font-size="39" letter-spacing="0.4">60-70%</text>
<text x="2483.5" y="2312.6" font-size="39" text-anchor="end" letter-spacing="0.4">60-70%</text>
<rect x="1801.7" y="2345.2" width="93" height="40.6" fill="#D42C4E" stroke="#6e6e6e" stroke-width="4"/>
<rect x="2506.6" y="2345.2" width="93.3" height="40.6" fill="#0763AB" stroke="#6e6e6e" stroke-width="4"/>
<text x="1916.5" y="2379.4" font-size="39" letter-spacing="0.4">70-80%</text>
<text x="2483.5" y="2379.4" font-size="39" text-anchor="end" letter-spacing="0.4">70-80%</text>
<rect x="1801.7" y="2411.9" width="93" height="40.6" fill="#8E3341" stroke="#6e6e6e" stroke-width="4"/>
<rect x="2506.6" y="2411.9" width="93.3" height="40.6" fill="#33208A" stroke="#6e6e6e" stroke-width="4"/>
<text x="1916.5" y="2446.1" font-size="39" letter-spacing="0.4">80-90%</text>
<text x="2483.5" y="2446.1" font-size="39" text-anchor="end" letter-spacing="0.4">80-90%</text>
<rect x="1801.7" y="2478.7" width="93" height="40.6" fill="#65232A" stroke="#6e6e6e" stroke-width="4"/>
<rect x="2506.6" y="2478.7" width="93.3" height="40.6" fill="#251B58" stroke="#6e6e6e" stroke-width="4"/>
<text x="1916.5" y="2512.9" font-size="39" letter-spacing="0.4">90-100%</text>
<text x="2483.5" y="2512.9" font-size="39" text-anchor="end" letter-spacing="0.4">90-100%</text>
<rect x="2154.3" y="2310.8" width="92.5" height="40.2" fill="#fff" stroke="#6e6e6e" stroke-width="4"/>
<text x="2142.7" y="2216.5" font-size="39" class="b" letter-spacing="1.95">Equal</text>
<text x="2113.8" y="2263.8" font-size="39" class="b" letter-spacing="1.6">Chances</text>
<text x="1530.6" y="2115.1" font-size="48" letter-spacing="1.35">Leaning</text>
<text x="1549.0" y="2172.8" font-size="48" letter-spacing="1.65">Above</text>
<text x="1554.9" y="2350.3" font-size="48" letter-spacing="0.80">Likely</text>
<text x="1549.7" y="2407.4" font-size="48" letter-spacing="1.65">Above</text>
<text x="2700.7" y="2115.1" font-size="48" letter-spacing="1.35">Leaning</text>
<text x="2722.4" y="2172.8" font-size="48" letter-spacing="0.60">Below</text>
<text x="2725.0" y="2349.2" font-size="48" letter-spacing="0.80">Likely</text>
<text x="2722.4" y="2406.9" font-size="48" letter-spacing="0.60">Below</text>
<path d="M1785.6 2072.6 C1764.1 2072.6 1749.8 2086.2 1749.8 2106.6 L1749.8 2101.3 C1749.8 2119.3 1732.1 2130.3 1714.4 2131.3 C1732.1 2132.3 1749.8 2143.3 1749.8 2161.3 L1749.8 2156.0 C1749.8 2176.4 1764.1 2190.0 1785.6 2190.0" fill="none" stroke="#000" stroke-width="1.7" stroke-linecap="round"/>
<path d="M1785.6 2209.4 C1764.4 2209.4 1750.3 2247.4 1750.3 2304.4 L1750.3 2281.4 C1750.3 2332.4 1732.3 2365.4 1714.4 2366.4 C1732.3 2367.4 1750.3 2400.4 1750.3 2451.4 L1750.3 2428.3 C1750.3 2485.3 1764.4 2523.3 1785.6 2523.3" fill="none" stroke="#000" stroke-width="3.4" stroke-linecap="round"/>
<path d="M2621.2 2072.6 C2643.0 2072.6 2657.5 2086.2 2657.5 2106.6 L2657.5 2101.3 C2657.5 2119.3 2675.8 2130.3 2694.2 2131.3 C2675.8 2132.3 2657.5 2143.3 2657.5 2161.3 L2657.5 2156.0 C2657.5 2176.4 2643.0 2190.0 2621.2 2190.0" fill="none" stroke="#000" stroke-width="1.7" stroke-linecap="round"/>
<path d="M2621.2 2209.4 C2643.1 2209.4 2657.7 2247.4 2657.7 2304.4 L2657.7 2282.0 C2657.7 2333.0 2675.9 2366.0 2694.2 2367.0 C2675.9 2368.0 2657.7 2401.0 2657.7 2452.0 L2657.7 2428.3 C2657.7 2485.3 2643.1 2523.3 2621.2 2523.3" fill="none" stroke="#000" stroke-width="3.4" stroke-linecap="round"/>
<g><circle cx="316.3" cy="103.2" r="92.2" fill="#1a8ec9" stroke="#0c4f7a" stroke-width="1.6"/><circle cx="316.3" cy="103.2" r="71.6" fill="#fff" stroke="#0c4f7a" stroke-width="1.6"/><defs><path id="dt" d="M242.0 119.0 A76.0 76.0 0 1 1 390.6 119.0"/><path id="db" d="M229.7 91.0 A87.5 87.5 0 1 0 402.9 91.0"/></defs><text font-size="15" fill="#fff" letter-spacing="0"><textPath href="#dt" startOffset="50%" text-anchor="middle">DEPARTMENT OF COMMERCE</textPath></text><text font-size="15.3" fill="#fff" letter-spacing="0.3"><textPath href="#db" startOffset="50%" text-anchor="middle">UNITED STATES OF AMERICA</textPath></text><polygon points="233.6,100.9 234.3,102.9 236.5,103.0 234.8,104.3 235.4,106.3 233.6,105.1 231.9,106.3 232.5,104.3 230.8,103.0 232.9,102.9" fill="#fff"/><polygon points="399.1,102.2 399.9,104.2 402.0,104.2 400.3,105.5 400.9,107.6 399.1,106.4 397.4,107.6 398.0,105.5 396.3,104.2 398.4,104.2" fill="#fff"/><polygon points="274.7,89.3 357.5,89.3 351.9,96.4 351.9,148.1 348.1,158.0 315.8,172.3 283.4,158.0 279.7,148.1 279.7,96.4" fill="#d9a520" stroke="#111" stroke-width="2.2" stroke-linejoin="round"/><polygon points="274.7,89.3 357.5,89.3 351.9,96.4 351.9,127.2 279.7,127.2 279.7,96.4" fill="#1a8ec9" stroke="#111" stroke-width="2.2" stroke-linejoin="round"/><polygon points="280.3,122.6 351.2,122.6 351.2,126.9 280.3,126.9" fill="#123a78"/><polygon points="284.7,111.4 297.1,117.0 344.4,117.6 339.4,122.6 302.1,122.6" fill="#111"/><polygon points="304.6,99.6 313.9,99.6 314.5,104.5 304.0,104.5" fill="#fff" stroke="#111" stroke-width="0.6"/><polygon points="304.6,105.8 313.9,105.8 314.5,110.8 304.0,110.8" fill="#fff" stroke="#111" stroke-width="0.6"/><polygon points="304.6,112.6 313.9,112.6 314.5,117.6 304.0,117.6" fill="#fff" stroke="#111" stroke-width="0.6"/><polygon points="315.8,99.6 325.1,99.6 325.7,104.5 315.2,104.5" fill="#fff" stroke="#111" stroke-width="0.6"/><polygon points="315.8,105.8 325.1,105.8 325.7,110.8 315.2,110.8" fill="#fff" stroke="#111" stroke-width="0.6"/><polygon points="315.8,112.6 325.1,112.6 325.7,117.6 315.2,117.6" fill="#fff" stroke="#111" stroke-width="0.6"/><polygon points="328.2,99.6 337.6,99.6 338.2,104.5 327.6,104.5" fill="#fff" stroke="#111" stroke-width="0.6"/><polygon points="328.2,105.8 337.6,105.8 338.2,110.8 327.6,110.8" fill="#fff" stroke="#111" stroke-width="0.6"/><polygon points="328.2,112.6 337.6,112.6 338.2,117.6 327.6,117.6" fill="#fff" stroke="#111" stroke-width="0.6"/><polygon points="289.6,112.0 304.6,100.8 303.3,115.7" fill="#fff" stroke="#111" stroke-width="0.6"/><line x1="309.6" y1="94.0" x2="309.6" y2="117.6" stroke="#111" stroke-width="1"/><line x1="320.8" y1="94.0" x2="320.8" y2="117.6" stroke="#111" stroke-width="1"/><line x1="332.6" y1="94.0" x2="332.6" y2="117.6" stroke="#111" stroke-width="1"/><polygon points="313.3,130.0 318.5,130.0 319.5,163.0 312.3,163.0" fill="#555" stroke="#222" stroke-width="0.6"/><polygon points="304.6,164.3 327.0,164.3 322.0,169.2 315.8,172.1 309.6,169.2" fill="#666" stroke="#222" stroke-width="0.6"/><ellipse cx="315.8" cy="135.0" rx="14" ry="2.2" fill="#f3e2a0"/><polygon points="313.3,69.7 308.3,74.7 302.1,67.2 295.9,54.8 290.9,42.3 299.6,49.8 307.1,56.0 312.0,61.0 313.9,58.5" fill="#8a5a14" stroke="#2a1a05" stroke-width="1.2" stroke-linejoin="round"/><polygon points="319.5,69.7 324.5,74.7 330.7,67.2 336.9,56.0 341.9,43.6 333.2,49.8 325.7,54.8 320.8,59.7 318.9,58.5" fill="#8a5a14" stroke="#2a1a05" stroke-width="1.2" stroke-linejoin="round"/><polygon points="312.7,58.5 315.8,54.8 320.1,58.5 321.4,69.7 322.0,82.1 310.8,82.1 311.4,69.7" fill="#b07818" stroke="#2a1a05" stroke-width="1.2" stroke-linejoin="round"/><polygon points="312.7,59.7 313.9,55.4 318.3,54.8 320.8,58.5 318.3,62.8 314.5,62.8" fill="#eee" stroke="#2a1a05" stroke-width="1"/><polygon points="300.2,82.8 333.2,82.8 333.8,85.9 300.2,85.9" fill="#222"/></g>
<g><path d="M3060.4 47.9 C3058.5 48.8 3052.5 50.9 3049.2 53.5 C3045.9 56.1 3043.4 59.1 3040.5 63.5 C3037.6 67.8 3034.9 74.0 3031.8 79.6 C3028.7 85.2 3025.3 91.7 3021.8 97.1 C3018.3 102.5 3014.4 108.1 3010.6 112.0 C3006.9 115.9 3003.4 118.7 2999.4 120.7 C2995.5 122.7 2990.9 124.0 2987.0 123.8 C2983.0 123.6 2979.5 121.6 2975.8 119.5 C2972.0 117.3 2968.3 114.3 2964.6 110.8 C2960.8 107.2 2957.1 103.1 2953.4 98.3 C2949.6 93.5 2945.9 87.3 2942.2 82.1 C2938.4 76.9 2934.7 71.3 2931.0 67.2 C2927.2 63.0 2923.6 60.0 2919.8 57.2 C2915.9 54.4 2909.9 51.5 2908.0 50.4 A94.0 94.0 0 0 1 3060.4 47.9 Z" fill="#10308d"/><path d="M2894.3 79.6 C2895.2 79.8 2897.7 79.6 2899.9 80.9 C2902.0 82.1 2904.4 84.4 2907.3 87.1 C2910.2 89.8 2913.6 93.5 2917.3 97.1 C2921.0 100.6 2925.6 104.9 2929.7 108.3 C2933.9 111.6 2937.6 114.3 2942.2 117.0 C2946.7 119.7 2952.1 122.6 2957.1 124.4 C2962.1 126.3 2967.9 127.3 2972.0 128.2 C2976.2 129.0 2980.3 129.2 2982.0 129.4 C2981.2 130.0 2979.5 131.7 2977.0 133.2 C2974.5 134.6 2970.6 136.9 2967.1 138.1 C2963.5 139.4 2957.7 140.2 2955.9 140.6 C2956.5 141.0 2956.7 142.6 2959.6 143.1 C2962.5 143.6 2969.6 144.1 2973.3 143.7 C2977.0 143.3 2978.9 142.0 2982.0 140.6 C2985.1 139.3 2988.2 137.3 2992.0 135.6 C2995.7 134.0 3000.2 131.9 3004.4 130.7 C3008.5 129.4 3013.1 128.8 3016.8 128.2 C3020.6 127.6 3025.1 127.1 3026.8 126.9 C3026.2 126.3 3025.3 123.9 3023.1 123.2 C3020.8 122.5 3016.1 122.7 3013.1 122.6 C3010.1 122.5 3006.4 122.6 3005.0 122.6 C3006.4 122.1 3009.7 121.2 3013.1 119.5 C3016.5 117.7 3021.4 115.3 3025.6 112.0 C3029.7 108.7 3033.8 103.9 3038.0 99.6 C3042.1 95.2 3046.7 90.2 3050.4 85.9 C3054.2 81.5 3057.2 77.3 3060.4 73.4 C3063.6 69.6 3068.2 64.6 3069.7 62.8 A94.0 94.0 0 1 1 2894.3 79.6 Z" fill="#0496d7"/><text x="2947.8" y="72.2" font-size="33" font-weight="bold" fill="#fff" textLength="74.7" lengthAdjust="spacingAndGlyphs">NOAA</text></g>
</svg></body></html>
